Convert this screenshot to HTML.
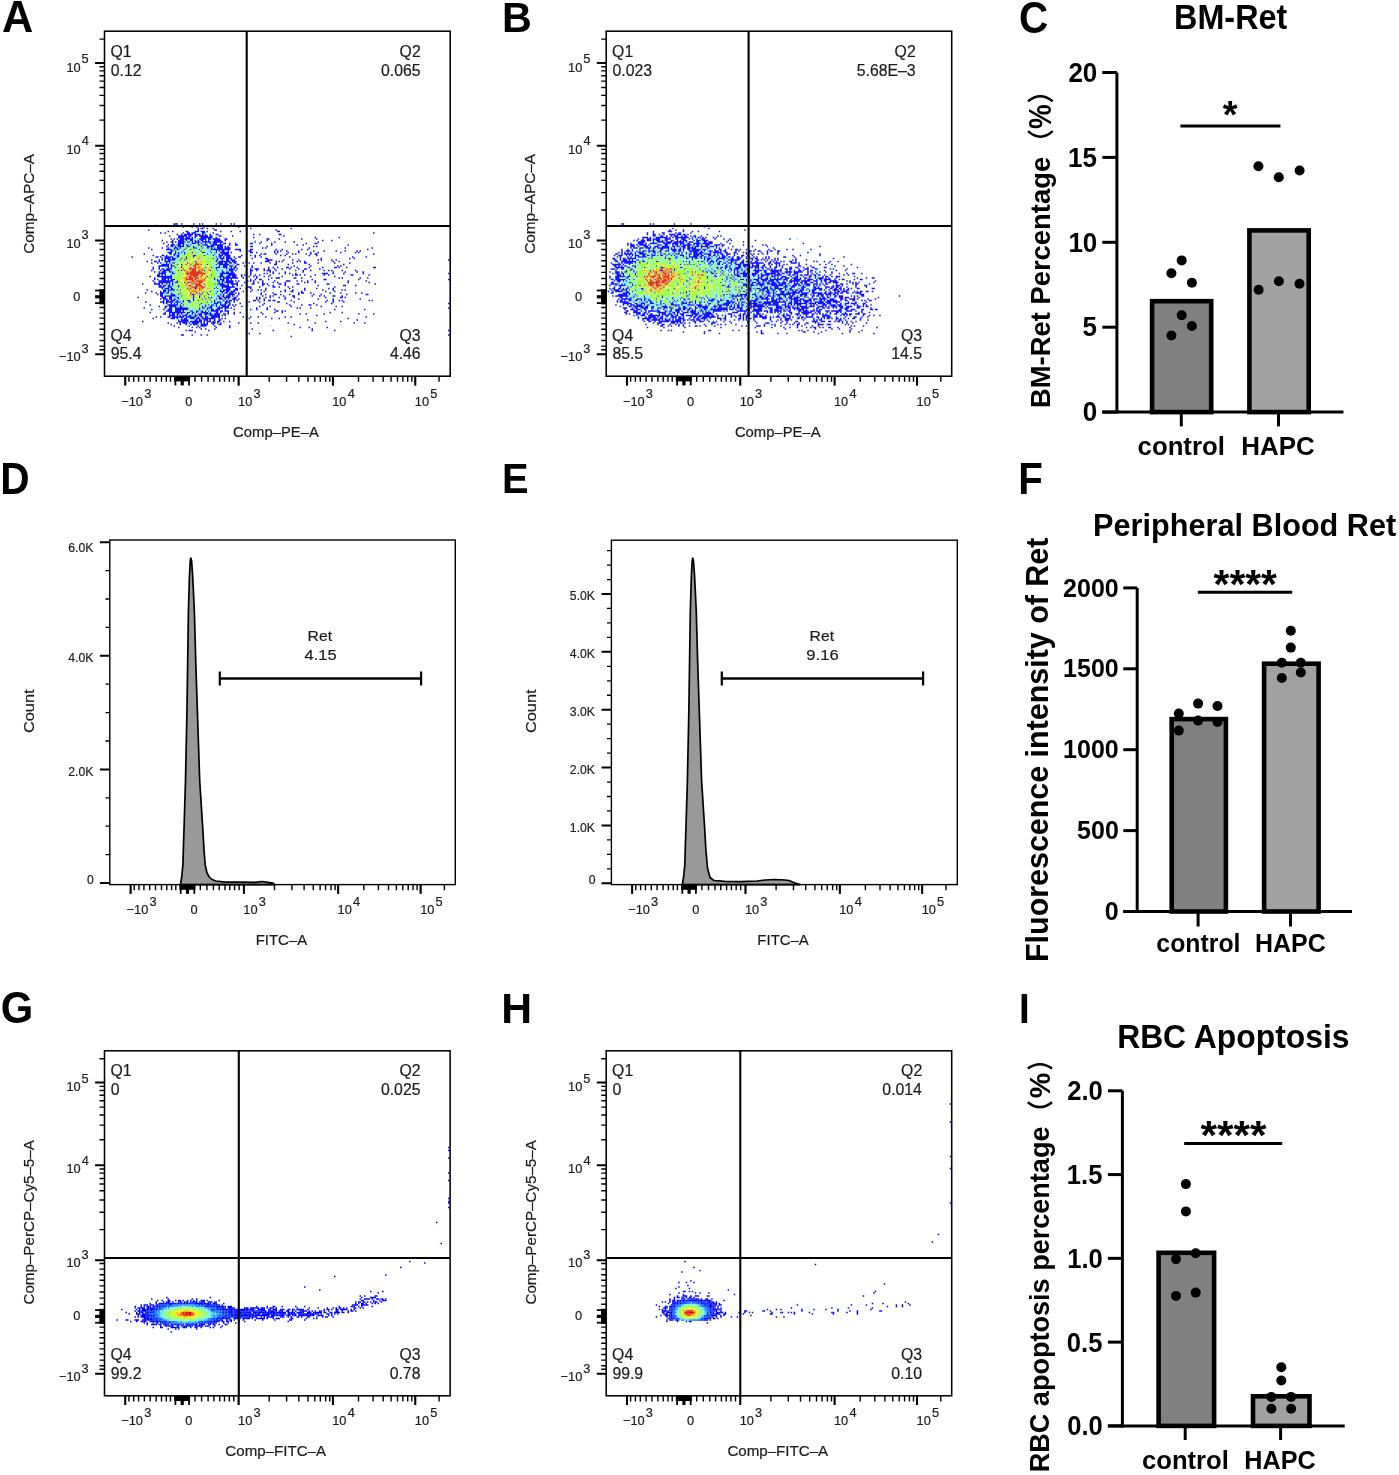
<!DOCTYPE html><html><head><meta charset="utf-8"><style>html,body{margin:0;padding:0;background:#fff}body{width:1399px;height:1475px;overflow:hidden}svg{display:block;filter:blur(0.45px)}text{font-family:"Liberation Sans",sans-serif}</style></head><body><svg width="1399" height="1475" viewBox="0 0 1399 1475"><rect width="1399" height="1475" fill="#fff"/><g transform="translate(104.5 31.95) scale(1.5)" fill="none" stroke-width="1"><path stroke="#1414ff" d="M46 128h1m0 0h1m0 0h1m2 0h1m7 0h1m3 0h1m1 0h1m8 0h1m2 0h1m6 0h1m1 0h1m-53 1h1m11 0h1m58 0h1m-54 1h1m5 0h1m2 0h1m4 0h1m22 0h1m-28 1h1m1 0h1m0 0h1m2 0h1m3 0h1m24 0h1m26 0h1m-96 1h1m32 0h1m10 0h1m0 0h1m39 0h1m-73 1h1m2 0h1m8 0h1m0 0h1m4 0h1m0 0h1m0 0h1m1 0h1m0 0h1m0 0h1m1 0h1m8 0h1m6 0h1m5 0h1m24 0h1m0 0h1m-80 1h1m2 0h1m11 0h1m2 0h1m0 0h1m1 0h1m0 0h1m0 0h1m4 0h1m0 0h1m5 0h1m106 0h1m-132 1h1m2 0h1m1 0h1m0 0h1m0 0h1m0 0h1m0 0h1m0 0h1m1 0h1m0 0h1m0 0h1m0 0h1m1 0h1m1 0h1m2 0h1m3 0h1m0 0h1m23 0h1m3 0h1m12 0h1m0 0h1m-75 1h1m5 0h1m0 0h1m0 0h1m0 0h1m0 0h1m0 0h1m1 0h1m0 0h1m2 0h1m0 0h1m1 0h1m0 0h1m0 0h1m0 0h1m0 0h1m0 0h1m1 0h1m0 0h1m4 0h1m0 0h1m7 0h1m33 0h1m-71 1h1m0 0h1m0 0h1m0 0h1m1 0h1m0 0h1m0 0h1m1 0h1m1 0h1m3 0h1m0 0h1m0 0h1m0 0h1m0 0h1m0 0h1m0 0h1m0 0h1m2 0h1m24 0h1m40 0h1m15 0h1m-113 1h1m1 0h1m1 0h1m1 0h1m0 0h1m0 0h1m0 0h1m0 0h1m0 0h1m0 0h1m0 0h1m0 0h1m4 0h1m0 0h1m0 0h1m0 0h1m0 0h1m1 0h1m0 0h1m1 0h1m0 0h1m0 0h1m0 0h1m0 0h1m3 0h1m0 0h1m26 0h1m0 0h1m6 0h1m14 0h1m9 0h1m-104 1h1m6 0h1m3 0h1m0 0h1m0 0h1m0 0h1m1 0h1m2 0h1m0 0h1m1 0h1m1 0h1m1 0h1m0 0h1m1 0h1m1 0h1m3 0h1m0 0h1m0 0h1m0 0h1m0 0h1m2 0h1m27 0h1m36 0h1m5 0h1m-111 1h1m2 0h1m0 0h1m1 0h1m1 0h1m0 0h1m0 0h1m0 0h1m0 0h1m1 0h1m0 0h1m1 0h1m1 0h1m0 0h1m0 0h1m0 0h1m1 0h1m0 0h1m0 0h1m0 0h1m0 0h1m0 0h1m1 0h1m0 0h1m0 0h1m0 0h1m0 0h1m0 0h1m0 0h1m21 0h1m3 0h1m8 0h1m6 0h1m5 0h1m15 0h1m-104 1h1m5 0h1m3 0h1m0 0h1m0 0h1m0 0h1m5 0h1m0 0h1m0 0h1m1 0h1m1 0h1m2 0h1m2 0h1m1 0h1m0 0h1m0 0h1m2 0h1m1 0h1m0 0h1m2 0h1m3 0h1m9 0h1m0 0h1m4 0h1m7 0h1m22 0h1m5 0h1m0 0h1m-100 1h1m1 0h1m0 0h1m0 0h1m1 0h1m0 0h1m0 0h1m1 0h1m1 0h1m0 0h1m1 0h1m4 0h1m0 0h1m1 0h1m0 0h1m0 0h1m0 0h1m2 0h1m0 0h1m0 0h1m0 0h1m0 0h1m0 0h1m0 0h1m0 0h1m4 0h1m3 0h1m0 0h1m22 0h1m16 0h1m3 0h1m29 0h1m-122 1h1m2 0h1m0 0h1m1 0h1m1 0h1m0 0h1m0 0h1m0 0h1m2 0h1m0 0h1m2 0h1m4 0h1m3 0h1m0 0h1m0 0h1m0 0h1m0 0h1m2 0h1m0 0h1m0 0h1m0 0h1m1 0h1m1 0h1m14 0h1m0 0h1m9 0h1m30 0h1m1 0h1m-113 1h1m8 0h1m3 0h1m3 0h1m0 0h1m0 0h1m1 0h1m3 0h1m4 0h1m0 0h1m0 0h1m3 0h1m2 0h1m0 0h1m1 0h1m1 0h1m1 0h1m0 0h1m0 0h1m0 0h1m1 0h1m0 0h1m0 0h1m0 0h1m21 0h1m1 0h1m28 0h1m23 0h1m17 0h1m-148 1h1m9 0h1m0 0h1m0 0h1m0 0h1m1 0h1m1 0h1m0 0h1m3 0h1m3 0h1m5 0h1m7 0h1m0 0h1m0 0h1m0 0h1m0 0h1m0 0h1m0 0h1m0 0h1m0 0h1m0 0h1m0 0h1m0 0h1m0 0h1m3 0h1m0 0h1m0 0h1m0 0h1m6 0h1m0 0h1m15 0h1m3 0h1m12 0h1m3 0h1m39 0h1m-132 1h1m0 0h1m1 0h1m4 0h1m11 0h1m5 0h1m3 0h1m1 0h1m1 0h1m0 0h1m2 0h1m7 0h1m5 0h1m0 0h1m15 0h1m1 0h1m1 0h1m3 0h1m7 0h1m9 0h1m6 0h1m7 0h1m5 0h1m7 0h1m1 0h1m-129 1h1m0 0h1m0 0h1m2 0h1m1 0h1m1 0h1m1 0h1m4 0h1m6 0h1m0 0h1m4 0h1m2 0h1m2 0h1m0 0h1m0 0h1m0 0h1m0 0h1m0 0h1m1 0h1m12 0h1m0 0h1m2 0h1m11 0h1m1 0h1m6 0h1m6 0h1m7 0h1m4 0h1m14 0h1m9 0h1m1 0h1m-144 1h1m16 0h1m0 0h1m1 0h1m0 0h1m1 0h1m3 0h1m14 0h1m4 0h1m2 0h1m1 0h1m0 0h1m0 0h1m0 0h1m0 0h1m21 0h1m1 0h1m0 0h1m6 0h1m6 0h1m3 0h1m1 0h1m6 0h1m2 0h1m2 0h1m0 0h1m37 0h1m-148 1h1m5 0h1m0 0h1m1 0h1m4 0h1m1 0h1m0 0h1m9 0h1m0 0h1m5 0h1m5 0h1m3 0h1m0 0h1m0 0h1m1 0h1m0 0h1m0 0h1m0 0h1m7 0h1m5 0h1m2 0h1m2 0h1m13 0h1m2 0h1m15 0h1m4 0h1m-124 1h1m15 0h1m0 0h1m1 0h1m2 0h1m0 0h1m0 0h1m0 0h1m0 0h1m0 0h1m2 0h1m0 0h1m4 0h1m4 0h1m14 0h1m1 0h1m0 0h1m1 0h1m1 0h1m0 0h1m0 0h1m2 0h1m2 0h1m0 0h1m9 0h1m3 0h1m18 0h1m41 0h1m8 0h1m-137 1h1m1 0h1m0 0h1m0 0h1m0 0h1m1 0h1m0 0h1m0 0h1m3 0h1m2 0h1m17 0h1m2 0h1m1 0h1m0 0h1m0 0h1m1 0h1m0 0h1m0 0h1m0 0h1m2 0h1m10 0h1m8 0h1m0 0h1m35 0h1m18 0h1m2 0h1m-136 1h1m4 0h1m1 0h1m1 0h1m1 0h1m0 0h1m0 0h1m0 0h1m0 0h1m3 0h1m2 0h1m20 0h1m0 0h1m2 0h1m2 0h1m0 0h1m1 0h1m0 0h1m0 0h1m21 0h1m0 0h1m0 0h1m0 0h1m7 0h1m5 0h1m3 0h1m12 0h1m1 0h1m6 0h1m2 0h1m74 0h1m-202 1h1m4 0h1m0 0h1m1 0h1m3 0h1m0 0h1m0 0h1m0 0h1m16 0h1m13 0h1m1 0h1m0 0h1m0 0h1m0 0h1m0 0h1m0 0h1m0 0h1m0 0h1m1 0h1m0 0h1m0 0h1m6 0h1m12 0h1m0 0h1m0 0h1m4 0h1m1 0h1m1 0h1m9 0h1m1 0h1m2 0h1m18 0h1m3 0h1m-126 1h1m3 0h1m1 0h1m3 0h1m1 0h1m1 0h1m0 0h1m8 0h1m19 0h1m0 0h1m0 0h1m0 0h1m1 0h1m0 0h1m1 0h1m0 0h1m1 0h1m0 0h1m4 0h1m3 0h1m2 0h1m4 0h1m5 0h1m3 0h1m10 0h1m7 0h1m0 0h1m7 0h1m10 0h1m9 0h1m-126 1h1m0 0h1m0 0h1m0 0h1m0 0h1m1 0h1m3 0h1m2 0h1m16 0h1m5 0h1m1 0h1m0 0h1m0 0h1m0 0h1m0 0h1m0 0h1m0 0h1m5 0h1m0 0h1m23 0h1m0 0h1m7 0h1m13 0h1m22 0h1m-124 1h1m0 0h1m0 0h1m0 0h1m0 0h1m0 0h1m0 0h1m1 0h1m0 0h1m0 0h1m12 0h1m16 0h1m2 0h1m0 0h1m0 0h1m1 0h1m0 0h1m0 0h1m1 0h1m5 0h1m4 0h1m27 0h1m10 0h1m17 0h1m1 0h1m-126 1h1m3 0h1m5 0h1m1 0h1m2 0h1m3 0h1m19 0h1m2 0h1m0 0h1m0 0h1m2 0h1m0 0h1m0 0h1m2 0h1m1 0h1m0 0h1m10 0h1m10 0h1m2 0h1m2 0h1m5 0h1m0 0h1m1 0h1m3 0h1m7 0h1m8 0h1m7 0h1m0 0h1m1 0h1m4 0h1m17 0h1m0 0h1m-149 1h1m3 0h1m1 0h1m0 0h1m1 0h1m0 0h1m0 0h1m0 0h1m13 0h1m15 0h1m6 0h1m1 0h1m0 0h1m0 0h1m0 0h1m1 0h1m8 0h1m2 0h1m0 0h1m0 0h1m3 0h1m2 0h1m3 0h1m4 0h1m4 0h1m5 0h1m3 0h1m0 0h1m8 0h1m-113 1h1m5 0h1m1 0h1m0 0h1m0 0h1m0 0h1m0 0h1m5 0h1m1 0h1m14 0h1m3 0h1m4 0h1m2 0h1m4 0h1m0 0h1m0 0h1m1 0h1m9 0h1m0 0h1m2 0h1m4 0h1m1 0h1m0 0h1m0 0h1m3 0h1m12 0h1m4 0h1m4 0h1m8 0h1m2 0h1m1 0h1m6 0h1m8 0h1m-135 1h1m2 0h1m1 0h1m0 0h1m0 0h1m2 0h1m0 0h1m0 0h1m17 0h1m14 0h1m0 0h1m1 0h1m0 0h1m1 0h1m0 0h1m8 0h1m2 0h1m12 0h1m1 0h1m7 0h1m11 0h1m19 0h1m7 0h1m7 0h1m3 0h1m-137 1h1m0 0h1m0 0h1m0 0h1m0 0h1m4 0h1m0 0h1m8 0h1m21 0h1m0 0h1m0 0h1m0 0h1m0 0h1m0 0h1m0 0h1m0 0h1m0 0h1m0 0h1m10 0h1m8 0h1m1 0h1m3 0h1m3 0h1m3 0h1m2 0h1m3 0h1m17 0h1m0 0h1m0 0h1m0 0h1m3 0h1m6 0h1m12 0h1m56 0h1m-195 1h1m0 0h1m1 0h1m1 0h1m3 0h1m26 0h1m5 0h1m0 0h1m3 0h1m0 0h1m0 0h1m0 0h1m0 0h1m0 0h1m3 0h1m1 0h1m3 0h1m2 0h1m2 0h1m6 0h1m14 0h1m1 0h1m0 0h1m1 0h1m2 0h1m6 0h1m5 0h1m2 0h1m14 0h1m0 0h1m10 0h1m-147 1h1m4 0h1m0 0h1m0 0h1m0 0h1m0 0h1m0 0h1m0 0h1m0 0h1m0 0h1m0 0h1m23 0h1m7 0h1m0 0h1m0 0h1m0 0h1m1 0h1m0 0h1m0 0h1m1 0h1m0 0h1m0 0h1m3 0h1m4 0h1m2 0h1m1 0h1m4 0h1m2 0h1m8 0h1m18 0h1m15 0h1m-121 1h1m4 0h1m0 0h1m0 0h1m0 0h1m0 0h1m0 0h1m0 0h1m15 0h1m1 0h1m10 0h1m3 0h1m1 0h1m0 0h1m0 0h1m0 0h1m0 0h1m0 0h1m0 0h1m0 0h1m0 0h1m0 0h1m3 0h1m8 0h1m9 0h1m2 0h1m0 0h1m0 0h1m9 0h1m0 0h1m3 0h1m24 0h1m1 0h1m11 0h1m4 0h1m-143 1h1m1 0h1m2 0h1m0 0h1m0 0h1m1 0h1m1 0h1m0 0h1m0 0h1m26 0h1m1 0h1m1 0h1m0 0h1m0 0h1m1 0h1m0 0h1m1 0h1m12 0h1m2 0h1m2 0h1m0 0h1m4 0h1m28 0h1m7 0h1m0 0h1m21 0h1m59 0h1m-198 1h1m3 0h1m0 0h1m0 0h1m0 0h1m0 0h1m0 0h1m0 0h1m0 0h1m0 0h1m0 0h1m2 0h1m26 0h1m0 0h1m1 0h1m0 0h1m1 0h1m0 0h1m0 0h1m0 0h1m0 0h1m1 0h1m1 0h1m5 0h1m1 0h1m1 0h1m5 0h1m7 0h1m7 0h1m0 0h1m0 0h1m4 0h1m2 0h1m3 0h1m4 0h1m21 0h1m11 0h1m-142 1h1m2 0h1m0 0h1m0 0h1m0 0h1m0 0h1m0 0h1m0 0h1m0 0h1m1 0h1m1 0h1m0 0h1m4 0h1m22 0h1m1 0h1m1 0h1m0 0h1m0 0h1m0 0h1m0 0h1m0 0h1m2 0h1m4 0h1m5 0h1m2 0h1m2 0h1m6 0h1m2 0h1m4 0h1m12 0h1m1 0h1m4 0h1m21 0h1m13 0h1m-152 1h1m7 0h1m0 0h1m0 0h1m0 0h1m1 0h1m2 0h1m1 0h1m1 0h1m14 0h1m5 0h1m6 0h1m1 0h1m0 0h1m0 0h1m0 0h1m0 0h1m2 0h1m1 0h1m0 0h1m0 0h1m0 0h1m0 0h1m9 0h1m0 0h1m5 0h1m0 0h1m1 0h1m7 0h1m0 0h1m2 0h1m7 0h1m0 0h1m18 0h1m0 0h1m30 0h1m-145 1h1m0 0h1m1 0h1m0 0h1m1 0h1m0 0h1m1 0h1m3 0h1m6 0h1m20 0h1m0 0h1m0 0h1m0 0h1m0 0h1m0 0h1m2 0h1m2 0h1m2 0h1m13 0h1m3 0h1m2 0h1m7 0h1m21 0h1m16 0h1m0 0h1m6 0h1m-132 1h1m0 0h1m0 0h1m0 0h1m2 0h1m0 0h1m0 0h1m4 0h1m10 0h1m13 0h1m3 0h1m0 0h1m0 0h1m0 0h1m0 0h1m0 0h1m0 0h1m0 0h1m0 0h1m8 0h1m0 0h1m0 0h1m5 0h1m8 0h1m0 0h1m2 0h1m5 0h1m2 0h1m27 0h1m-116 1h1m1 0h1m0 0h1m0 0h1m1 0h1m0 0h1m14 0h1m12 0h1m1 0h1m2 0h1m2 0h1m0 0h1m0 0h1m3 0h1m0 0h1m1 0h1m3 0h1m2 0h1m9 0h1m15 0h1m9 0h1m7 0h1m7 0h1m2 0h1m-125 1h1m10 0h1m0 0h1m1 0h1m0 0h1m0 0h1m0 0h1m0 0h1m1 0h1m1 0h1m26 0h1m1 0h1m0 0h1m0 0h1m0 0h1m0 0h1m2 0h1m0 0h1m0 0h1m9 0h1m3 0h1m1 0h1m2 0h1m12 0h1m4 0h1m7 0h1m11 0h1m6 0h1m5 0h1m1 0h1m-130 1h1m5 0h1m1 0h1m0 0h1m1 0h1m27 0h1m4 0h1m1 0h1m0 0h1m0 0h1m1 0h1m0 0h1m1 0h1m0 0h1m0 0h1m5 0h1m4 0h1m8 0h1m10 0h1m2 0h1m3 0h1m0 0h1m5 0h1m15 0h1m5 0h1m-127 1h1m6 0h1m2 0h1m0 0h1m0 0h1m1 0h1m0 0h1m1 0h1m5 0h1m6 0h1m3 0h1m1 0h1m1 0h1m2 0h1m5 0h1m3 0h1m1 0h1m0 0h1m1 0h1m0 0h1m0 0h1m1 0h1m1 0h1m14 0h1m7 0h1m16 0h1m1 0h1m0 0h1m4 0h1m12 0h1m6 0h1m9 0h1m3 0h1m-137 1h1m1 0h1m0 0h1m5 0h1m0 0h1m0 0h1m2 0h1m8 0h1m0 0h1m4 0h1m4 0h1m7 0h1m1 0h1m2 0h1m0 0h1m0 0h1m0 0h1m0 0h1m2 0h1m14 0h1m2 0h1m5 0h1m0 0h1m2 0h1m5 0h1m5 0h1m9 0h1m4 0h1m16 0h1m12 0h1m0 0h1m-139 1h1m0 0h1m1 0h1m0 0h1m0 0h1m0 0h1m0 0h1m0 0h1m0 0h1m0 0h1m3 0h1m7 0h1m3 0h1m2 0h1m8 0h1m0 0h1m1 0h1m0 0h1m1 0h1m0 0h1m0 0h1m1 0h1m2 0h1m16 0h1m4 0h1m1 0h1m6 0h1m5 0h1m0 0h1m11 0h1m4 0h1m2 0h1m5 0h1m0 0h1m4 0h1m-137 1h1m15 0h1m0 0h1m0 0h1m2 0h1m0 0h1m3 0h1m0 0h1m9 0h1m3 0h1m5 0h1m1 0h1m4 0h1m0 0h1m1 0h1m0 0h1m0 0h1m0 0h1m0 0h1m2 0h1m0 0h1m13 0h1m1 0h1m3 0h1m2 0h1m5 0h1m3 0h1m5 0h1m20 0h1m9 0h1m0 0h1m1 0h1m-124 1h1m1 0h1m0 0h1m0 0h1m1 0h1m0 0h1m1 0h1m0 0h1m1 0h1m9 0h1m5 0h1m1 0h1m2 0h1m3 0h1m1 0h1m0 0h1m0 0h1m1 0h1m1 0h1m2 0h1m0 0h1m0 0h1m1 0h1m11 0h1m1 0h1m2 0h1m13 0h1m8 0h1m12 0h1m9 0h1m17 0h1m-132 1h1m1 0h1m0 0h1m1 0h1m0 0h1m0 0h1m1 0h1m3 0h1m2 0h1m0 0h1m2 0h1m2 0h1m10 0h1m5 0h1m1 0h1m1 0h1m0 0h1m1 0h1m1 0h1m10 0h1m0 0h1m1 0h1m3 0h1m2 0h1m0 0h1m1 0h1m0 0h1m10 0h1m23 0h1m3 0h1m3 0h1m1 0h1m17 0h1m1 0h1m-152 1h1m9 0h1m0 0h1m0 0h1m1 0h1m0 0h1m0 0h1m0 0h1m0 0h1m1 0h1m0 0h1m0 0h1m0 0h1m1 0h1m3 0h1m0 0h1m10 0h1m2 0h1m1 0h1m1 0h1m0 0h1m0 0h1m2 0h1m0 0h1m0 0h1m0 0h1m2 0h1m9 0h1m6 0h1m11 0h1m0 0h1m9 0h1m20 0h1m4 0h1m6 0h1m-121 1h1m1 0h1m2 0h1m1 0h1m1 0h1m2 0h1m12 0h1m8 0h1m0 0h1m0 0h1m1 0h1m2 0h1m0 0h1m1 0h1m6 0h1m15 0h1m14 0h1m17 0h1m11 0h1m77 0h1m-200 1h1m11 0h1m0 0h1m0 0h1m0 0h1m0 0h1m0 0h1m0 0h1m1 0h1m1 0h1m10 0h1m3 0h1m1 0h1m1 0h1m0 0h1m1 0h1m2 0h1m0 0h1m0 0h1m0 0h1m1 0h1m0 0h1m1 0h1m1 0h1m17 0h1m17 0h1m7 0h1m4 0h1m0 0h1m3 0h1m-106 1h1m3 0h1m0 0h1m1 0h1m0 0h1m0 0h1m0 0h1m0 0h1m2 0h1m0 0h1m13 0h1m1 0h1m2 0h1m0 0h1m2 0h1m1 0h1m1 0h1m0 0h1m0 0h1m0 0h1m0 0h1m3 0h1m4 0h1m11 0h1m6 0h1m13 0h1m19 0h1m9 0h1m3 0h1m-133 1h1m13 0h1m2 0h1m0 0h1m2 0h1m0 0h1m0 0h1m0 0h1m0 0h1m0 0h1m0 0h1m0 0h1m0 0h1m7 0h1m1 0h1m0 0h1m1 0h1m0 0h1m0 0h1m0 0h1m3 0h1m0 0h1m0 0h1m0 0h1m1 0h1m0 0h1m0 0h1m1 0h1m16 0h1m6 0h1m19 0h1m1 0h1m6 0h1m91 0h1m-199 1h1m7 0h1m2 0h1m0 0h1m0 0h1m2 0h1m0 0h1m0 0h1m0 0h1m0 0h1m0 0h1m0 0h1m0 0h1m0 0h1m7 0h1m4 0h1m2 0h1m0 0h1m1 0h1m0 0h1m0 0h1m3 0h1m5 0h1m10 0h1m3 0h1m6 0h1m4 0h1m39 0h1m19 0h1m-133 1h1m0 0h1m0 0h1m0 0h1m2 0h1m0 0h1m0 0h1m0 0h1m1 0h1m4 0h1m0 0h1m2 0h1m0 0h1m1 0h1m0 0h1m1 0h1m1 0h1m1 0h1m0 0h1m0 0h1m0 0h1m0 0h1m1 0h1m0 0h1m1 0h1m0 0h1m0 0h1m31 0h1m0 0h1m2 0h1m1 0h1m-91 1h1m9 0h1m2 0h1m0 0h1m0 0h1m0 0h1m0 0h1m0 0h1m0 0h1m0 0h1m0 0h1m0 0h1m0 0h1m1 0h1m0 0h1m1 0h1m0 0h1m1 0h1m2 0h1m0 0h1m0 0h1m0 0h1m0 0h1m1 0h1m3 0h1m0 0h1m1 0h1m4 0h1m3 0h1m3 0h1m13 0h1m8 0h1m4 0h1m31 0h1m7 0h1m-120 1h1m0 0h1m2 0h1m1 0h1m0 0h1m1 0h1m0 0h1m1 0h1m2 0h1m0 0h1m2 0h1m1 0h1m1 0h1m0 0h1m0 0h1m1 0h1m0 0h1m0 0h1m0 0h1m0 0h1m0 0h1m1 0h1m0 0h1m0 0h1m0 0h1m2 0h1m0 0h1m1 0h1m3 0h1m18 0h1m24 0h1m3 0h1m11 0h1m22 0h1m9 0h1m-137 1h1m0 0h1m0 0h1m0 0h1m1 0h1m1 0h1m1 0h1m0 0h1m0 0h1m1 0h1m0 0h1m2 0h1m0 0h1m1 0h1m0 0h1m2 0h1m2 0h1m0 0h1m0 0h1m0 0h1m0 0h1m0 0h1m0 0h1m1 0h1m1 0h1m60 0h1m-108 1h1m2 0h1m4 0h1m0 0h1m1 0h1m0 0h1m0 0h1m0 0h1m0 0h1m0 0h1m0 0h1m0 0h1m1 0h1m0 0h1m0 0h1m0 0h1m0 0h1m0 0h1m0 0h1m1 0h1m1 0h1m0 0h1m1 0h1m0 0h1m2 0h1m0 0h1m0 0h1m0 0h1m0 0h1m0 0h1m15 0h1m4 0h1m4 0h1m4 0h1m12 0h1m3 0h1m49 0h1m-143 1h1m11 0h1m0 0h1m0 0h1m1 0h1m2 0h1m1 0h1m0 0h1m2 0h1m0 0h1m0 0h1m1 0h1m0 0h1m0 0h1m1 0h1m0 0h1m0 0h1m0 0h1m0 0h1m0 0h1m0 0h1m0 0h1m0 0h1m2 0h1m1 0h1m1 0h1m15 0h1m14 0h1m4 0h1m45 0h1m-114 1h1m1 0h1m0 0h1m0 0h1m0 0h1m0 0h1m4 0h1m0 0h1m1 0h1m0 0h1m1 0h1m0 0h1m0 0h1m1 0h1m2 0h1m2 0h1m0 0h1m57 0h1m32 0h1m-144 1h1m23 0h1m0 0h1m0 0h1m0 0h1m0 0h1m0 0h1m0 0h1m1 0h1m0 0h1m0 0h1m0 0h1m0 0h1m0 0h1m0 0h1m0 0h1m1 0h1m1 0h1m0 0h1m0 0h1m1 0h1m0 0h1m1 0h1m0 0h1m2 0h1m3 0h1m63 0h1m9 0h1m-116 1h1m5 0h1m1 0h1m1 0h1m0 0h1m0 0h1m1 0h1m1 0h1m0 0h1m0 0h1m0 0h1m0 0h1m1 0h1m1 0h1m1 0h1m2 0h1m0 0h1m0 0h1m1 0h1m1 0h1m11 0h1m7 0h1m4 0h1m19 0h1m17 0h1m25 0h1m6 0h1m-130 1h1m5 0h1m3 0h1m2 0h1m1 0h1m0 0h1m0 0h1m2 0h1m0 0h1m0 0h1m0 0h1m0 0h1m3 0h1m3 0h1m0 0h1m48 0h1m-81 1h1m9 0h1m5 0h1m1 0h1m0 0h1m0 0h1m0 0h1m5 0h1m9 0h1m-35 1h1m8 0h1m2 0h1m1 0h1m10 0h1m8 0h1m46 0h1m5 0h1m11 0h1m-85 1h1m2 0h1m5 0h1m24 0h1m39 0h1m-85 1h1m1 0h1m0 0h1m0 0h1m10 0h1m42 0h1m25 0h1m14 0h1m75 0h1m-170 1h1m35 1h1m6 0h1m-53 1h1m0 0h1m5 0h1m5 0h1m3 0h1m160 0h1m-106 1h1"/><path stroke="#78f0ff" d="M61 134h1m0 0h1m4 0h1m2 0h1m8 3h1m-21 1h1m0 0h1m0 0h1m0 0h1m5 0h1m2 0h1m-16 1h1m6 0h1m7 0h1m28 0h1m-44 1h1m1 0h1m11 0h1m-24 1h1m4 0h1m0 0h1m1 0h1m0 0h1m7 0h1m2 0h1m2 0h1m-25 1h1m5 0h1m2 0h1m2 0h1m1 0h1m8 0h1m-25 1h1m1 0h1m4 0h1m3 0h1m2 0h1m0 0h1m4 0h1m6 0h1m-31 1h1m1 0h1m5 0h1m0 0h1m3 0h1m5 0h1m0 0h1m2 0h1m0 0h1m2 0h1m1 0h1m1 0h1m-24 1h1m0 0h1m2 0h1m5 0h1m0 0h1m2 0h1m1 0h1m0 0h1m0 0h1m0 0h1m-30 1h1m4 0h1m2 0h1m0 0h1m0 0h1m1 0h1m1 0h1m3 0h1m0 0h1m1 0h1m0 0h1m4 0h1m0 0h1m1 0h1m1 0h1m1 0h1m-28 1h1m1 0h1m1 0h1m1 0h1m2 0h1m4 0h1m4 0h1m0 0h1m0 0h1m0 0h1m1 0h1m0 0h1m-26 1h1m1 0h1m0 0h1m0 0h1m7 0h1m1 0h1m0 0h1m3 0h1m1 0h1m0 0h1m1 0h1m1 0h1m-31 1h1m2 0h1m2 0h1m17 0h1m2 0h1m1 0h1m0 0h1m0 0h1m-30 1h1m0 0h1m3 0h1m18 0h1m2 0h1m1 0h1m-28 1h1m16 0h1m1 0h1m1 0h1m4 0h1m1 0h1m8 0h1m-51 1h1m5 0h1m5 0h1m0 0h1m2 0h1m8 0h1m2 0h1m7 0h1m1 0h1m5 0h1m3 0h1m-40 1h1m2 0h1m0 0h1m13 0h1m10 0h1m-36 1h1m0 0h1m2 0h1m1 0h1m2 0h1m1 0h1m0 0h1m20 0h1m0 0h1m-30 1h1m12 0h1m15 0h1m0 0h1m9 0h1m0 0h1m0 0h1m0 0h1m-21 1h1m5 0h1m0 0h1m0 0h1m0 0h1m2 0h1m-39 1h1m2 0h1m1 0h1m2 0h1m0 0h1m5 0h1m17 0h1m3 0h1m0 0h1m3 0h1m0 0h1m-38 1h1m0 0h1m20 0h1m3 0h1m0 0h1m1 0h1m0 0h1m0 0h1m1 0h1m2 0h1m4 0h1m57 0h1m-102 1h1m1 0h1m27 0h1m2 0h1m3 0h1m0 0h1m3 0h1m-52 1h1m6 0h1m3 0h1m0 0h1m18 0h1m7 0h1m0 0h1m0 0h1m0 0h1m5 0h1m-41 1h1m0 0h1m2 0h1m27 0h1m0 0h1m73 0h1m-112 1h1m1 0h1m0 0h1m2 0h1m0 0h1m0 0h1m3 0h1m22 0h1m1 0h1m2 0h1m0 0h1m0 0h1m-37 1h1m2 0h1m26 0h1m4 0h1m-6 1h1m0 0h1m-34 1h1m26 0h1m1 0h1m1 0h1m1 0h1m-30 1h1m8 0h1m15 0h1m4 0h1m-32 1h1m11 0h1m15 0h1m4 0h1m71 0h1m-110 1h1m1 0h1m2 0h1m26 0h1m8 0h1m-43 1h1m2 0h1m2 0h1m17 0h1m9 0h1m0 0h1m-36 1h1m3 0h1m1 0h1m0 0h1m18 0h1m5 0h1m1 0h1m0 0h1m-38 1h1m3 0h1m4 0h1m7 0h1m15 0h1m1 0h1m1 0h1m0 0h1m-37 1h1m25 0h1m6 0h1m1 0h1m1 0h1m-38 1h1m1 0h1m0 0h1m0 0h1m0 0h1m1 0h1m1 0h1m18 0h1m3 0h1m0 0h1m1 0h1m6 0h1m17 0h1m-62 1h1m4 0h1m0 0h1m24 0h1m1 0h1m1 0h1m1 0h1m-38 1h1m6 0h1m0 0h1m24 0h1m0 0h1m0 0h1m0 0h1m1 0h1m-31 1h1m0 0h1m24 0h1m-33 1h1m2 0h1m0 0h1m0 0h1m2 0h1m2 0h1m16 0h1m1 0h1m1 0h1m0 0h1m8 0h1m-40 1h1m2 0h1m1 0h1m7 0h1m1 0h1m11 0h1m0 0h1m1 0h1m5 0h1m-42 1h1m8 0h1m0 0h1m0 0h1m5 0h1m9 0h1m0 0h1m2 0h1m2 0h1m1 0h1m0 0h1m0 0h1m-33 1h1m4 0h1m1 0h1m9 0h1m8 0h1m5 0h1m0 0h1m4 0h1m-45 1h1m4 0h1m1 0h1m1 0h1m0 0h1m3 0h1m0 0h1m0 0h1m0 0h1m2 0h1m2 0h1m5 0h1m0 0h1m0 0h1m0 0h1m3 0h1m1 0h1m3 0h1m-30 1h1m0 0h1m5 0h1m4 0h1m0 0h1m1 0h1m4 0h1m1 0h1m5 0h1m13 0h1m-48 1h1m0 0h1m4 0h1m1 0h1m1 0h1m4 0h1m2 0h1m2 0h1m2 0h1m2 0h1m-31 1h1m10 0h1m1 0h1m0 0h1m0 0h1m0 0h1m10 0h1m1 0h1m-39 1h1m4 0h1m3 0h1m11 0h1m0 0h1m3 0h1m1 0h1m0 0h1m0 0h1m0 0h1m1 0h1m0 0h1m27 0h1m-54 1h1m8 0h1m0 0h1m0 0h1m2 0h1m0 0h1m9 0h1m-11 1h1m1 0h1m0 0h1m5 0h1m2 0h1m6 0h1m-33 1h1m5 0h1m2 0h1m2 0h1m5 0h1m6 0h1m-18 1h1m2 0h1m0 0h1m9 0h1m-17 1h1m15 0h1m-21 1h1m6 0h1m3 0h1m3 0h1m-15 1h1m6 0h1m0 0h1m-4 2h1m1 0h1m-3 2h1m54 0h1m-45 1h1"/><path stroke="#a4ff40" d="M53 139h1m1 0h1m-1 2h1m7 0h1m-6 1h1m1 0h1m3 0h1m-11 1h1m3 0h1m3 0h1m0 0h1m1 0h1m1 0h1m-15 1h1m1 0h1m1 0h1m0 0h1m5 0h1m-18 1h1m6 0h1m1 0h1m1 0h1m0 0h1m0 0h1m3 0h1m1 0h1m-19 1h1m5 0h1m1 0h1m0 0h1m0 0h1m2 0h1m3 0h1m0 0h1m0 0h1m4 0h1m-18 1h1m0 0h1m2 0h1m1 0h1m1 0h1m0 0h1m-11 1h1m0 0h1m0 0h1m0 0h1m1 0h1m1 0h1m2 0h1m0 0h1m0 0h1m4 0h1m-29 1h1m7 0h1m0 0h1m0 0h1m0 0h1m0 0h1m0 0h1m1 0h1m2 0h1m0 0h1m0 0h1m0 0h1m0 0h1m1 0h1m1 0h1m0 0h1m-21 1h1m1 0h1m0 0h1m1 0h1m0 0h1m0 0h1m0 0h1m1 0h1m0 0h1m0 0h1m1 0h1m0 0h1m0 0h1m0 0h1m0 0h1m0 0h1m1 0h1m0 0h1m-24 1h1m2 0h1m0 0h1m1 0h1m0 0h1m0 0h1m1 0h1m1 0h1m2 0h1m1 0h1m1 0h1m1 0h1m0 0h1m1 0h1m-25 1h1m2 0h1m2 0h1m0 0h1m0 0h1m6 0h1m2 0h1m0 0h1m0 0h1m0 0h1m1 0h1m3 0h1m-32 1h1m3 0h1m0 0h1m0 0h1m0 0h1m1 0h1m0 0h1m2 0h1m0 0h1m6 0h1m0 0h1m0 0h1m0 0h1m0 0h1m0 0h1m0 0h1m2 0h1m-28 1h1m2 0h1m0 0h1m6 0h1m2 0h1m1 0h1m1 0h1m0 0h1m0 0h1m0 0h1m0 0h1m2 0h1m0 0h1m-30 1h1m0 0h1m0 0h1m1 0h1m2 0h1m0 0h1m4 0h1m0 0h1m6 0h1m0 0h1m1 0h1m0 0h1m4 0h1m-33 1h1m3 0h1m0 0h1m0 0h1m2 0h1m2 0h1m2 0h1m2 0h1m2 0h1m2 0h1m2 0h1m0 0h1m-26 1h1m3 0h1m1 0h1m0 0h1m10 0h1m1 0h1m2 0h1m0 0h1m1 0h1m-25 1h1m0 0h1m0 0h1m3 0h1m11 0h1m0 0h1m2 0h1m0 0h1m-27 1h1m1 0h1m0 0h1m1 0h1m1 0h1m2 0h1m5 0h1m5 0h1m0 0h1m2 0h1m0 0h1m0 0h1m2 0h1m2 0h1m0 0h1m-40 1h1m6 0h1m0 0h1m0 0h1m0 0h1m1 0h1m14 0h1m1 0h1m0 0h1m0 0h1m0 0h1m-26 1h1m0 0h1m0 0h1m0 0h1m16 0h1m0 0h1m1 0h1m0 0h1m0 0h1m0 0h1m-27 1h1m0 0h1m0 0h1m1 0h1m1 0h1m15 0h1m1 0h1m0 0h1m1 0h1m-30 1h1m0 0h1m1 0h1m0 0h1m0 0h1m17 0h1m0 0h1m0 0h1m0 0h1m0 0h1m0 0h1m-30 1h1m0 0h1m0 0h1m0 0h1m0 0h1m1 0h1m13 0h1m0 0h1m2 0h1m1 0h1m0 0h1m1 0h1m3 0h1m-32 1h1m0 0h1m0 0h1m0 0h1m0 0h1m1 0h1m13 0h1m1 0h1m1 0h1m-26 1h1m2 0h1m0 0h1m1 0h1m2 0h1m13 0h1m0 0h1m0 0h1m1 0h1m0 0h1m-26 1h1m0 0h1m0 0h1m16 0h1m0 0h1m0 0h1m0 0h1m0 0h1m0 0h1m1 0h1m1 0h1m-32 1h1m1 0h1m0 0h1m0 0h1m0 0h1m0 0h1m12 0h1m1 0h1m0 0h1m0 0h1m0 0h1m0 0h1m0 0h1m-27 1h1m1 0h1m2 0h1m0 0h1m0 0h1m5 0h1m9 0h1m0 0h1m0 0h1m0 0h1m0 0h1m0 0h1m-29 1h1m3 0h1m0 0h1m0 0h1m0 0h1m0 0h1m14 0h1m0 0h1m0 0h1m0 0h1m-27 1h1m0 0h1m1 0h1m1 0h1m0 0h1m1 0h1m12 0h1m2 0h1m0 0h1m-25 1h1m1 0h1m2 0h1m0 0h1m0 0h1m11 0h1m2 0h1m0 0h1m0 0h1m0 0h1m0 0h1m1 0h1m-29 1h1m1 0h1m2 0h1m0 0h1m1 0h1m11 0h1m0 0h1m2 0h1m0 0h1m-26 1h1m0 0h1m0 0h1m1 0h1m0 0h1m1 0h1m0 0h1m2 0h1m1 0h1m3 0h1m2 0h1m1 0h1m0 0h1m1 0h1m3 0h1m-36 1h1m0 0h1m0 0h1m6 0h1m0 0h1m0 0h1m0 0h1m0 0h1m1 0h1m4 0h1m3 0h1m1 0h1m0 0h1m1 0h1m0 0h1m0 0h1m-23 1h1m1 0h1m0 0h1m0 0h1m1 0h1m1 0h1m1 0h1m1 0h1m1 0h1m0 0h1m1 0h1m0 0h1m0 0h1m0 0h1m0 0h1m0 0h1m0 0h1m6 0h1m-30 1h1m0 0h1m1 0h1m0 0h1m0 0h1m3 0h1m3 0h1m2 0h1m0 0h1m-18 1h1m0 0h1m0 0h1m0 0h1m0 0h1m0 0h1m0 0h1m3 0h1m0 0h1m0 0h1m0 0h1m3 0h1m0 0h1m1 0h1m-19 1h1m0 0h1m3 0h1m1 0h1m2 0h1m0 0h1m0 0h1m0 0h1m2 0h1m0 0h1m1 0h1m-19 1h1m0 0h1m2 0h1m0 0h1m0 0h1m0 0h1m0 0h1m1 0h1m0 0h1m0 0h1m0 0h1m1 0h1m0 0h1m3 0h1m-23 1h1m0 0h1m4 0h1m0 0h1m1 0h1m0 0h1m2 0h1m0 0h1m0 0h1m0 0h1m-20 1h1m1 0h1m3 0h1m0 0h1m0 0h1m0 0h1m0 0h1m1 0h1m2 0h1m5 0h1m-19 1h1m0 0h1m1 0h1m1 0h1m1 0h1m0 0h1m0 0h1m0 0h1m1 0h1m3 0h1m4 0h1m-17 1h1m4 0h1m1 0h1m2 0h1m-12 1h1m2 0h1m0 0h1m0 0h1m-9 1h1m9 0h1m2 0h1m1 0h1m-15 1h1m2 0h1m3 1h1m4 1h1m-4 6h1m58 4h1"/><path stroke="#e0ff30" d="M57 149h1m-8 2h1m7 0h1m1 0h1m-3 1h1m0 0h1m1 0h1m3 0h1m0 0h1m-14 1h1m2 0h1m0 0h1m5 0h1m-11 1h1m0 0h1m2 0h1m7 0h1m-16 1h1m4 0h1m9 0h1m5 0h1m-22 1h1m2 0h1m0 0h1m2 0h1m7 0h1m2 0h1m0 0h1m-16 1h1m1 0h1m1 0h1m6 0h1m2 0h1m-18 1h1m1 0h1m1 0h1m5 0h1m-6 1h1m-5 1h1m16 0h1m-17 1h1m16 0h1m-18 1h1m9 0h1m2 0h1m1 0h1m0 0h1m-18 1h1m0 0h1m1 0h1m6 0h1m2 0h1m0 0h1m0 0h1m-18 1h1m12 0h1m4 0h1m-17 1h1m15 0h1m-18 1h1m16 0h1m-17 1h1m1 0h1m11 0h1m0 0h1m-15 1h1m2 0h1m0 0h1m-8 1h1m4 0h1m2 0h1m7 0h1m1 0h1m-1 1h1m-19 1h1m2 0h1m4 0h1m3 0h1m3 0h1m-16 1h1m3 0h1m1 0h1m3 0h1m0 0h1m2 0h1m2 0h1m-18 1h1m2 0h1m1 0h1m6 0h1m0 0h1m-12 1h1m2 0h1m5 0h1m3 0h1m-12 1h1m10 0h1m-12 1h1m5 0h1m-5 1h1m3 0h1m0 0h1m2 0h1m0 1h1m-6 1h1m0 3h1"/><path stroke="#ffa020" d="M60 147h1m-3 1h1m4 2h1m-2 1h1m0 0h1m-10 1h1m7 0h1m-2 1h1m2 0h1m0 0h1m-10 1h1m1 0h1m1 0h1m2 0h1m-1 1h1m-8 1h1m5 0h1m0 0h1m-5 1h1m1 0h1m1 0h1m-2 1h1m0 0h1m0 0h1m4 0h1m-16 1h1m2 0h1m4 0h1m1 0h1m0 0h1m3 0h1m-16 1h1m1 0h1m8 0h1m1 0h1m-16 1h1m14 0h1m-12 1h1m7 0h1m2 0h1m-14 1h1m3 0h1m4 0h1m-12 1h1m0 0h1m1 0h1m3 0h1m4 0h1m5 0h1m-12 1h1m1 0h1m0 0h1m0 0h1m0 0h1m0 0h1m-13 1h1m0 0h1m2 0h1m2 0h1m5 0h1m0 0h1m-8 1h1m0 0h1m0 0h1m2 0h1m-11 1h1m3 0h1m4 0h1m-11 1h1m5 0h1m6 0h1m-13 1h1m0 0h1m0 0h1m4 0h1m0 0h1m-5 1h1m4 0h1m3 0h1m0 0h1m-12 1h1m0 0h1m0 0h1m3 0h1m-8 1h1m0 0h1m0 0h1m1 0h1m0 0h1m2 0h1m0 0h1m-8 1h1m-3 1h1m2 0h1m1 0h1m0 0h1m-7 1h1m0 1h1m7 0h1"/><path stroke="#e8341a" d="M61 154h1m-8 1h1m2 0h1m2 0h1m0 0h1m0 0h1m1 0h1m-14 1h1m8 0h1m-4 1h1m2 0h1m1 0h1m4 0h1m-16 1h1m3 0h1m0 0h1m1 0h1m0 0h1m4 0h1m-13 1h1m4 0h1m0 0h1m0 0h1m2 0h1m-9 1h1m1 0h1m0 0h1m0 0h1m0 0h1m0 0h1m0 0h1m1 0h1m-11 1h1m1 0h1m0 0h1m0 0h1m0 0h1m0 0h1m0 0h1m0 0h1m0 0h1m0 0h1m0 0h1m0 0h1m-12 1h1m1 0h1m0 0h1m0 0h1m0 0h1m0 0h1m0 0h1m2 0h1m-10 1h1m0 0h1m1 0h1m0 0h1m0 0h1m2 0h1m-11 1h1m1 0h1m0 0h1m0 0h1m2 0h1m5 0h1m-14 1h1m0 0h1m0 0h1m0 0h1m0 0h1m1 0h1m5 0h1m-9 1h1m0 0h1m1 0h1m0 0h1m0 0h1m0 0h1m0 0h1m-11 1h1m0 0h1m0 0h1m1 0h1m3 0h1m0 0h1m-11 1h1m3 0h1m2 0h1m0 0h1m0 0h1m-7 1h1m3 0h1m0 0h1m0 0h1m0 0h1m-7 1h1m0 0h1m1 0h1m2 0h1m0 0h1m0 0h1m-12 1h1m1 0h1m3 0h1m1 0h1m1 0h1m-10 1h1m6 0h1m-4 1h1"/></g><line x1="246.7" y1="31.2" x2="246.7" y2="376.2" stroke="#000" stroke-width="2.1"/><line x1="104.5" y1="226" x2="450.2" y2="226" stroke="#000" stroke-width="2.1"/><rect x="104.5" y="31.2" width="345.7" height="345" fill="none" stroke="#000" stroke-width="1.55"/><path d="M125.3 376.2v9.2M238.6 376.2v9.2M332.9 376.2v9.2M415.3 376.2v9.2M128.9 376.2v5.6M133.7 376.2v5.6M138.6 376.2v5.6M144.4 376.2v5.6M150.2 376.2v5.6M156.2 376.2v5.6M161.5 376.2v5.6M166.3 376.2v5.6M170.5 376.2v5.6M195 376.2v5.6M201.6 376.2v5.6M208.1 376.2v5.6M213.9 376.2v5.6M219.7 376.2v5.6M224.5 376.2v5.6M229.3 376.2v5.6M233.8 376.2v5.6M269.2 376.2v5.6M286.6 376.2v5.6M298.8 376.2v5.6M308 376.2v5.6M314.8 376.2v5.6M320.3 376.2v5.6M325.7 376.2v5.6M329.8 376.2v5.6M358.5 376.2v5.6M373.1 376.2v5.6M383.2 376.2v5.6M391.1 376.2v5.6M397.5 376.2v5.6M402.9 376.2v5.6M407.7 376.2v5.6M411.8 376.2v5.6M439.1 376.2v5.6" stroke="#000" stroke-width="1.4" fill="none"/><path d="M125.3 376.2v9.2M238.6 376.2v9.2M332.9 376.2v9.2M415.3 376.2v9.2" stroke="#000" stroke-width="2" fill="none"/><rect x="174.1" y="376.2" width="16" height="5.2" fill="#000"/><line x1="175.4" y1="376.2" x2="175.4" y2="385.4" stroke="#000" stroke-width="1.8"/><line x1="182.2" y1="376.2" x2="182.2" y2="385.4" stroke="#000" stroke-width="3.2"/><line x1="189" y1="376.2" x2="189" y2="385.4" stroke="#000" stroke-width="1.8"/><path d="M104.5 349.7h-5M104.5 346.1h-5M104.5 340.5h-5M104.5 334.9h-5M104.5 329.3h-5M104.5 323.7h-5M104.5 318.1h-5M104.5 313.1h-5M104.5 307.5h-5M104.5 284.6h-5M104.5 278.5h-5M104.5 272.4h-5M104.5 266.3h-5M104.5 260.7h-5M104.5 255.1h-5M104.5 249.5h-5M104.5 243.9h-5M104.5 210h-5M104.5 192.6h-5M104.5 180.4h-5M104.5 171.2h-5M104.5 164.4h-5M104.5 158.9h-5M104.5 153.5h-5M104.5 149.4h-5M104.5 120.1h-5M104.5 105.5h-5M104.5 95.4h-5M104.5 87.5h-5M104.5 81.1h-5M104.5 75.7h-5M104.5 70.9h-5M104.5 66.8h-5M104.5 39.1h-5" stroke="#000" stroke-width="1.4" fill="none"/><path d="M104.5 354.2h-9.4M104.5 240.6h-9.4M104.5 145.7h-9.4M104.5 62.9h-9.4" stroke="#000" stroke-width="2" fill="none"/><rect x="99.3" y="289.2" width="5.2" height="15.2" fill="#000"/><line x1="104.5" y1="303.1" x2="95.1" y2="303.1" stroke="#000" stroke-width="1.8"/><line x1="104.5" y1="296.8" x2="95.1" y2="296.8" stroke="#000" stroke-width="3.2"/><line x1="104.5" y1="290.5" x2="95.1" y2="290.5" stroke="#000" stroke-width="1.8"/><text transform="translate(121.26,405.8)" font-size="12.8" fill="#1c1c1c" stroke="#1c1c1c" stroke-width="0.2">−10</text><text transform="translate(144.13,397.5)" font-size="12.8" fill="#1c1c1c" stroke="#1c1c1c" stroke-width="0.2">3</text><text transform="translate(185.25,405.8)" font-size="12.8" fill="#1c1c1c" stroke="#1c1c1c" stroke-width="0.2">0</text><text transform="translate(238.04,405.8)" font-size="12.8" fill="#1c1c1c" stroke="#1c1c1c" stroke-width="0.2">10</text><text transform="translate(253.42,397.5)" font-size="12.8" fill="#1c1c1c" stroke="#1c1c1c" stroke-width="0.2">3</text><text transform="translate(332.24,405.8)" font-size="12.8" fill="#1c1c1c" stroke="#1c1c1c" stroke-width="0.2">10</text><text transform="translate(347.82,397.5)" font-size="12.8" fill="#1c1c1c" stroke="#1c1c1c" stroke-width="0.2">4</text><text transform="translate(414.84,405.8)" font-size="12.8" fill="#1c1c1c" stroke="#1c1c1c" stroke-width="0.2">10</text><text transform="translate(430.22,397.5)" font-size="12.8" fill="#1c1c1c" stroke="#1c1c1c" stroke-width="0.2">5</text><text transform="translate(66.4,71.8)" font-size="12.8" fill="#1c1c1c" stroke="#1c1c1c" stroke-width="0.2">10</text><text transform="translate(81.59,63.4)" font-size="12.8" fill="#1c1c1c" stroke="#1c1c1c" stroke-width="0.2">5</text><text transform="translate(66.4,153.6)" font-size="12.8" fill="#1c1c1c" stroke="#1c1c1c" stroke-width="0.2">10</text><text transform="translate(81.78,145.2)" font-size="12.8" fill="#1c1c1c" stroke="#1c1c1c" stroke-width="0.2">4</text><text transform="translate(66.4,247.6)" font-size="12.8" fill="#1c1c1c" stroke="#1c1c1c" stroke-width="0.2">10</text><text transform="translate(81.59,239.2)" font-size="12.8" fill="#1c1c1c" stroke="#1c1c1c" stroke-width="0.2">3</text><text transform="translate(73.31,300.62)" font-size="12.8" fill="#1c1c1c" stroke="#1c1c1c" stroke-width="0.2">0</text><text transform="translate(58.92,361.4)" font-size="12.8" fill="#1c1c1c" stroke="#1c1c1c" stroke-width="0.2">−10</text><text transform="translate(81.59,353)" font-size="12.8" fill="#1c1c1c" stroke="#1c1c1c" stroke-width="0.2">3</text><text transform="translate(110.39,56.6)" font-size="15.8" fill="#1c1c1c" stroke="#1c1c1c" stroke-width="0.2">Q1</text><text transform="translate(110.77,75.6)" font-size="15.8" fill="#1c1c1c" stroke="#1c1c1c" stroke-width="0.2">0.12</text><text transform="translate(399.6,56.6)" font-size="15.8" fill="#1c1c1c" stroke="#1c1c1c" stroke-width="0.2">Q2</text><text transform="translate(381.03,75.6)" font-size="15.8" fill="#1c1c1c" stroke="#1c1c1c" stroke-width="0.2">0.065</text><text transform="translate(110.39,340.7)" font-size="15.8" fill="#1c1c1c" stroke="#1c1c1c" stroke-width="0.2">Q4</text><text transform="translate(110.69,359.3)" font-size="15.8" fill="#1c1c1c" stroke="#1c1c1c" stroke-width="0.2">95.4</text><text transform="translate(399.52,340.7)" font-size="15.8" fill="#1c1c1c" stroke="#1c1c1c" stroke-width="0.2">Q3</text><text transform="translate(389.88,359.3)" font-size="15.8" fill="#1c1c1c" stroke="#1c1c1c" stroke-width="0.2">4.46</text><text transform="translate(233.11,436.8) scale(1.0243,1.0000)" font-size="14.5" fill="#1c1c1c" stroke="#1c1c1c" stroke-width="0.2">Comp–PE–A</text><text transform="translate(33.7,203.5) rotate(-90) translate(-50.27,0) scale(1.0585,1)" font-size="14.5" fill="#1c1c1c" stroke="#1c1c1c" stroke-width="0.2">Comp–APC–A</text><g transform="translate(606.2 31.95) scale(1.5)" fill="none" stroke-width="1"><path stroke="#1414ff" d="M10 128h1m0 0h1m17 0h1m1 0h1m13 0h1m10 0h1m10 1h1m-3 1h1m-22 1h1m23 0h1m-27 1h1m3 0h1m4 0h1m40 0h1m-62 1h1m9 0h1m0 0h1m0 0h1m7 0h1m5 0h1m3 0h1m13 0h1m-49 1h1m3 0h1m5 0h1m0 0h1m7 0h1m1 0h1m0 0h1m6 0h1m-30 1h1m3 0h1m0 0h1m2 0h1m2 0h1m3 0h1m0 0h1m0 0h1m0 0h1m1 0h1m0 0h1m0 0h1m1 0h1m0 0h1m1 0h1m12 0h1m-37 1h1m0 0h1m3 0h1m0 0h1m2 0h1m2 0h1m1 0h1m0 0h1m0 0h1m2 0h1m1 0h1m0 0h1m2 0h1m1 0h1m0 0h1m3 0h1m10 0h1m1 0h1m-53 1h1m0 0h1m0 0h1m0 0h1m1 0h1m3 0h1m0 0h1m0 0h1m0 0h1m0 0h1m0 0h1m0 0h1m0 0h1m1 0h1m1 0h1m1 0h1m0 0h1m0 0h1m0 0h1m0 0h1m0 0h1m0 0h1m0 0h1m0 0h1m2 0h1m1 0h1m1 0h1m0 0h1m1 0h1m1 0h1m4 0h1m1 0h1m-53 1h1m2 0h1m2 0h1m0 0h1m0 0h1m1 0h1m0 0h1m0 0h1m0 0h1m0 0h1m3 0h1m0 0h1m0 0h1m0 0h1m3 0h1m0 0h1m2 0h1m0 0h1m0 0h1m2 0h1m1 0h1m2 0h1m2 0h1m0 0h1m0 0h1m6 0h1m5 0h1m3 0h1m39 0h1m-105 1h1m1 0h1m2 0h1m0 0h1m0 0h1m1 0h1m0 0h1m0 0h1m1 0h1m1 0h1m0 0h1m0 0h1m1 0h1m1 0h1m0 0h1m2 0h1m0 0h1m2 0h1m1 0h1m1 0h1m0 0h1m0 0h1m4 0h1m1 0h1m0 0h1m0 0h1m1 0h1m0 0h1m0 0h1m0 0h1m13 0h1m1 0h1m15 0h1m-79 1h1m0 0h1m0 0h1m0 0h1m0 0h1m5 0h1m2 0h1m0 0h1m0 0h1m0 0h1m0 0h1m1 0h1m0 0h1m0 0h1m0 0h1m1 0h1m0 0h1m0 0h1m0 0h1m0 0h1m0 0h1m0 0h1m1 0h1m1 0h1m0 0h1m0 0h1m2 0h1m0 0h1m3 0h1m0 0h1m1 0h1m0 0h1m0 0h1m9 0h1m10 0h1m-78 1h1m1 0h1m4 0h1m0 0h1m0 0h1m0 0h1m1 0h1m2 0h1m0 0h1m0 0h1m0 0h1m0 0h1m4 0h1m0 0h1m0 0h1m0 0h1m0 0h1m1 0h1m0 0h1m0 0h1m0 0h1m1 0h1m0 0h1m0 0h1m2 0h1m0 0h1m2 0h1m0 0h1m0 0h1m0 0h1m0 0h1m1 0h1m0 0h1m0 0h1m0 0h1m0 0h1m0 0h1m0 0h1m5 0h1m5 0h1m48 0h1m-118 1h1m1 0h1m0 0h1m0 0h1m1 0h1m1 0h1m0 0h1m0 0h1m0 0h1m0 0h1m1 0h1m5 0h1m0 0h1m0 0h1m2 0h1m0 0h1m3 0h1m1 0h1m0 0h1m1 0h1m1 0h1m0 0h1m0 0h1m0 0h1m0 0h1m0 0h1m1 0h1m1 0h1m0 0h1m1 0h1m2 0h1m0 0h1m0 0h1m3 0h1m0 0h1m0 0h1m0 0h1m1 0h1m0 0h1m12 0h1m12 0h1m1 0h1m-91 1h1m0 0h1m0 0h1m2 0h1m3 0h1m0 0h1m0 0h1m1 0h1m2 0h1m0 0h1m0 0h1m2 0h1m0 0h1m0 0h1m0 0h1m0 0h1m2 0h1m0 0h1m1 0h1m0 0h1m1 0h1m0 0h1m0 0h1m1 0h1m0 0h1m1 0h1m1 0h1m0 0h1m0 0h1m1 0h1m0 0h1m0 0h1m0 0h1m0 0h1m1 0h1m0 0h1m0 0h1m1 0h1m3 0h1m6 0h1m12 0h1m9 0h1m34 0h1m-127 1h1m1 0h1m0 0h1m0 0h1m1 0h1m0 0h1m0 0h1m1 0h1m0 0h1m0 0h1m0 0h1m1 0h1m0 0h1m1 0h1m0 0h1m0 0h1m0 0h1m0 0h1m0 0h1m0 0h1m0 0h1m1 0h1m1 0h1m3 0h1m1 0h1m0 0h1m1 0h1m0 0h1m0 0h1m0 0h1m0 0h1m0 0h1m3 0h1m3 0h1m0 0h1m4 0h1m1 0h1m5 0h1m29 0h1m-102 1h1m3 0h1m2 0h1m4 0h1m5 0h1m2 0h1m4 0h1m0 0h1m3 0h1m1 0h1m0 0h1m0 0h1m0 0h1m1 0h1m0 0h1m1 0h1m2 0h1m0 0h1m1 0h1m0 0h1m0 0h1m0 0h1m0 0h1m0 0h1m1 0h1m0 0h1m0 0h1m5 0h1m2 0h1m0 0h1m2 0h1m3 0h1m2 0h1m0 0h1m1 0h1m3 0h1m5 0h1m8 0h1m3 0h1m7 0h1m3 0h1m11 0h1m-127 1h1m2 0h1m0 0h1m0 0h1m1 0h1m2 0h1m1 0h1m1 0h1m0 0h1m0 0h1m1 0h1m0 0h1m0 0h1m0 0h1m0 0h1m2 0h1m0 0h1m2 0h1m0 0h1m0 0h1m2 0h1m0 0h1m0 0h1m1 0h1m0 0h1m1 0h1m3 0h1m0 0h1m0 0h1m0 0h1m0 0h1m0 0h1m0 0h1m1 0h1m1 0h1m2 0h1m0 0h1m0 0h1m1 0h1m0 0h1m0 0h1m1 0h1m1 0h1m0 0h1m6 0h1m1 0h1m6 0h1m0 0h1m1 0h1m2 0h1m0 0h1m4 0h1m1 0h1m0 0h1m3 0h1m0 0h1m-108 1h1m1 0h1m1 0h1m1 0h1m1 0h1m2 0h1m1 0h1m0 0h1m0 0h1m0 0h1m3 0h1m2 0h1m0 0h1m1 0h1m1 0h1m8 0h1m2 0h1m1 0h1m2 0h1m2 0h1m1 0h1m0 0h1m0 0h1m1 0h1m0 0h1m0 0h1m4 0h1m1 0h1m0 0h1m0 0h1m0 0h1m0 0h1m0 0h1m2 0h1m0 0h1m4 0h1m0 0h1m4 0h1m1 0h1m1 0h1m7 0h1m3 0h1m6 0h1m19 0h1m-129 1h1m0 0h1m2 0h1m1 0h1m0 0h1m0 0h1m0 0h1m0 0h1m0 0h1m1 0h1m2 0h1m0 0h1m0 0h1m0 0h1m0 0h1m3 0h1m1 0h1m3 0h1m1 0h1m0 0h1m1 0h1m0 0h1m1 0h1m1 0h1m0 0h1m0 0h1m1 0h1m2 0h1m1 0h1m0 0h1m1 0h1m0 0h1m0 0h1m0 0h1m0 0h1m0 0h1m1 0h1m0 0h1m0 0h1m0 0h1m0 0h1m2 0h1m1 0h1m1 0h1m0 0h1m2 0h1m0 0h1m0 0h1m2 0h1m1 0h1m5 0h1m2 0h1m1 0h1m2 0h1m2 0h1m2 0h1m6 0h1m27 0h1m-138 1h1m2 0h1m0 0h1m0 0h1m2 0h1m1 0h1m1 0h1m1 0h1m0 0h1m0 0h1m2 0h1m0 0h1m1 0h1m0 0h1m1 0h1m0 0h1m0 0h1m1 0h1m1 0h1m0 0h1m2 0h1m2 0h1m1 0h1m3 0h1m0 0h1m0 0h1m3 0h1m2 0h1m0 0h1m0 0h1m0 0h1m1 0h1m0 0h1m3 0h1m0 0h1m1 0h1m0 0h1m1 0h1m2 0h1m0 0h1m1 0h1m4 0h1m4 0h1m0 0h1m2 0h1m2 0h1m26 0h1m4 0h1m12 0h1m-136 1h1m1 0h1m4 0h1m1 0h1m2 0h1m1 0h1m0 0h1m0 0h1m0 0h1m0 0h1m0 0h1m3 0h1m8 0h1m6 0h1m0 0h1m3 0h1m1 0h1m1 0h1m0 0h1m0 0h1m0 0h1m0 0h1m0 0h1m1 0h1m0 0h1m1 0h1m0 0h1m1 0h1m1 0h1m2 0h1m1 0h1m1 0h1m0 0h1m0 0h1m1 0h1m0 0h1m1 0h1m2 0h1m0 0h1m1 0h1m2 0h1m1 0h1m2 0h1m1 0h1m5 0h1m1 0h1m9 0h1m0 0h1m5 0h1m32 0h1m-155 1h1m0 0h1m3 0h1m1 0h1m0 0h1m1 0h1m0 0h1m0 0h1m0 0h1m0 0h1m0 0h1m8 0h1m1 0h1m8 0h1m1 0h1m0 0h1m3 0h1m6 0h1m0 0h1m2 0h1m1 0h1m0 0h1m2 0h1m1 0h1m1 0h1m0 0h1m0 0h1m4 0h1m0 0h1m0 0h1m0 0h1m0 0h1m1 0h1m2 0h1m0 0h1m2 0h1m0 0h1m0 0h1m3 0h1m2 0h1m0 0h1m1 0h1m0 0h1m3 0h1m1 0h1m1 0h1m3 0h1m1 0h1m11 0h1m24 0h1m-147 1h1m0 0h1m2 0h1m1 0h1m0 0h1m0 0h1m1 0h1m1 0h1m2 0h1m0 0h1m2 0h1m17 0h1m14 0h1m7 0h1m1 0h1m0 0h1m1 0h1m2 0h1m0 0h1m3 0h1m2 0h1m0 0h1m0 0h1m0 0h1m0 0h1m0 0h1m0 0h1m0 0h1m2 0h1m5 0h1m2 0h1m0 0h1m1 0h1m1 0h1m1 0h1m2 0h1m1 0h1m1 0h1m9 0h1m1 0h1m6 0h1m-128 1h1m0 0h1m2 0h1m0 0h1m0 0h1m0 0h1m0 0h1m0 0h1m0 0h1m0 0h1m0 0h1m0 0h1m2 0h1m1 0h1m0 0h1m7 0h1m0 0h1m16 0h1m1 0h1m1 0h1m5 0h1m1 0h1m0 0h1m2 0h1m1 0h1m0 0h1m0 0h1m1 0h1m1 0h1m0 0h1m3 0h1m2 0h1m0 0h1m1 0h1m3 0h1m0 0h1m1 0h1m0 0h1m1 0h1m2 0h1m0 0h1m5 0h1m2 0h1m1 0h1m1 0h1m2 0h1m1 0h1m3 0h1m0 0h1m2 0h1m11 0h1m1 0h1m4 0h1m3 0h1m4 0h1m-152 1h1m4 0h1m1 0h1m1 0h1m0 0h1m0 0h1m0 0h1m0 0h1m0 0h1m1 0h1m2 0h1m4 0h1m14 0h1m12 0h1m9 0h1m2 0h1m0 0h1m1 0h1m2 0h1m0 0h1m2 0h1m0 0h1m1 0h1m0 0h1m0 0h1m1 0h1m0 0h1m2 0h1m0 0h1m0 0h1m4 0h1m0 0h1m0 0h1m0 0h1m0 0h1m0 0h1m0 0h1m0 0h1m0 0h1m3 0h1m0 0h1m2 0h1m0 0h1m0 0h1m0 0h1m7 0h1m0 0h1m0 0h1m0 0h1m1 0h1m19 0h1m-145 1h1m0 0h1m0 0h1m0 0h1m0 0h1m0 0h1m1 0h1m3 0h1m33 0h1m2 0h1m1 0h1m1 0h1m1 0h1m3 0h1m5 0h1m1 0h1m3 0h1m0 0h1m1 0h1m2 0h1m2 0h1m2 0h1m0 0h1m0 0h1m0 0h1m1 0h1m0 0h1m0 0h1m0 0h1m0 0h1m1 0h1m2 0h1m0 0h1m3 0h1m2 0h1m1 0h1m2 0h1m1 0h1m2 0h1m1 0h1m7 0h1m4 0h1m8 0h1m3 0h1m3 0h1m12 0h1m-159 1h1m0 0h1m1 0h1m1 0h1m1 0h1m0 0h1m3 0h1m0 0h1m0 0h1m13 0h1m26 0h1m8 0h1m9 0h1m0 0h1m1 0h1m5 0h1m0 0h1m1 0h1m0 0h1m0 0h1m0 0h1m0 0h1m1 0h1m0 0h1m0 0h1m0 0h1m0 0h1m2 0h1m0 0h1m3 0h1m3 0h1m1 0h1m1 0h1m10 0h1m0 0h1m6 0h1m15 0h1m5 0h1m-153 1h1m0 0h1m0 0h1m0 0h1m0 0h1m0 0h1m2 0h1m0 0h1m3 0h1m5 0h1m10 0h1m0 0h1m11 0h1m0 0h1m22 0h1m0 0h1m1 0h1m0 0h1m1 0h1m0 0h1m1 0h1m3 0h1m0 0h1m0 0h1m0 0h1m2 0h1m2 0h1m0 0h1m0 0h1m1 0h1m0 0h1m0 0h1m1 0h1m0 0h1m1 0h1m2 0h1m2 0h1m0 0h1m3 0h1m4 0h1m0 0h1m2 0h1m0 0h1m3 0h1m2 0h1m2 0h1m0 0h1m6 0h1m0 0h1m20 0h1m-165 1h1m0 0h1m0 0h1m1 0h1m2 0h1m0 0h1m4 0h1m0 0h1m27 0h1m6 0h1m9 0h1m3 0h1m3 0h1m3 0h1m1 0h1m2 0h1m2 0h1m0 0h1m1 0h1m0 0h1m0 0h1m0 0h1m1 0h1m2 0h1m0 0h1m0 0h1m3 0h1m1 0h1m2 0h1m2 0h1m0 0h1m1 0h1m1 0h1m3 0h1m2 0h1m0 0h1m1 0h1m0 0h1m4 0h1m3 0h1m0 0h1m0 0h1m4 0h1m0 0h1m8 0h1m1 0h1m8 0h1m-155 1h1m6 0h1m2 0h1m1 0h1m17 0h1m0 0h1m7 0h1m18 0h1m3 0h1m3 0h1m4 0h1m3 0h1m1 0h1m1 0h1m1 0h1m2 0h1m1 0h1m1 0h1m0 0h1m2 0h1m0 0h1m0 0h1m0 0h1m0 0h1m0 0h1m1 0h1m0 0h1m2 0h1m0 0h1m0 0h1m0 0h1m0 0h1m0 0h1m0 0h1m0 0h1m3 0h1m1 0h1m2 0h1m2 0h1m0 0h1m1 0h1m2 0h1m1 0h1m0 0h1m7 0h1m7 0h1m5 0h1m-158 1h1m3 0h1m0 0h1m0 0h1m1 0h1m1 0h1m0 0h1m4 0h1m1 0h1m21 0h1m0 0h1m10 0h1m2 0h1m6 0h1m1 0h1m0 0h1m1 0h1m0 0h1m1 0h1m3 0h1m1 0h1m3 0h1m2 0h1m1 0h1m0 0h1m2 0h1m0 0h1m1 0h1m0 0h1m3 0h1m0 0h1m0 0h1m3 0h1m0 0h1m3 0h1m0 0h1m0 0h1m0 0h1m0 0h1m1 0h1m2 0h1m0 0h1m0 0h1m0 0h1m0 0h1m1 0h1m0 0h1m0 0h1m0 0h1m0 0h1m0 0h1m3 0h1m1 0h1m2 0h1m2 0h1m3 0h1m3 0h1m-147 1h1m1 0h1m0 0h1m0 0h1m1 0h1m0 0h1m7 0h1m32 0h1m17 0h1m0 0h1m1 0h1m3 0h1m7 0h1m1 0h1m1 0h1m0 0h1m0 0h1m0 0h1m0 0h1m0 0h1m2 0h1m0 0h1m0 0h1m0 0h1m2 0h1m2 0h1m0 0h1m0 0h1m0 0h1m0 0h1m0 0h1m0 0h1m1 0h1m0 0h1m1 0h1m0 0h1m1 0h1m1 0h1m2 0h1m0 0h1m0 0h1m6 0h1m2 0h1m2 0h1m9 0h1m4 0h1m4 0h1m3 0h1m0 0h1m4 0h1m-164 1h1m0 0h1m0 0h1m1 0h1m3 0h1m3 0h1m17 0h1m10 0h1m23 0h1m3 0h1m1 0h1m2 0h1m1 0h1m1 0h1m0 0h1m0 0h1m0 0h1m2 0h1m0 0h1m0 0h1m3 0h1m0 0h1m0 0h1m1 0h1m1 0h1m0 0h1m0 0h1m0 0h1m0 0h1m0 0h1m1 0h1m1 0h1m0 0h1m0 0h1m0 0h1m0 0h1m4 0h1m0 0h1m1 0h1m0 0h1m1 0h1m1 0h1m0 0h1m1 0h1m0 0h1m0 0h1m1 0h1m1 0h1m0 0h1m1 0h1m0 0h1m2 0h1m3 0h1m8 0h1m2 0h1m-160 1h1m3 0h1m0 0h1m0 0h1m0 0h1m0 0h1m0 0h1m0 0h1m1 0h1m0 0h1m4 0h1m4 0h1m41 0h1m4 0h1m0 0h1m6 0h1m3 0h1m2 0h1m0 0h1m0 0h1m1 0h1m0 0h1m0 0h1m1 0h1m2 0h1m2 0h1m1 0h1m0 0h1m2 0h1m2 0h1m0 0h1m0 0h1m1 0h1m2 0h1m0 0h1m0 0h1m3 0h1m2 0h1m0 0h1m3 0h1m3 0h1m0 0h1m2 0h1m4 0h1m1 0h1m0 0h1m2 0h1m2 0h1m0 0h1m0 0h1m9 0h1m-164 1h1m3 0h1m0 0h1m0 0h1m4 0h1m0 0h1m40 0h1m11 0h1m12 0h1m1 0h1m0 0h1m1 0h1m8 0h1m0 0h1m5 0h1m0 0h1m0 0h1m2 0h1m0 0h1m1 0h1m2 0h1m1 0h1m1 0h1m0 0h1m1 0h1m0 0h1m0 0h1m2 0h1m0 0h1m0 0h1m0 0h1m1 0h1m2 0h1m0 0h1m1 0h1m3 0h1m1 0h1m0 0h1m0 0h1m0 0h1m1 0h1m1 0h1m4 0h1m13 0h1m5 0h1m3 0h1m0 0h1m-176 1h1m0 0h1m1 0h1m0 0h1m0 0h1m0 0h1m0 0h1m0 0h1m0 0h1m2 0h1m2 0h1m37 0h1m20 0h1m2 0h1m3 0h1m1 0h1m2 0h1m0 0h1m0 0h1m1 0h1m2 0h1m1 0h1m0 0h1m0 0h1m0 0h1m1 0h1m0 0h1m0 0h1m0 0h1m0 0h1m1 0h1m0 0h1m0 0h1m0 0h1m0 0h1m0 0h1m0 0h1m0 0h1m1 0h1m0 0h1m0 0h1m2 0h1m1 0h1m0 0h1m0 0h1m0 0h1m0 0h1m2 0h1m1 0h1m0 0h1m0 0h1m0 0h1m2 0h1m1 0h1m0 0h1m1 0h1m0 0h1m0 0h1m0 0h1m0 0h1m2 0h1m2 0h1m1 0h1m0 0h1m6 0h1m3 0h1m0 0h1m-166 1h1m1 0h1m0 0h1m0 0h1m1 0h1m1 0h1m28 0h1m10 0h1m0 0h1m15 0h1m8 0h1m2 0h1m2 0h1m2 0h1m4 0h1m1 0h1m0 0h1m3 0h1m0 0h1m2 0h1m0 0h1m0 0h1m1 0h1m0 0h1m0 0h1m0 0h1m1 0h1m0 0h1m3 0h1m1 0h1m1 0h1m0 0h1m0 0h1m0 0h1m0 0h1m0 0h1m0 0h1m1 0h1m0 0h1m0 0h1m0 0h1m0 0h1m0 0h1m2 0h1m0 0h1m0 0h1m2 0h1m1 0h1m0 0h1m2 0h1m0 0h1m0 0h1m0 0h1m0 0h1m6 0h1m1 0h1m16 0h1m-177 1h1m0 0h1m3 0h1m6 0h1m0 0h1m14 0h1m2 0h1m32 0h1m8 0h1m11 0h1m1 0h1m4 0h1m1 0h1m0 0h1m0 0h1m1 0h1m0 0h1m1 0h1m2 0h1m0 0h1m1 0h1m0 0h1m0 0h1m1 0h1m0 0h1m1 0h1m0 0h1m0 0h1m2 0h1m0 0h1m1 0h1m1 0h1m1 0h1m0 0h1m1 0h1m0 0h1m2 0h1m0 0h1m2 0h1m2 0h1m2 0h1m1 0h1m0 0h1m1 0h1m0 0h1m0 0h1m0 0h1m7 0h1m1 0h1m1 0h1m1 0h1m9 0h1m-176 1h1m0 0h1m0 0h1m0 0h1m0 0h1m2 0h1m1 0h1m4 0h1m29 0h1m3 0h1m3 0h1m26 0h1m8 0h1m0 0h1m0 0h1m2 0h1m0 0h1m2 0h1m0 0h1m0 0h1m0 0h1m0 0h1m0 0h1m1 0h1m0 0h1m0 0h1m0 0h1m0 0h1m0 0h1m0 0h1m1 0h1m0 0h1m0 0h1m0 0h1m0 0h1m1 0h1m3 0h1m0 0h1m0 0h1m0 0h1m1 0h1m1 0h1m0 0h1m0 0h1m0 0h1m2 0h1m0 0h1m0 0h1m1 0h1m1 0h1m1 0h1m0 0h1m5 0h1m2 0h1m0 0h1m2 0h1m3 0h1m1 0h1m0 0h1m7 0h1m-174 1h1m3 0h1m1 0h1m0 0h1m0 0h1m0 0h1m0 0h1m4 0h1m1 0h1m2 0h1m54 0h1m0 0h1m2 0h1m9 0h1m0 0h1m0 0h1m2 0h1m0 0h1m0 0h1m1 0h1m1 0h1m0 0h1m0 0h1m5 0h1m0 0h1m0 0h1m0 0h1m0 0h1m0 0h1m0 0h1m0 0h1m1 0h1m0 0h1m1 0h1m1 0h1m0 0h1m0 0h1m1 0h1m0 0h1m1 0h1m1 0h1m0 0h1m0 0h1m2 0h1m1 0h1m1 0h1m2 0h1m5 0h1m1 0h1m0 0h1m0 0h1m1 0h1m8 0h1m5 0h1m0 0h1m-169 1h1m3 0h1m4 0h1m1 0h1m36 0h1m11 0h1m14 0h1m0 0h1m0 0h1m3 0h1m1 0h1m1 0h1m2 0h1m2 0h1m6 0h1m1 0h1m0 0h1m0 0h1m1 0h1m2 0h1m0 0h1m0 0h1m3 0h1m0 0h1m0 0h1m2 0h1m0 0h1m0 0h1m4 0h1m0 0h1m0 0h1m5 0h1m0 0h1m1 0h1m4 0h1m0 0h1m0 0h1m1 0h1m0 0h1m1 0h1m0 0h1m1 0h1m3 0h1m5 0h1m6 0h1m-172 1h1m1 0h1m0 0h1m2 0h1m0 0h1m1 0h1m1 0h1m0 0h1m8 0h1m0 0h1m20 0h1m19 0h1m24 0h1m4 0h1m0 0h1m1 0h1m1 0h1m0 0h1m0 0h1m1 0h1m0 0h1m0 0h1m0 0h1m1 0h1m0 0h1m1 0h1m0 0h1m0 0h1m0 0h1m0 0h1m0 0h1m1 0h1m2 0h1m0 0h1m4 0h1m1 0h1m0 0h1m2 0h1m3 0h1m0 0h1m0 0h1m0 0h1m0 0h1m0 0h1m2 0h1m2 0h1m0 0h1m1 0h1m0 0h1m1 0h1m0 0h1m1 0h1m2 0h1m1 0h1m3 0h1m0 0h1m8 0h1m0 0h1m-176 1h1m1 0h1m0 0h1m0 0h1m0 0h1m1 0h1m0 0h1m0 0h1m0 0h1m1 0h1m3 0h1m4 0h1m4 0h1m11 0h1m39 0h1m4 0h1m1 0h1m4 0h1m1 0h1m0 0h1m2 0h1m2 0h1m0 0h1m0 0h1m0 0h1m1 0h1m0 0h1m1 0h1m0 0h1m0 0h1m2 0h1m0 0h1m2 0h1m0 0h1m1 0h1m0 0h1m0 0h1m1 0h1m0 0h1m1 0h1m0 0h1m0 0h1m1 0h1m1 0h1m1 0h1m0 0h1m0 0h1m2 0h1m0 0h1m1 0h1m2 0h1m2 0h1m0 0h1m0 0h1m0 0h1m1 0h1m1 0h1m1 0h1m0 0h1m-161 1h1m2 0h1m1 0h1m0 0h1m0 0h1m0 0h1m0 0h1m2 0h1m0 0h1m2 0h1m35 0h1m1 0h1m21 0h1m2 0h1m1 0h1m6 0h1m1 0h1m0 0h1m3 0h1m5 0h1m1 0h1m1 0h1m0 0h1m0 0h1m2 0h1m1 0h1m2 0h1m0 0h1m0 0h1m2 0h1m2 0h1m0 0h1m0 0h1m1 0h1m0 0h1m0 0h1m4 0h1m1 0h1m0 0h1m7 0h1m2 0h1m2 0h1m1 0h1m0 0h1m1 0h1m0 0h1m0 0h1m0 0h1m4 0h1m1 0h1m1 0h1m0 0h1m2 0h1m0 0h1m2 0h1m-175 1h1m0 0h1m6 0h1m0 0h1m0 0h1m0 0h1m0 0h1m16 0h1m11 0h1m4 0h1m1 0h1m1 0h1m34 0h1m4 0h1m0 0h1m0 0h1m3 0h1m1 0h1m2 0h1m2 0h1m0 0h1m0 0h1m1 0h1m0 0h1m3 0h1m0 0h1m0 0h1m1 0h1m0 0h1m0 0h1m0 0h1m0 0h1m0 0h1m0 0h1m0 0h1m0 0h1m1 0h1m0 0h1m0 0h1m0 0h1m0 0h1m2 0h1m0 0h1m0 0h1m0 0h1m0 0h1m0 0h1m0 0h1m1 0h1m0 0h1m1 0h1m0 0h1m0 0h1m1 0h1m0 0h1m0 0h1m1 0h1m0 0h1m2 0h1m0 0h1m2 0h1m1 0h1m0 0h1m0 0h1m0 0h1m-162 1h1m0 0h1m0 0h1m0 0h1m0 0h1m0 0h1m1 0h1m3 0h1m35 0h1m22 0h1m1 0h1m1 0h1m1 0h1m2 0h1m1 0h1m0 0h1m0 0h1m0 0h1m0 0h1m3 0h1m0 0h1m0 0h1m4 0h1m1 0h1m1 0h1m2 0h1m1 0h1m0 0h1m0 0h1m0 0h1m0 0h1m0 0h1m0 0h1m0 0h1m0 0h1m0 0h1m1 0h1m0 0h1m3 0h1m0 0h1m0 0h1m0 0h1m0 0h1m2 0h1m1 0h1m2 0h1m0 0h1m0 0h1m0 0h1m1 0h1m0 0h1m0 0h1m0 0h1m1 0h1m0 0h1m1 0h1m14 0h1m0 0h1m0 0h1m-168 1h1m1 0h1m0 0h1m0 0h1m0 0h1m0 0h1m0 0h1m0 0h1m0 0h1m0 0h1m3 0h1m1 0h1m4 0h1m8 0h1m2 0h1m15 0h1m0 0h1m5 0h1m5 0h1m6 0h1m2 0h1m1 0h1m4 0h1m0 0h1m0 0h1m0 0h1m0 0h1m0 0h1m0 0h1m0 0h1m1 0h1m0 0h1m1 0h1m3 0h1m0 0h1m1 0h1m0 0h1m1 0h1m1 0h1m0 0h1m0 0h1m1 0h1m0 0h1m1 0h1m0 0h1m2 0h1m0 0h1m2 0h1m0 0h1m0 0h1m2 0h1m1 0h1m0 0h1m1 0h1m0 0h1m3 0h1m0 0h1m1 0h1m0 0h1m1 0h1m0 0h1m2 0h1m1 0h1m2 0h1m0 0h1m1 0h1m0 0h1m0 0h1m5 0h1m1 0h1m1 0h1m2 0h1m0 0h1m23 0h1m-187 1h1m0 0h1m2 0h1m2 0h1m1 0h1m6 0h1m11 0h1m6 0h1m5 0h1m9 0h1m1 0h1m1 0h1m2 0h1m14 0h1m1 0h1m1 0h1m3 0h1m1 0h1m1 0h1m2 0h1m2 0h1m1 0h1m0 0h1m0 0h1m1 0h1m0 0h1m2 0h1m0 0h1m3 0h1m0 0h1m2 0h1m1 0h1m0 0h1m0 0h1m1 0h1m0 0h1m0 0h1m0 0h1m3 0h1m1 0h1m2 0h1m4 0h1m1 0h1m0 0h1m1 0h1m0 0h1m3 0h1m2 0h1m0 0h1m0 0h1m1 0h1m0 0h1m0 0h1m3 0h1m2 0h1m12 0h1m-174 1h1m1 0h1m0 0h1m0 0h1m0 0h1m0 0h1m0 0h1m0 0h1m3 0h1m0 0h1m0 0h1m0 0h1m1 0h1m0 0h1m1 0h1m4 0h1m6 0h1m3 0h1m4 0h1m1 0h1m0 0h1m1 0h1m0 0h1m7 0h1m1 0h1m2 0h1m1 0h1m0 0h1m0 0h1m3 0h1m1 0h1m5 0h1m0 0h1m1 0h1m1 0h1m0 0h1m0 0h1m1 0h1m0 0h1m4 0h1m0 0h1m0 0h1m1 0h1m0 0h1m0 0h1m0 0h1m0 0h1m0 0h1m1 0h1m0 0h1m1 0h1m0 0h1m0 0h1m0 0h1m0 0h1m2 0h1m1 0h1m0 0h1m0 0h1m0 0h1m0 0h1m0 0h1m1 0h1m0 0h1m0 0h1m3 0h1m0 0h1m1 0h1m0 0h1m0 0h1m1 0h1m0 0h1m0 0h1m0 0h1m0 0h1m2 0h1m0 0h1m0 0h1m4 0h1m0 0h1m1 0h1m2 0h1m0 0h1m0 0h1m0 0h1m1 0h1m6 0h1m4 0h1m-173 1h1m1 0h1m0 0h1m1 0h1m2 0h1m0 0h1m2 0h1m0 0h1m2 0h1m1 0h1m2 0h1m0 0h1m6 0h1m8 0h1m1 0h1m4 0h1m6 0h1m8 0h1m0 0h1m0 0h1m0 0h1m2 0h1m1 0h1m0 0h1m2 0h1m0 0h1m1 0h1m3 0h1m1 0h1m4 0h1m1 0h1m0 0h1m0 0h1m0 0h1m0 0h1m6 0h1m2 0h1m0 0h1m0 0h1m0 0h1m1 0h1m2 0h1m1 0h1m2 0h1m1 0h1m0 0h1m0 0h1m0 0h1m0 0h1m1 0h1m0 0h1m0 0h1m0 0h1m0 0h1m0 0h1m1 0h1m3 0h1m0 0h1m1 0h1m1 0h1m0 0h1m0 0h1m0 0h1m0 0h1m0 0h1m0 0h1m2 0h1m2 0h1m0 0h1m3 0h1m0 0h1m4 0h1m1 0h1m2 0h1m0 0h1m-170 1h1m1 0h1m0 0h1m0 0h1m0 0h1m0 0h1m0 0h1m3 0h1m3 0h1m1 0h1m1 0h1m0 0h1m1 0h1m0 0h1m2 0h1m2 0h1m5 0h1m1 0h1m1 0h1m3 0h1m0 0h1m1 0h1m1 0h1m0 0h1m0 0h1m1 0h1m2 0h1m0 0h1m1 0h1m1 0h1m2 0h1m3 0h1m0 0h1m4 0h1m0 0h1m0 0h1m0 0h1m0 0h1m0 0h1m2 0h1m1 0h1m0 0h1m0 0h1m2 0h1m0 0h1m1 0h1m0 0h1m1 0h1m0 0h1m0 0h1m1 0h1m0 0h1m0 0h1m0 0h1m0 0h1m0 0h1m0 0h1m0 0h1m0 0h1m0 0h1m0 0h1m0 0h1m0 0h1m0 0h1m0 0h1m2 0h1m0 0h1m1 0h1m0 0h1m0 0h1m1 0h1m2 0h1m0 0h1m0 0h1m1 0h1m2 0h1m0 0h1m0 0h1m0 0h1m0 0h1m0 0h1m1 0h1m0 0h1m0 0h1m0 0h1m1 0h1m0 0h1m0 0h1m0 0h1m0 0h1m5 0h1m4 0h1m6 0h1m-163 1h1m0 0h1m0 0h1m0 0h1m0 0h1m0 0h1m2 0h1m0 0h1m2 0h1m0 0h1m0 0h1m3 0h1m0 0h1m0 0h1m4 0h1m1 0h1m4 0h1m0 0h1m5 0h1m0 0h1m0 0h1m0 0h1m1 0h1m3 0h1m2 0h1m5 0h1m0 0h1m4 0h1m3 0h1m0 0h1m0 0h1m0 0h1m0 0h1m1 0h1m1 0h1m1 0h1m1 0h1m2 0h1m1 0h1m0 0h1m0 0h1m0 0h1m0 0h1m0 0h1m1 0h1m1 0h1m0 0h1m0 0h1m0 0h1m0 0h1m0 0h1m1 0h1m0 0h1m0 0h1m0 0h1m4 0h1m1 0h1m0 0h1m0 0h1m1 0h1m0 0h1m0 0h1m0 0h1m0 0h1m0 0h1m0 0h1m0 0h1m0 0h1m1 0h1m0 0h1m0 0h1m0 0h1m0 0h1m1 0h1m0 0h1m0 0h1m0 0h1m0 0h1m1 0h1m0 0h1m0 0h1m3 0h1m2 0h1m2 0h1m0 0h1m0 0h1m1 0h1m0 0h1m0 0h1m0 0h1m4 0h1m0 0h1m-167 1h1m4 0h1m2 0h1m1 0h1m0 0h1m0 0h1m1 0h1m0 0h1m0 0h1m0 0h1m1 0h1m1 0h1m0 0h1m4 0h1m0 0h1m1 0h1m2 0h1m3 0h1m0 0h1m0 0h1m0 0h1m0 0h1m0 0h1m1 0h1m3 0h1m0 0h1m0 0h1m0 0h1m0 0h1m1 0h1m0 0h1m0 0h1m0 0h1m2 0h1m1 0h1m3 0h1m1 0h1m0 0h1m0 0h1m0 0h1m0 0h1m0 0h1m0 0h1m0 0h1m1 0h1m1 0h1m1 0h1m0 0h1m1 0h1m0 0h1m2 0h1m0 0h1m0 0h1m1 0h1m0 0h1m0 0h1m0 0h1m0 0h1m0 0h1m0 0h1m1 0h1m1 0h1m0 0h1m0 0h1m0 0h1m0 0h1m0 0h1m0 0h1m2 0h1m0 0h1m0 0h1m1 0h1m1 0h1m1 0h1m1 0h1m0 0h1m0 0h1m3 0h1m2 0h1m1 0h1m1 0h1m3 0h1m0 0h1m0 0h1m2 0h1m0 0h1m0 0h1m0 0h1m1 0h1m0 0h1m0 0h1m2 0h1m5 0h1m1 0h1m3 0h1m1 0h1m2 0h1m-168 1h1m5 0h1m0 0h1m1 0h1m0 0h1m0 0h1m0 0h1m0 0h1m0 0h1m0 0h1m1 0h1m0 0h1m2 0h1m0 0h1m5 0h1m0 0h1m0 0h1m0 0h1m1 0h1m3 0h1m1 0h1m2 0h1m0 0h1m6 0h1m1 0h1m0 0h1m0 0h1m0 0h1m0 0h1m0 0h1m0 0h1m3 0h1m0 0h1m0 0h1m1 0h1m0 0h1m3 0h1m1 0h1m0 0h1m1 0h1m1 0h1m0 0h1m1 0h1m2 0h1m2 0h1m0 0h1m0 0h1m0 0h1m0 0h1m0 0h1m0 0h1m0 0h1m0 0h1m0 0h1m1 0h1m5 0h1m0 0h1m0 0h1m0 0h1m2 0h1m0 0h1m0 0h1m0 0h1m1 0h1m2 0h1m1 0h1m0 0h1m0 0h1m0 0h1m0 0h1m1 0h1m0 0h1m0 0h1m0 0h1m2 0h1m0 0h1m0 0h1m0 0h1m1 0h1m1 0h1m1 0h1m0 0h1m0 0h1m0 0h1m1 0h1m0 0h1m0 0h1m2 0h1m0 0h1m0 0h1m0 0h1m3 0h1m0 0h1m0 0h1m1 0h1m1 0h1m0 0h1m-164 1h1m0 0h1m0 0h1m3 0h1m1 0h1m0 0h1m2 0h1m0 0h1m0 0h1m0 0h1m0 0h1m2 0h1m0 0h1m2 0h1m0 0h1m0 0h1m1 0h1m0 0h1m0 0h1m1 0h1m0 0h1m0 0h1m3 0h1m0 0h1m1 0h1m0 0h1m0 0h1m1 0h1m0 0h1m2 0h1m0 0h1m1 0h1m1 0h1m0 0h1m0 0h1m0 0h1m2 0h1m1 0h1m1 0h1m0 0h1m0 0h1m0 0h1m0 0h1m0 0h1m0 0h1m1 0h1m1 0h1m0 0h1m1 0h1m0 0h1m0 0h1m0 0h1m3 0h1m0 0h1m0 0h1m1 0h1m2 0h1m0 0h1m0 0h1m2 0h1m1 0h1m0 0h1m0 0h1m2 0h1m0 0h1m0 0h1m0 0h1m0 0h1m1 0h1m1 0h1m0 0h1m1 0h1m0 0h1m0 0h1m0 0h1m0 0h1m1 0h1m0 0h1m0 0h1m0 0h1m0 0h1m5 0h1m0 0h1m2 0h1m0 0h1m1 0h1m0 0h1m2 0h1m1 0h1m2 0h1m0 0h1m1 0h1m0 0h1m0 0h1m5 0h1m0 0h1m7 0h1m-165 1h1m3 0h1m0 0h1m0 0h1m1 0h1m0 0h1m0 0h1m2 0h1m0 0h1m3 0h1m3 0h1m3 0h1m4 0h1m2 0h1m0 0h1m0 0h1m0 0h1m1 0h1m0 0h1m1 0h1m0 0h1m1 0h1m1 0h1m3 0h1m1 0h1m0 0h1m2 0h1m0 0h1m0 0h1m0 0h1m0 0h1m0 0h1m0 0h1m0 0h1m0 0h1m0 0h1m0 0h1m0 0h1m1 0h1m0 0h1m0 0h1m1 0h1m2 0h1m0 0h1m2 0h1m0 0h1m0 0h1m2 0h1m0 0h1m0 0h1m0 0h1m0 0h1m0 0h1m5 0h1m0 0h1m1 0h1m0 0h1m0 0h1m1 0h1m1 0h1m1 0h1m1 0h1m2 0h1m1 0h1m0 0h1m0 0h1m0 0h1m0 0h1m1 0h1m4 0h1m1 0h1m1 0h1m0 0h1m11 0h1m0 0h1m2 0h1m0 0h1m2 0h1m0 0h1m0 0h1m4 0h1m0 0h1m4 0h1m0 0h1m1 0h1m0 0h1m-168 1h1m0 0h1m3 0h1m0 0h1m0 0h1m2 0h1m2 0h1m1 0h1m0 0h1m0 0h1m0 0h1m0 0h1m0 0h1m0 0h1m0 0h1m3 0h1m0 0h1m1 0h1m0 0h1m2 0h1m0 0h1m0 0h1m1 0h1m3 0h1m1 0h1m0 0h1m0 0h1m0 0h1m2 0h1m0 0h1m0 0h1m1 0h1m1 0h1m2 0h1m0 0h1m0 0h1m0 0h1m0 0h1m0 0h1m1 0h1m1 0h1m6 0h1m0 0h1m0 0h1m0 0h1m0 0h1m0 0h1m0 0h1m1 0h1m1 0h1m0 0h1m0 0h1m0 0h1m0 0h1m0 0h1m0 0h1m1 0h1m0 0h1m0 0h1m1 0h1m0 0h1m1 0h1m0 0h1m0 0h1m0 0h1m0 0h1m1 0h1m0 0h1m1 0h1m0 0h1m5 0h1m0 0h1m1 0h1m0 0h1m0 0h1m0 0h1m1 0h1m0 0h1m0 0h1m1 0h1m0 0h1m0 0h1m3 0h1m0 0h1m0 0h1m1 0h1m0 0h1m0 0h1m0 0h1m0 0h1m0 0h1m0 0h1m3 0h1m0 0h1m0 0h1m0 0h1m2 0h1m3 0h1m-159 1h1m0 0h1m4 0h1m0 0h1m0 0h1m0 0h1m0 0h1m2 0h1m0 0h1m1 0h1m5 0h1m0 0h1m0 0h1m0 0h1m0 0h1m0 0h1m2 0h1m1 0h1m0 0h1m1 0h1m0 0h1m2 0h1m0 0h1m0 0h1m0 0h1m1 0h1m0 0h1m0 0h1m0 0h1m1 0h1m2 0h1m1 0h1m0 0h1m0 0h1m0 0h1m1 0h1m12 0h1m0 0h1m0 0h1m0 0h1m4 0h1m1 0h1m1 0h1m3 0h1m0 0h1m5 0h1m1 0h1m0 0h1m1 0h1m1 0h1m1 0h1m5 0h1m0 0h1m4 0h1m1 0h1m0 0h1m0 0h1m0 0h1m0 0h1m0 0h1m0 0h1m2 0h1m1 0h1m0 0h1m4 0h1m1 0h1m3 0h1m0 0h1m1 0h1m2 0h1m8 0h1m1 0h1m4 0h1m-163 1h1m1 0h1m4 0h1m0 0h1m0 0h1m1 0h1m0 0h1m1 0h1m1 0h1m0 0h1m4 0h1m1 0h1m0 0h1m0 0h1m1 0h1m0 0h1m0 0h1m1 0h1m1 0h1m1 0h1m0 0h1m0 0h1m5 0h1m0 0h1m0 0h1m0 0h1m0 0h1m2 0h1m0 0h1m0 0h1m0 0h1m0 0h1m0 0h1m0 0h1m2 0h1m7 0h1m0 0h1m0 0h1m5 0h1m1 0h1m0 0h1m1 0h1m0 0h1m2 0h1m1 0h1m0 0h1m0 0h1m1 0h1m10 0h1m2 0h1m1 0h1m2 0h1m2 0h1m0 0h1m0 0h1m2 0h1m0 0h1m0 0h1m0 0h1m2 0h1m0 0h1m1 0h1m1 0h1m1 0h1m1 0h1m2 0h1m2 0h1m0 0h1m3 0h1m0 0h1m0 0h1m0 0h1m1 0h1m0 0h1m2 0h1m0 0h1m0 0h1m2 0h1m0 0h1m-155 1h1m1 0h1m2 0h1m0 0h1m0 0h1m2 0h1m0 0h1m0 0h1m0 0h1m0 0h1m0 0h1m0 0h1m0 0h1m1 0h1m1 0h1m0 0h1m0 0h1m1 0h1m0 0h1m1 0h1m0 0h1m2 0h1m0 0h1m1 0h1m0 0h1m0 0h1m0 0h1m0 0h1m1 0h1m0 0h1m1 0h1m0 0h1m1 0h1m0 0h1m0 0h1m0 0h1m1 0h1m0 0h1m2 0h1m2 0h1m1 0h1m3 0h1m1 0h1m2 0h1m0 0h1m1 0h1m1 0h1m0 0h1m0 0h1m2 0h1m0 0h1m0 0h1m1 0h1m0 0h1m2 0h1m7 0h1m2 0h1m0 0h1m1 0h1m0 0h1m0 0h1m4 0h1m1 0h1m3 0h1m3 0h1m6 0h1m0 0h1m0 0h1m0 0h1m0 0h1m7 0h1m1 0h1m1 0h1m1 0h1m8 0h1m3 0h1m2 0h1m3 0h1m-162 1h1m4 0h1m1 0h1m0 0h1m0 0h1m0 0h1m0 0h1m1 0h1m1 0h1m0 0h1m2 0h1m2 0h1m0 0h1m0 0h1m0 0h1m1 0h1m0 0h1m1 0h1m4 0h1m1 0h1m0 0h1m1 0h1m0 0h1m1 0h1m0 0h1m0 0h1m0 0h1m0 0h1m0 0h1m0 0h1m0 0h1m0 0h1m1 0h1m4 0h1m3 0h1m2 0h1m2 0h1m1 0h1m1 0h1m0 0h1m3 0h1m0 0h1m0 0h1m1 0h1m0 0h1m0 0h1m0 0h1m0 0h1m2 0h1m1 0h1m1 0h1m0 0h1m0 0h1m2 0h1m0 0h1m2 0h1m1 0h1m3 0h1m1 0h1m0 0h1m1 0h1m0 0h1m0 0h1m0 0h1m0 0h1m2 0h1m0 0h1m2 0h1m0 0h1m1 0h1m0 0h1m0 0h1m3 0h1m5 0h1m5 0h1m0 0h1m3 0h1m3 0h1m-154 1h1m2 0h1m0 0h1m0 0h1m0 0h1m0 0h1m0 0h1m1 0h1m0 0h1m0 0h1m1 0h1m0 0h1m0 0h1m1 0h1m2 0h1m1 0h1m1 0h1m1 0h1m0 0h1m0 0h1m0 0h1m3 0h1m2 0h1m1 0h1m0 0h1m1 0h1m0 0h1m0 0h1m0 0h1m2 0h1m4 0h1m0 0h1m0 0h1m1 0h1m0 0h1m8 0h1m0 0h1m1 0h1m1 0h1m1 0h1m0 0h1m1 0h1m5 0h1m0 0h1m0 0h1m2 0h1m6 0h1m2 0h1m0 0h1m0 0h1m0 0h1m4 0h1m0 0h1m1 0h1m1 0h1m5 0h1m2 0h1m1 0h1m1 0h1m1 0h1m0 0h1m1 0h1m2 0h1m0 0h1m1 0h1m1 0h1m2 0h1m2 0h1m0 0h1m3 0h1m-146 1h1m2 0h1m0 0h1m1 0h1m0 0h1m0 0h1m0 0h1m0 0h1m0 0h1m1 0h1m1 0h1m0 0h1m0 0h1m0 0h1m1 0h1m1 0h1m0 0h1m0 0h1m0 0h1m1 0h1m0 0h1m1 0h1m1 0h1m0 0h1m0 0h1m1 0h1m0 0h1m0 0h1m2 0h1m1 0h1m8 0h1m2 0h1m5 0h1m2 0h1m2 0h1m1 0h1m4 0h1m10 0h1m4 0h1m1 0h1m2 0h1m0 0h1m0 0h1m1 0h1m7 0h1m6 0h1m1 0h1m1 0h1m0 0h1m9 0h1m1 0h1m0 0h1m2 0h1m9 0h1m4 0h1m-150 1h1m2 0h1m0 0h1m2 0h1m2 0h1m0 0h1m0 0h1m0 0h1m0 0h1m0 0h1m0 0h1m1 0h1m0 0h1m0 0h1m0 0h1m0 0h1m0 0h1m0 0h1m1 0h1m6 0h1m0 0h1m2 0h1m0 0h1m0 0h1m3 0h1m2 0h1m1 0h1m4 0h1m3 0h1m11 0h1m4 0h1m10 0h1m2 0h1m3 0h1m2 0h1m5 0h1m0 0h1m9 0h1m0 0h1m0 0h1m0 0h1m2 0h1m0 0h1m0 0h1m2 0h1m0 0h1m2 0h1m1 0h1m0 0h1m1 0h1m2 0h1m2 0h1m2 0h1m-136 1h1m2 0h1m0 0h1m0 0h1m6 0h1m0 0h1m0 0h1m1 0h1m1 0h1m0 0h1m1 0h1m2 0h1m3 0h1m10 0h1m0 0h1m0 0h1m10 0h1m10 0h1m5 0h1m5 0h1m0 0h1m0 0h1m7 0h1m3 0h1m4 0h1m2 0h1m4 0h1m0 0h1m4 0h1m1 0h1m15 0h1m2 0h1m3 0h1m8 0h1m-148 1h1m7 0h1m2 0h1m0 0h1m3 0h1m3 0h1m1 0h1m2 0h1m13 0h1m4 0h1m3 0h1m1 0h1m2 0h1m6 0h1m18 0h1m4 0h1m1 0h1m6 0h1m2 0h1m1 0h1m2 0h1m0 0h1m3 0h1m8 0h1m0 0h1m0 0h1m0 0h1m2 0h1m0 0h1m0 0h1m9 0h1m1 0h1m-126 1h1m0 0h1m3 0h1m1 0h1m4 0h1m2 0h1m3 0h1m3 0h1m0 0h1m1 0h1m3 0h1m5 0h1m17 0h1m2 0h1m6 0h1m0 0h1m0 0h1m2 0h1m6 0h1m3 0h1m10 0h1m2 0h1m6 0h1m3 0h1m21 0h1m1 0h1m5 0h1m-145 1h1m10 0h1m13 0h1m23 0h1m22 0h1m10 0h1m7 0h1m3 0h1m4 0h1m5 0h1m2 0h1m1 0h1m0 0h1m2 0h1m1 0h1m3 0h1m0 0h1m4 0h1m7 0h1m17 0h1m-62 1h1m19 0h1m10 0h1m4 0h1m7 0h1m-128 1h1m4 0h1m1 0h1m24 0h1m0 0h1m14 0h1m3 0h1m14 0h1m24 0h1m1 0h1m3 0h1m11 0h1m15 0h1m7 0h1m-120 1h1m13 0h1m34 0h1m2 0h1m27 0h1m0 0h1m5 0h1m4 0h1m18 0h1m5 0h1m-104 1h1m9 0h1m18 0h1m8 0h1m0 0h1m9 0h1m5 0h1m20 0h1m15 0h1m20 0h1"/><path stroke="#78f0ff" d="M34 136h1m13 0h1m-17 1h1m23 0h1m1 0h1m1 0h1m-25 1h1m22 0h1m67 0h1m-65 1h1m-44 1h1m8 0h1m2 0h1m19 0h1m5 0h1m0 0h1m3 0h1m0 0h1m-31 1h1m17 0h1m0 0h1m-25 1h1m2 0h1m4 0h1m4 0h1m5 0h1m10 0h1m2 0h1m-28 1h1m6 0h1m15 0h1m16 0h1m-59 1h1m3 0h1m8 0h1m11 0h1m1 0h1m2 0h1m2 0h1m9 0h1m5 0h1m3 0h1m0 0h1m0 0h1m-48 1h1m0 0h1m5 0h1m0 0h1m6 0h1m1 0h1m24 0h1m1 0h1m-58 1h1m5 0h1m2 0h1m11 0h1m3 0h1m9 0h1m2 0h1m13 0h1m2 0h1m68 0h1m-111 1h1m2 0h1m5 0h1m1 0h1m3 0h1m0 0h1m0 0h1m0 0h1m2 0h1m3 0h1m0 0h1m2 0h1m9 0h1m0 0h1m0 0h1m2 0h1m-62 1h1m10 0h1m0 0h1m6 0h1m2 0h1m3 0h1m1 0h1m2 0h1m2 0h1m1 0h1m5 0h1m5 0h1m15 0h1m1 0h1m2 0h1m7 0h1m-71 1h1m1 0h1m10 0h1m3 0h1m5 0h1m4 0h1m1 0h1m0 0h1m4 0h1m0 0h1m2 0h1m5 0h1m3 0h1m8 0h1m-63 1h1m6 0h1m6 0h1m1 0h1m1 0h1m0 0h1m1 0h1m0 0h1m2 0h1m1 0h1m0 0h1m3 0h1m2 0h1m0 0h1m0 0h1m3 0h1m6 0h1m5 0h1m1 0h1m2 0h1m1 0h1m-55 1h1m2 0h1m0 0h1m0 0h1m1 0h1m7 0h1m0 0h1m0 0h1m6 0h1m2 0h1m0 0h1m1 0h1m0 0h1m3 0h1m0 0h1m1 0h1m2 0h1m0 0h1m1 0h1m1 0h1m3 0h1m1 0h1m0 0h1m7 0h1m0 0h1m-67 1h1m2 0h1m2 0h1m2 0h1m3 0h1m5 0h1m1 0h1m7 0h1m1 0h1m0 0h1m1 0h1m0 0h1m0 0h1m1 0h1m0 0h1m3 0h1m0 0h1m1 0h1m3 0h1m2 0h1m1 0h1m0 0h1m6 0h1m0 0h1m13 0h1m-90 1h1m14 0h1m2 0h1m2 0h1m2 0h1m0 0h1m1 0h1m3 0h1m1 0h1m0 0h1m0 0h1m5 0h1m0 0h1m4 0h1m3 0h1m1 0h1m3 0h1m2 0h1m0 0h1m1 0h1m3 0h1m4 0h1m0 0h1m0 0h1m2 0h1m2 0h1m9 0h1m-89 1h1m10 0h1m11 0h1m10 0h1m1 0h1m3 0h1m0 0h1m2 0h1m2 0h1m2 0h1m0 0h1m0 0h1m4 0h1m2 0h1m4 0h1m0 0h1m2 0h1m3 0h1m6 0h1m7 0h1m-84 1h1m5 0h1m1 0h1m0 0h1m8 0h1m4 0h1m7 0h1m1 0h1m5 0h1m1 0h1m6 0h1m2 0h1m0 0h1m0 0h1m3 0h1m1 0h1m0 0h1m0 0h1m2 0h1m4 0h1m0 0h1m2 0h1m4 0h1m-76 1h1m10 0h1m3 0h1m28 0h1m1 0h1m0 0h1m0 0h1m1 0h1m2 0h1m1 0h1m0 0h1m1 0h1m1 0h1m0 0h1m0 0h1m3 0h1m2 0h1m0 0h1m0 0h1m3 0h1m-79 1h1m3 0h1m0 0h1m2 0h1m1 0h1m6 0h1m21 0h1m2 0h1m0 0h1m0 0h1m1 0h1m4 0h1m2 0h1m0 0h1m0 0h1m2 0h1m3 0h1m2 0h1m2 0h1m2 0h1m0 0h1m4 0h1m0 0h1m1 0h1m35 0h1m20 0h1m-143 1h1m6 0h1m3 0h1m2 0h1m5 0h1m0 0h1m1 0h1m7 0h1m9 0h1m0 0h1m9 0h1m0 0h1m2 0h1m2 0h1m0 0h1m2 0h1m0 0h1m4 0h1m3 0h1m7 0h1m2 0h1m3 0h1m6 0h1m2 0h1m35 0h1m-126 1h1m1 0h1m1 0h1m32 0h1m11 0h1m0 0h1m2 0h1m0 0h1m1 0h1m1 0h1m0 0h1m1 0h1m0 0h1m0 0h1m1 0h1m1 0h1m3 0h1m0 0h1m1 0h1m5 0h1m9 0h1m16 0h1m15 0h1m-89 1h1m5 0h1m4 0h1m4 0h1m4 0h1m1 0h1m7 0h1m5 0h1m0 0h1m2 0h1m2 0h1m1 0h1m5 0h1m-100 1h1m7 0h1m0 0h1m1 0h1m0 0h1m0 0h1m10 0h1m1 0h1m21 0h1m14 0h1m7 0h1m2 0h1m0 0h1m0 0h1m0 0h1m1 0h1m10 0h1m8 0h1m36 0h1m-132 1h1m1 0h1m12 0h1m29 0h1m4 0h1m6 0h1m0 0h1m2 0h1m1 0h1m0 0h1m0 0h1m4 0h1m3 0h1m4 0h1m4 0h1m0 0h1m0 0h1m5 0h1m15 0h1m-106 1h1m4 0h1m3 0h1m20 0h1m12 0h1m12 0h1m0 0h1m0 0h1m2 0h1m2 0h1m1 0h1m1 0h1m4 0h1m3 0h1m3 0h1m1 0h1m2 0h1m0 0h1m1 0h1m3 0h1m1 0h1m4 0h1m1 0h1m6 0h1m1 0h1m5 0h1m7 0h1m1 0h1m0 0h1m-139 1h1m5 0h1m1 0h1m0 0h1m7 0h1m31 0h1m3 0h1m13 0h1m2 0h1m0 0h1m3 0h1m0 0h1m1 0h1m2 0h1m1 0h1m0 0h1m1 0h1m0 0h1m0 0h1m0 0h1m0 0h1m3 0h1m0 0h1m1 0h1m7 0h1m1 0h1m0 0h1m10 0h1m0 0h1m4 0h1m-124 1h1m8 0h1m1 0h1m0 0h1m1 0h1m1 0h1m9 0h1m15 0h1m6 0h1m15 0h1m11 0h1m2 0h1m1 0h1m4 0h1m1 0h1m0 0h1m1 0h1m4 0h1m-91 1h1m1 0h1m0 0h1m0 0h1m2 0h1m36 0h1m1 0h1m8 0h1m5 0h1m3 0h1m0 0h1m1 0h1m0 0h1m5 0h1m2 0h1m0 0h1m0 0h1m1 0h1m2 0h1m1 0h1m2 0h1m9 0h1m2 0h1m1 0h1m23 0h1m-135 1h1m3 0h1m0 0h1m0 0h1m0 0h1m4 0h1m5 0h1m27 0h1m8 0h1m6 0h1m0 0h1m0 0h1m1 0h1m3 0h1m2 0h1m0 0h1m1 0h1m1 0h1m0 0h1m6 0h1m0 0h1m1 0h1m6 0h1m1 0h1m0 0h1m2 0h1m3 0h1m2 0h1m3 0h1m7 0h1m-120 1h1m1 0h1m1 0h1m0 0h1m4 0h1m17 0h1m8 0h1m5 0h1m1 0h1m2 0h1m15 0h1m3 0h1m0 0h1m0 0h1m1 0h1m1 0h1m5 0h1m8 0h1m0 0h1m6 0h1m13 0h1m1 0h1m13 0h1m4 0h1m1 0h1m-139 1h1m1 0h1m6 0h1m0 0h1m8 0h1m27 0h1m17 0h1m9 0h1m3 0h1m2 0h1m0 0h1m0 0h1m0 0h1m3 0h1m0 0h1m3 0h1m5 0h1m1 0h1m0 0h1m9 0h1m2 0h1m8 0h1m1 0h1m6 0h1m21 0h1m-152 1h1m1 0h1m2 0h1m1 0h1m0 0h1m10 0h1m12 0h1m7 0h1m3 0h1m16 0h1m2 0h1m2 0h1m0 0h1m4 0h1m1 0h1m9 0h1m2 0h1m0 0h1m0 0h1m1 0h1m8 0h1m3 0h1m5 0h1m0 0h1m5 0h1m0 0h1m5 0h1m-124 1h1m4 0h1m3 0h1m0 0h1m3 0h1m27 0h1m6 0h1m8 0h1m2 0h1m4 0h1m4 0h1m0 0h1m0 0h1m2 0h1m2 0h1m0 0h1m1 0h1m2 0h1m5 0h1m7 0h1m8 0h1m0 0h1m3 0h1m3 0h1m3 0h1m3 0h1m-118 1h1m0 0h1m0 0h1m8 0h1m17 0h1m0 0h1m15 0h1m3 0h1m2 0h1m0 0h1m3 0h1m0 0h1m4 0h1m0 0h1m1 0h1m2 0h1m0 0h1m2 0h1m2 0h1m2 0h1m5 0h1m2 0h1m4 0h1m6 0h1m3 0h1m8 0h1m-123 1h1m2 0h1m3 0h1m1 0h1m3 0h1m15 0h1m1 0h1m29 0h1m2 0h1m1 0h1m5 0h1m8 0h1m3 0h1m1 0h1m1 0h1m1 0h1m1 0h1m3 0h1m0 0h1m1 0h1m2 0h1m3 0h1m2 0h1m0 0h1m7 0h1m2 0h1m1 0h1m3 0h1m6 0h1m13 0h1m-161 1h1m15 0h1m0 0h1m0 0h1m11 0h1m14 0h1m0 0h1m8 0h1m4 0h1m4 0h1m3 0h1m0 0h1m1 0h1m2 0h1m1 0h1m0 0h1m2 0h1m0 0h1m0 0h1m0 0h1m0 0h1m0 0h1m3 0h1m5 0h1m0 0h1m1 0h1m9 0h1m2 0h1m0 0h1m4 0h1m16 0h1m7 0h1m-131 1h1m2 0h1m0 0h1m1 0h1m1 0h1m1 0h1m0 0h1m1 0h1m15 0h1m4 0h1m4 0h1m14 0h1m0 0h1m1 0h1m0 0h1m0 0h1m9 0h1m4 0h1m5 0h1m0 0h1m0 0h1m3 0h1m0 0h1m1 0h1m1 0h1m3 0h1m0 0h1m1 0h1m13 0h1m36 0h1m-149 1h1m0 0h1m0 0h1m4 0h1m0 0h1m3 0h1m0 0h1m0 0h1m2 0h1m7 0h1m1 0h1m2 0h1m3 0h1m5 0h1m5 0h1m0 0h1m1 0h1m7 0h1m1 0h1m6 0h1m0 0h1m11 0h1m2 0h1m0 0h1m2 0h1m4 0h1m9 0h1m9 0h1m1 0h1m5 0h1m7 0h1m5 0h1m2 0h1m-135 1h1m1 0h1m1 0h1m1 0h1m2 0h1m0 0h1m0 0h1m0 0h1m8 0h1m0 0h1m2 0h1m0 0h1m2 0h1m0 0h1m0 0h1m0 0h1m3 0h1m4 0h1m6 0h1m2 0h1m0 0h1m1 0h1m1 0h1m0 0h1m0 0h1m1 0h1m0 0h1m0 0h1m0 0h1m0 0h1m3 0h1m3 0h1m1 0h1m1 0h1m1 0h1m0 0h1m1 0h1m0 0h1m1 0h1m6 0h1m3 0h1m0 0h1m0 0h1m3 0h1m14 0h1m-117 1h1m0 0h1m5 0h1m2 0h1m2 0h1m5 0h1m0 0h1m0 0h1m2 0h1m1 0h1m2 0h1m0 0h1m5 0h1m3 0h1m4 0h1m3 0h1m0 0h1m1 0h1m4 0h1m4 0h1m0 0h1m1 0h1m0 0h1m4 0h1m6 0h1m0 0h1m0 0h1m4 0h1m16 0h1m1 0h1m10 0h1m8 0h1m-129 1h1m3 0h1m0 0h1m5 0h1m1 0h1m0 0h1m3 0h1m2 0h1m2 0h1m3 0h1m0 0h1m1 0h1m1 0h1m2 0h1m0 0h1m0 0h1m2 0h1m7 0h1m0 0h1m0 0h1m7 0h1m0 0h1m4 0h1m0 0h1m2 0h1m1 0h1m0 0h1m0 0h1m3 0h1m1 0h1m8 0h1m0 0h1m0 0h1m0 0h1m11 0h1m5 0h1m1 0h1m15 0h1m5 0h1m-128 1h1m1 0h1m1 0h1m1 0h1m2 0h1m2 0h1m0 0h1m2 0h1m1 0h1m5 0h1m1 0h1m1 0h1m1 0h1m2 0h1m1 0h1m3 0h1m5 0h1m1 0h1m1 0h1m0 0h1m1 0h1m0 0h1m0 0h1m2 0h1m1 0h1m0 0h1m6 0h1m2 0h1m3 0h1m26 0h1m0 0h1m-104 1h1m2 0h1m0 0h1m3 0h1m0 0h1m4 0h1m1 0h1m0 0h1m1 0h1m2 0h1m0 0h1m0 0h1m3 0h1m0 0h1m1 0h1m6 0h1m0 0h1m0 0h1m1 0h1m3 0h1m1 0h1m0 0h1m3 0h1m1 0h1m2 0h1m0 0h1m5 0h1m7 0h1m0 0h1m8 0h1m1 0h1m30 0h1m15 0h1m7 0h1m9 0h1m-154 1h1m8 0h1m4 0h1m1 0h1m0 0h1m2 0h1m1 0h1m0 0h1m1 0h1m8 0h1m1 0h1m0 0h1m0 0h1m5 0h1m4 0h1m4 0h1m0 0h1m11 0h1m1 0h1m1 0h1m5 0h1m42 0h1m22 0h1m-142 1h1m10 0h1m0 0h1m2 0h1m0 0h1m0 0h1m1 0h1m4 0h1m5 0h1m5 0h1m0 0h1m0 0h1m13 0h1m8 0h1m12 0h1m0 0h1m1 0h1m14 0h1m1 0h1m0 0h1m4 0h1m8 0h1m-99 1h1m16 0h1m1 0h1m2 0h1m3 0h1m6 0h1m7 0h1m1 0h1m1 0h1m7 0h1m1 0h1m2 0h1m5 0h1m12 0h1m36 0h1m-119 1h1m6 0h1m0 0h1m0 0h1m1 0h1m0 0h1m2 0h1m0 0h1m1 0h1m1 0h1m5 0h1m7 0h1m2 0h1m0 0h1m1 0h1m2 0h1m0 0h1m19 0h1m2 0h1m12 0h1m12 0h1m1 0h1m25 0h1m11 0h1m-134 1h1m0 0h1m15 0h1m2 0h1m0 0h1m14 0h1m0 0h1m3 0h1m3 0h1m0 0h1m6 0h1m48 0h1m-94 1h1m6 0h1m0 0h1m1 0h1m11 0h1m6 0h1m0 0h1m1 0h1m13 0h1m13 0h1m1 0h1m2 0h1m19 0h1m29 0h1m9 0h1m-125 1h1m11 0h1m1 0h1m5 0h1m7 0h1m16 0h1m31 0h1m-93 1h1m1 0h1m20 0h1m35 0h1m76 0h1m-134 1h1m12 0h1m11 0h1m2 0h1m46 0h1m40 0h1m-98 1h1m1 0h1m15 0h1m8 0h1m75 0h1m-79 1h1m15 0h1m50 0h1m24 0h1m-109 1h1m39 0h1m5 0h1m-35 1h1m42 0h1m-73 1h1m74 0h1m2 0h1m-41 1h1"/><path stroke="#a4ff40" d="M38 139h1m25 3h1m-43 1h1m8 0h1m4 0h1m19 0h1m5 0h1m-2 1h1m2 0h1m-44 1h1m8 0h1m3 0h1m-12 1h1m3 0h1m10 0h1m3 0h1m-16 1h1m2 0h1m7 0h1m0 0h1m0 0h1m8 0h1m4 0h1m-28 1h1m1 0h1m3 0h1m0 0h1m-12 1h1m11 0h1m2 0h1m2 0h1m0 0h1m5 0h1m5 0h1m18 0h1m-46 1h1m4 0h1m2 0h1m0 0h1m4 0h1m0 0h1m0 0h1m7 0h1m27 0h1m-55 1h1m2 0h1m1 0h1m0 0h1m0 0h1m0 0h1m3 0h1m1 0h1m2 0h1m1 0h1m3 0h1m2 0h1m18 0h1m-54 1h1m4 0h1m2 0h1m0 0h1m0 0h1m1 0h1m0 0h1m0 0h1m0 0h1m0 0h1m1 0h1m1 0h1m0 0h1m0 0h1m0 0h1m1 0h1m0 0h1m1 0h1m2 0h1m3 0h1m2 0h1m1 0h1m2 0h1m1 0h1m0 0h1m-44 1h1m5 0h1m0 0h1m2 0h1m3 0h1m1 0h1m3 0h1m0 0h1m1 0h1m0 0h1m2 0h1m0 0h1m0 0h1m3 0h1m2 0h1m1 0h1m0 0h1m13 0h1m12 0h1m-68 1h1m0 0h1m1 0h1m0 0h1m0 0h1m0 0h1m1 0h1m0 0h1m1 0h1m0 0h1m0 0h1m0 0h1m0 0h1m0 0h1m0 0h1m0 0h1m0 0h1m0 0h1m4 0h1m0 0h1m2 0h1m0 0h1m1 0h1m0 0h1m2 0h1m3 0h1m0 0h1m0 0h1m0 0h1m6 0h1m13 0h1m-66 1h1m2 0h1m0 0h1m0 0h1m0 0h1m0 0h1m0 0h1m1 0h1m1 0h1m0 0h1m0 0h1m3 0h1m0 0h1m0 0h1m0 0h1m1 0h1m1 0h1m1 0h1m0 0h1m2 0h1m4 0h1m1 0h1m1 0h1m1 0h1m4 0h1m0 0h1m10 0h1m-59 1h1m0 0h1m0 0h1m0 0h1m0 0h1m0 0h1m2 0h1m0 0h1m1 0h1m0 0h1m2 0h1m1 0h1m1 0h1m0 0h1m0 0h1m0 0h1m0 0h1m1 0h1m1 0h1m0 0h1m0 0h1m0 0h1m0 0h1m1 0h1m0 0h1m0 0h1m0 0h1m0 0h1m0 0h1m5 0h1m1 0h1m5 0h1m1 0h1m3 0h1m23 0h1m-90 1h1m4 0h1m2 0h1m1 0h1m0 0h1m5 0h1m0 0h1m0 0h1m0 0h1m0 0h1m0 0h1m3 0h1m0 0h1m1 0h1m0 0h1m0 0h1m0 0h1m0 0h1m0 0h1m0 0h1m3 0h1m0 0h1m3 0h1m1 0h1m0 0h1m0 0h1m0 0h1m1 0h1m0 0h1m3 0h1m0 0h1m1 0h1m10 0h1m-71 1h1m0 0h1m3 0h1m1 0h1m0 0h1m1 0h1m1 0h1m1 0h1m2 0h1m3 0h1m0 0h1m8 0h1m2 0h1m3 0h1m1 0h1m0 0h1m0 0h1m0 0h1m1 0h1m0 0h1m3 0h1m1 0h1m3 0h1m3 0h1m1 0h1m-64 1h1m1 0h1m0 0h1m6 0h1m0 0h1m1 0h1m0 0h1m0 0h1m0 0h1m1 0h1m3 0h1m3 0h1m5 0h1m1 0h1m0 0h1m0 0h1m0 0h1m0 0h1m0 0h1m0 0h1m0 0h1m1 0h1m0 0h1m0 0h1m1 0h1m0 0h1m0 0h1m0 0h1m0 0h1m1 0h1m3 0h1m4 0h1m18 0h1m-83 1h1m2 0h1m0 0h1m0 0h1m0 0h1m1 0h1m1 0h1m0 0h1m0 0h1m0 0h1m0 0h1m0 0h1m0 0h1m0 0h1m1 0h1m4 0h1m9 0h1m0 0h1m0 0h1m0 0h1m0 0h1m0 0h1m0 0h1m1 0h1m1 0h1m0 0h1m4 0h1m3 0h1m5 0h1m2 0h1m2 0h1m1 0h1m1 0h1m-70 1h1m2 0h1m4 0h1m0 0h1m0 0h1m0 0h1m0 0h1m0 0h1m8 0h1m7 0h1m3 0h1m0 0h1m1 0h1m0 0h1m0 0h1m2 0h1m0 0h1m0 0h1m0 0h1m1 0h1m0 0h1m0 0h1m0 0h1m0 0h1m1 0h1m0 0h1m0 0h1m1 0h1m2 0h1m1 0h1m0 0h1m2 0h1m4 0h1m2 0h1m-74 1h1m0 0h1m1 0h1m0 0h1m0 0h1m1 0h1m0 0h1m0 0h1m0 0h1m0 0h1m1 0h1m0 0h1m1 0h1m0 0h1m11 0h1m1 0h1m1 0h1m2 0h1m0 0h1m0 0h1m0 0h1m0 0h1m0 0h1m1 0h1m1 0h1m0 0h1m2 0h1m2 0h1m0 0h1m2 0h1m0 0h1m6 0h1m1 0h1m2 0h1m36 0h1m-104 1h1m0 0h1m1 0h1m1 0h1m1 0h1m0 0h1m8 0h1m2 0h1m9 0h1m0 0h1m1 0h1m0 0h1m1 0h1m0 0h1m0 0h1m2 0h1m1 0h1m0 0h1m2 0h1m0 0h1m0 0h1m0 0h1m1 0h1m6 0h1m0 0h1m1 0h1m3 0h1m0 0h1m1 0h1m23 0h1m-100 1h1m4 0h1m0 0h1m0 0h1m0 0h1m0 0h1m1 0h1m0 0h1m0 0h1m0 0h1m4 0h1m2 0h1m4 0h1m8 0h1m2 0h1m0 0h1m0 0h1m1 0h1m0 0h1m4 0h1m0 0h1m0 0h1m1 0h1m0 0h1m1 0h1m1 0h1m0 0h1m1 0h1m0 0h1m3 0h1m0 0h1m10 0h1m-76 1h1m6 0h1m2 0h1m0 0h1m0 0h1m1 0h1m0 0h1m1 0h1m6 0h1m7 0h1m0 0h1m1 0h1m2 0h1m0 0h1m0 0h1m1 0h1m1 0h1m0 0h1m0 0h1m4 0h1m0 0h1m0 0h1m0 0h1m0 0h1m0 0h1m1 0h1m0 0h1m0 0h1m0 0h1m1 0h1m1 0h1m0 0h1m1 0h1m1 0h1m4 0h1m28 0h1m-101 1h1m0 0h1m1 0h1m0 0h1m1 0h1m0 0h1m0 0h1m0 0h1m5 0h1m10 0h1m0 0h1m0 0h1m0 0h1m0 0h1m0 0h1m1 0h1m0 0h1m0 0h1m2 0h1m1 0h1m4 0h1m1 0h1m0 0h1m0 0h1m1 0h1m0 0h1m1 0h1m0 0h1m1 0h1m0 0h1m0 0h1m6 0h1m0 0h1m1 0h1m2 0h1m29 0h1m-103 1h1m0 0h1m1 0h1m0 0h1m0 0h1m0 0h1m0 0h1m1 0h1m16 0h1m0 0h1m0 0h1m0 0h1m0 0h1m0 0h1m0 0h1m0 0h1m0 0h1m0 0h1m1 0h1m0 0h1m0 0h1m0 0h1m1 0h1m0 0h1m3 0h1m0 0h1m0 0h1m1 0h1m3 0h1m1 0h1m0 0h1m2 0h1m0 0h1m2 0h1m1 0h1m2 0h1m1 0h1m1 0h1m0 0h1m-78 1h1m0 0h1m1 0h1m1 0h1m0 0h1m0 0h1m0 0h1m2 0h1m0 0h1m13 0h1m0 0h1m0 0h1m0 0h1m3 0h1m0 0h1m3 0h1m2 0h1m1 0h1m0 0h1m3 0h1m1 0h1m0 0h1m0 0h1m0 0h1m0 0h1m1 0h1m0 0h1m1 0h1m0 0h1m0 0h1m3 0h1m3 0h1m0 0h1m0 0h1m0 0h1m2 0h1m3 0h1m0 0h1m33 0h1m-117 1h1m2 0h1m1 0h1m1 0h1m0 0h1m1 0h1m3 0h1m11 0h1m0 0h1m0 0h1m1 0h1m0 0h1m0 0h1m0 0h1m0 0h1m0 0h1m2 0h1m1 0h1m0 0h1m0 0h1m0 0h1m1 0h1m3 0h1m0 0h1m0 0h1m0 0h1m0 0h1m0 0h1m0 0h1m2 0h1m0 0h1m0 0h1m0 0h1m0 0h1m0 0h1m5 0h1m0 0h1m1 0h1m0 0h1m14 0h1m4 0h1m36 0h1m-125 1h1m0 0h1m0 0h1m0 0h1m0 0h1m0 0h1m0 0h1m1 0h1m0 0h1m6 0h1m0 0h1m2 0h1m3 0h1m0 0h1m0 0h1m1 0h1m1 0h1m1 0h1m0 0h1m4 0h1m0 0h1m1 0h1m0 0h1m0 0h1m1 0h1m1 0h1m0 0h1m1 0h1m0 0h1m1 0h1m0 0h1m1 0h1m0 0h1m2 0h1m4 0h1m2 0h1m1 0h1m1 0h1m0 0h1m1 0h1m2 0h1m6 0h1m3 0h1m7 0h1m10 0h1m-113 1h1m0 0h1m1 0h1m0 0h1m0 0h1m6 0h1m10 0h1m1 0h1m0 0h1m2 0h1m1 0h1m1 0h1m0 0h1m0 0h1m0 0h1m0 0h1m2 0h1m0 0h1m0 0h1m0 0h1m1 0h1m1 0h1m3 0h1m0 0h1m3 0h1m0 0h1m1 0h1m0 0h1m0 0h1m0 0h1m1 0h1m0 0h1m0 0h1m0 0h1m3 0h1m0 0h1m1 0h1m9 0h1m8 0h1m9 0h1m8 0h1m-126 1h1m6 0h1m4 0h1m1 0h1m0 0h1m0 0h1m4 0h1m1 0h1m2 0h1m5 0h1m1 0h1m0 0h1m0 0h1m0 0h1m0 0h1m1 0h1m0 0h1m0 0h1m0 0h1m0 0h1m1 0h1m2 0h1m0 0h1m0 0h1m0 0h1m0 0h1m0 0h1m1 0h1m1 0h1m1 0h1m0 0h1m0 0h1m0 0h1m1 0h1m0 0h1m0 0h1m1 0h1m0 0h1m2 0h1m0 0h1m0 0h1m2 0h1m1 0h1m0 0h1m8 0h1m5 0h1m2 0h1m11 0h1m30 0h1m-134 1h1m6 0h1m1 0h1m1 0h1m0 0h1m0 0h1m1 0h1m0 0h1m3 0h1m0 0h1m0 0h1m2 0h1m0 0h1m0 0h1m0 0h1m0 0h1m1 0h1m1 0h1m1 0h1m0 0h1m0 0h1m0 0h1m0 0h1m0 0h1m0 0h1m1 0h1m1 0h1m1 0h1m0 0h1m0 0h1m0 0h1m0 0h1m1 0h1m0 0h1m0 0h1m0 0h1m0 0h1m0 0h1m0 0h1m0 0h1m0 0h1m1 0h1m0 0h1m3 0h1m1 0h1m1 0h1m2 0h1m0 0h1m0 0h1m1 0h1m9 0h1m19 0h1m-105 1h1m3 0h1m0 0h1m0 0h1m0 0h1m0 0h1m0 0h1m0 0h1m1 0h1m0 0h1m0 0h1m2 0h1m0 0h1m0 0h1m0 0h1m0 0h1m0 0h1m0 0h1m0 0h1m0 0h1m0 0h1m2 0h1m2 0h1m1 0h1m1 0h1m1 0h1m0 0h1m1 0h1m0 0h1m0 0h1m0 0h1m1 0h1m0 0h1m0 0h1m0 0h1m1 0h1m0 0h1m0 0h1m2 0h1m1 0h1m0 0h1m1 0h1m2 0h1m0 0h1m7 0h1m0 0h1m1 0h1m3 0h1m5 0h1m0 0h1m1 0h1m9 0h1m-100 1h1m4 0h1m1 0h1m2 0h1m2 0h1m0 0h1m0 0h1m2 0h1m0 0h1m0 0h1m0 0h1m0 0h1m0 0h1m0 0h1m0 0h1m0 0h1m1 0h1m0 0h1m0 0h1m0 0h1m1 0h1m0 0h1m0 0h1m0 0h1m1 0h1m1 0h1m0 0h1m0 0h1m0 0h1m0 0h1m0 0h1m2 0h1m0 0h1m0 0h1m0 0h1m2 0h1m3 0h1m0 0h1m0 0h1m0 0h1m3 0h1m3 0h1m0 0h1m15 0h1m-84 1h1m1 0h1m2 0h1m1 0h1m3 0h1m0 0h1m1 0h1m1 0h1m0 0h1m1 0h1m0 0h1m1 0h1m1 0h1m0 0h1m2 0h1m0 0h1m2 0h1m0 0h1m3 0h1m0 0h1m0 0h1m0 0h1m3 0h1m3 0h1m0 0h1m0 0h1m0 0h1m0 0h1m3 0h1m1 0h1m1 0h1m0 0h1m10 0h1m4 0h1m7 0h1m16 0h1m9 0h1m-117 1h1m4 0h1m1 0h1m1 0h1m5 0h1m0 0h1m0 0h1m0 0h1m0 0h1m0 0h1m0 0h1m3 0h1m0 0h1m3 0h1m5 0h1m0 0h1m1 0h1m0 0h1m0 0h1m0 0h1m1 0h1m1 0h1m1 0h1m2 0h1m3 0h1m1 0h1m3 0h1m6 0h1m3 0h1m32 0h1m10 0h1m14 0h1m-128 1h1m9 0h1m1 0h1m0 0h1m1 0h1m0 0h1m3 0h1m2 0h1m2 0h1m2 0h1m1 0h1m5 0h1m1 0h1m0 0h1m0 0h1m0 0h1m2 0h1m8 0h1m3 0h1m8 0h1m11 0h1m-77 1h1m7 0h1m1 0h1m0 0h1m1 0h1m2 0h1m0 0h1m0 0h1m2 0h1m4 0h1m4 0h1m2 0h1m0 0h1m0 0h1m1 0h1m0 0h1m3 0h1m0 0h1m0 0h1m20 0h1m6 0h1m18 0h1m26 0h1m-125 1h1m16 0h1m3 0h1m0 0h1m0 0h1m0 0h1m6 0h1m11 0h1m0 0h1m15 0h1m52 0h1m7 0h1m-111 1h1m4 0h1m5 0h1m23 0h1m6 0h1m1 0h1m2 0h1m13 0h1m20 0h1m-85 1h1m3 0h1m10 0h1m0 0h1m22 0h1m5 0h1m1 0h1m15 0h1m-55 1h1m7 0h1m0 0h1m0 0h1m3 0h1m0 0h1m7 0h1m9 0h1m8 0h1m1 0h1m48 0h1m-97 1h1m0 0h1m24 0h1m-22 1h1m29 1h1m11 0h1m28 0h1m-81 2h1m10 2h1m17 3h1"/><path stroke="#e0ff30" d="M44 154h1m-17 1h1m5 0h1m1 0h1m4 0h1m-15 1h1m6 0h1m3 0h1m7 0h1m5 0h1m-26 1h1m0 0h1m12 0h1m-16 1h1m5 0h1m8 0h1m6 0h1m-29 1h1m11 0h1m7 0h1m1 0h1m15 0h1m-18 1h1m18 0h1m1 0h1m-36 1h1m9 0h1m26 0h1m-34 1h1m4 0h1m-9 1h1m19 0h1m2 0h1m3 0h1m2 0h1m3 0h1m-35 1h1m16 0h1m1 0h1m9 0h1m0 0h1m6 0h1m9 0h1m-54 1h1m21 0h1m15 0h1m0 0h1m1 0h1m11 0h1m-48 1h1m31 0h1m2 0h1m-37 1h1m14 0h1m-19 1h1m20 0h1m4 0h1m9 0h1m0 0h1m0 0h1m1 0h1m5 0h1m-39 1h1m4 0h1m11 0h1m0 0h1m6 0h1m1 0h1m9 0h1m-44 1h1m13 0h1m0 0h1m4 0h1m9 0h1m6 0h1m-39 1h1m2 0h1m0 0h1m1 0h1m2 0h1m4 0h1m2 0h1m0 0h1m3 0h1m5 0h1m9 0h1m0 0h1m3 0h1m0 0h1m-43 1h1m29 0h1m1 0h1m-32 1h1m16 0h1m17 0h1m-21 1h1m-16 1h1m3 0h1m0 0h1m28 0h1m0 0h1m-18 1h1"/><path stroke="#ffa020" d="M36 156h1m7 0h1m-19 1h1m6 1h1m4 0h1m7 0h1m10 0h1m-34 1h1m8 0h1m9 0h1m-13 1h1m2 0h1m1 0h1m2 0h1m4 0h1m-19 1h1m3 0h1m1 0h1m2 0h1m0 0h1m3 0h1m2 0h1m0 0h1m0 0h1m2 0h1m9 0h1m-26 1h1m4 0h1m1 0h1m4 0h1m1 0h1m-22 1h1m7 0h1m2 0h1m4 0h1m2 0h1m15 0h1m-37 1h1m0 0h1m0 0h1m2 0h1m2 0h1m5 0h1m2 0h1m1 0h1m-12 1h1m1 0h1m4 0h1m1 0h1m6 0h1m0 0h1m11 0h1m-41 1h1m8 0h1m4 0h1m4 0h1m7 0h1m9 0h1m-24 1h1m2 0h1m0 0h1m17 0h1m4 0h1m-39 1h1m6 0h1m2 0h1m0 0h1m1 0h1m-14 1h1m0 0h1m1 0h1m2 0h1m6 0h1m3 0h1m17 0h1m0 0h1m17 0h1m-50 1h1m1 0h1m0 0h1m3 0h1m17 0h1m12 0h1m-39 1h1m2 0h1m1 0h1m1 0h1m-12 1h1m3 0h1m1 0h1m0 0h1m1 0h1m11 0h1m41 0h1m-61 1h1m0 0h1m3 0h1m0 0h1m21 0h1m-31 1h1"/><path stroke="#e8341a" d="M38 157h1m-3 1h1m0 0h1m2 0h1m1 0h1m0 0h1m-15 1h1m1 0h1m3 0h1m3 0h1m1 0h1m-13 1h1m2 0h1m0 0h1m3 0h1m0 0h1m1 0h1m18 0h1m-32 1h1m4 0h1m4 0h1m0 0h1m1 0h1m-14 1h1m3 0h1m1 0h1m0 0h1m3 0h1m1 0h1m1 0h1m13 0h1m3 0h1m1 0h1m0 0h1m-38 1h1m1 0h1m0 0h1m0 0h1m0 0h1m2 0h1m2 0h1m0 0h1m0 0h1m0 0h1m2 0h1m-14 1h1m2 0h1m0 0h1m0 0h1m1 0h1m1 0h1m0 0h1m1 0h1m4 0h1m13 0h1m-37 1h1m2 0h1m2 0h1m1 0h1m1 0h1m1 0h1m0 0h1m1 0h1m1 0h1m-17 1h1m1 0h1m0 0h1m2 0h1m0 0h1m0 0h1m1 0h1m0 0h1m0 0h1m0 0h1m20 0h1m-34 1h1m0 0h1m0 0h1m1 0h1m0 0h1m1 0h1m1 0h1m0 0h1m2 0h1m19 0h1m-34 1h1m0 0h1m0 0h1m0 0h1m1 0h1m0 0h1m4 0h1m0 0h1m-12 1h1m0 0h1m2 0h1m0 0h1m0 0h1m0 0h1m-6 1h1m2 0h1m3 0h1m20 0h1m-28 1h1m3 0h1m22 0h1m1 1h1"/></g><line x1="748.6" y1="31.2" x2="748.6" y2="376.2" stroke="#000" stroke-width="2.1"/><line x1="606.2" y1="226" x2="951.7" y2="226" stroke="#000" stroke-width="2.1"/><rect x="606.2" y="31.2" width="345.5" height="345" fill="none" stroke="#000" stroke-width="1.55"/><path d="M627 376.2v9.2M740.3 376.2v9.2M834.6 376.2v9.2M917 376.2v9.2M630.6 376.2v5.6M635.4 376.2v5.6M640.3 376.2v5.6M646.1 376.2v5.6M651.9 376.2v5.6M657.9 376.2v5.6M663.2 376.2v5.6M668 376.2v5.6M672.2 376.2v5.6M696.7 376.2v5.6M703.3 376.2v5.6M709.8 376.2v5.6M715.6 376.2v5.6M721.4 376.2v5.6M726.2 376.2v5.6M731 376.2v5.6M735.5 376.2v5.6M770.9 376.2v5.6M788.3 376.2v5.6M800.5 376.2v5.6M809.7 376.2v5.6M816.5 376.2v5.6M822 376.2v5.6M827.4 376.2v5.6M831.5 376.2v5.6M860.2 376.2v5.6M874.8 376.2v5.6M884.9 376.2v5.6M892.8 376.2v5.6M899.2 376.2v5.6M904.6 376.2v5.6M909.4 376.2v5.6M913.5 376.2v5.6M940.8 376.2v5.6" stroke="#000" stroke-width="1.4" fill="none"/><path d="M627 376.2v9.2M740.3 376.2v9.2M834.6 376.2v9.2M917 376.2v9.2" stroke="#000" stroke-width="2" fill="none"/><rect x="675.8" y="376.2" width="16" height="5.2" fill="#000"/><line x1="677.1" y1="376.2" x2="677.1" y2="385.4" stroke="#000" stroke-width="1.8"/><line x1="683.9" y1="376.2" x2="683.9" y2="385.4" stroke="#000" stroke-width="3.2"/><line x1="690.7" y1="376.2" x2="690.7" y2="385.4" stroke="#000" stroke-width="1.8"/><path d="M606.2 349.7h-5M606.2 346.1h-5M606.2 340.5h-5M606.2 334.9h-5M606.2 329.3h-5M606.2 323.7h-5M606.2 318.1h-5M606.2 313.1h-5M606.2 307.5h-5M606.2 284.6h-5M606.2 278.5h-5M606.2 272.4h-5M606.2 266.3h-5M606.2 260.7h-5M606.2 255.1h-5M606.2 249.5h-5M606.2 243.9h-5M606.2 210h-5M606.2 192.6h-5M606.2 180.4h-5M606.2 171.2h-5M606.2 164.4h-5M606.2 158.9h-5M606.2 153.5h-5M606.2 149.4h-5M606.2 120.1h-5M606.2 105.5h-5M606.2 95.4h-5M606.2 87.5h-5M606.2 81.1h-5M606.2 75.7h-5M606.2 70.9h-5M606.2 66.8h-5M606.2 39.1h-5" stroke="#000" stroke-width="1.4" fill="none"/><path d="M606.2 354.2h-9.4M606.2 240.6h-9.4M606.2 145.7h-9.4M606.2 62.9h-9.4" stroke="#000" stroke-width="2" fill="none"/><rect x="601" y="289.2" width="5.2" height="15.2" fill="#000"/><line x1="606.2" y1="303.1" x2="596.8" y2="303.1" stroke="#000" stroke-width="1.8"/><line x1="606.2" y1="296.8" x2="596.8" y2="296.8" stroke="#000" stroke-width="3.2"/><line x1="606.2" y1="290.5" x2="596.8" y2="290.5" stroke="#000" stroke-width="1.8"/><text transform="translate(622.96,405.8)" font-size="12.8" fill="#1c1c1c" stroke="#1c1c1c" stroke-width="0.2">−10</text><text transform="translate(645.83,397.5)" font-size="12.8" fill="#1c1c1c" stroke="#1c1c1c" stroke-width="0.2">3</text><text transform="translate(686.95,405.8)" font-size="12.8" fill="#1c1c1c" stroke="#1c1c1c" stroke-width="0.2">0</text><text transform="translate(739.74,405.8)" font-size="12.8" fill="#1c1c1c" stroke="#1c1c1c" stroke-width="0.2">10</text><text transform="translate(755.12,397.5)" font-size="12.8" fill="#1c1c1c" stroke="#1c1c1c" stroke-width="0.2">3</text><text transform="translate(833.94,405.8)" font-size="12.8" fill="#1c1c1c" stroke="#1c1c1c" stroke-width="0.2">10</text><text transform="translate(849.52,397.5)" font-size="12.8" fill="#1c1c1c" stroke="#1c1c1c" stroke-width="0.2">4</text><text transform="translate(916.54,405.8)" font-size="12.8" fill="#1c1c1c" stroke="#1c1c1c" stroke-width="0.2">10</text><text transform="translate(931.92,397.5)" font-size="12.8" fill="#1c1c1c" stroke="#1c1c1c" stroke-width="0.2">5</text><text transform="translate(568.1,71.8)" font-size="12.8" fill="#1c1c1c" stroke="#1c1c1c" stroke-width="0.2">10</text><text transform="translate(583.29,63.4)" font-size="12.8" fill="#1c1c1c" stroke="#1c1c1c" stroke-width="0.2">5</text><text transform="translate(568.1,153.6)" font-size="12.8" fill="#1c1c1c" stroke="#1c1c1c" stroke-width="0.2">10</text><text transform="translate(583.48,145.2)" font-size="12.8" fill="#1c1c1c" stroke="#1c1c1c" stroke-width="0.2">4</text><text transform="translate(568.1,247.6)" font-size="12.8" fill="#1c1c1c" stroke="#1c1c1c" stroke-width="0.2">10</text><text transform="translate(583.29,239.2)" font-size="12.8" fill="#1c1c1c" stroke="#1c1c1c" stroke-width="0.2">3</text><text transform="translate(575.01,300.62)" font-size="12.8" fill="#1c1c1c" stroke="#1c1c1c" stroke-width="0.2">0</text><text transform="translate(560.62,361.4)" font-size="12.8" fill="#1c1c1c" stroke="#1c1c1c" stroke-width="0.2">−10</text><text transform="translate(583.29,353)" font-size="12.8" fill="#1c1c1c" stroke="#1c1c1c" stroke-width="0.2">3</text><text transform="translate(612.09,56.6)" font-size="15.8" fill="#1c1c1c" stroke="#1c1c1c" stroke-width="0.2">Q1</text><text transform="translate(612.47,75.6)" font-size="15.8" fill="#1c1c1c" stroke="#1c1c1c" stroke-width="0.2">0.023</text><text transform="translate(894.6,56.6)" font-size="15.8" fill="#1c1c1c" stroke="#1c1c1c" stroke-width="0.2">Q2</text><text transform="translate(856.76,75.6)" font-size="15.8" fill="#1c1c1c" stroke="#1c1c1c" stroke-width="0.2">5.68E–3</text><text transform="translate(612.09,340.7)" font-size="15.8" fill="#1c1c1c" stroke="#1c1c1c" stroke-width="0.2">Q4</text><text transform="translate(612.39,359.3)" font-size="15.8" fill="#1c1c1c" stroke="#1c1c1c" stroke-width="0.2">85.5</text><text transform="translate(901.02,340.7)" font-size="15.8" fill="#1c1c1c" stroke="#1c1c1c" stroke-width="0.2">Q3</text><text transform="translate(891.3,359.3)" font-size="15.8" fill="#1c1c1c" stroke="#1c1c1c" stroke-width="0.2">14.5</text><text transform="translate(734.91,436.8) scale(1.0243,1.0000)" font-size="14.5" fill="#1c1c1c" stroke="#1c1c1c" stroke-width="0.2">Comp–PE–A</text><text transform="translate(535.4,203.5) rotate(-90) translate(-50.27,0) scale(1.0585,1)" font-size="14.5" fill="#1c1c1c" stroke="#1c1c1c" stroke-width="0.2">Comp–APC–A</text><g transform="translate(104.5 1051.55) scale(1.5)" fill="none" stroke-width="1"><path stroke="#0000ff" d="M229 71h1m-1 15h1m-1 15h1m-1 3h1m-9 10h1m2 14h1m-12 13h1m-17 3h1m-11 5h1m-35 1h1m-11 9h1m41 1h1m-4 1h1m-13 2h1m2 0h1m7 0h1m-141 1h1m135 0h1m0 0h1m0 0h1m0 0h1m-150 1h1m10 0h1m18 0h1m111 0h1m0 0h1m3 0h1m2 0h1m0 0h1m2 0h1m-122 1h1m0 0h1m0 0h1m1 0h1m7 0h1m94 0h1m0 0h1m6 0h1m3 0h1m1 0h1m0 0h1m0 0h1m-154 1h1m4 0h1m1 0h1m1 0h1m1 0h1m11 0h1m11 0h1m0 0h1m2 0h1m99 0h1m6 0h1m0 0h1m2 0h1m-151 1h1m6 0h1m25 0h1m99 0h1m3 0h1m0 0h1m5 0h1m1 0h1m1 0h1m-157 1h1m0 0h1m2 0h1m0 0h1m4 0h1m36 0h1m2 0h1m1 0h1m86 0h1m1 0h1m0 0h1m2 0h1m0 0h1m0 0h1m1 0h1m-152 1h1m3 0h1m50 0h1m21 0h1m11 0h1m4 0h1m8 0h1m5 0h1m22 0h1m7 0h1m1 0h1m4 0h1m-149 1h1m1 0h1m0 0h1m1 0h1m51 0h1m12 0h1m1 0h1m3 0h1m4 0h1m3 0h1m1 0h1m0 0h1m2 0h1m37 0h1m1 0h1m4 0h1m1 0h1m5 0h1m4 0h1m-162 1h1m13 0h1m0 0h1m3 0h1m54 0h1m1 0h1m1 0h1m3 0h1m1 0h1m3 0h1m9 0h1m2 0h1m0 0h1m0 0h1m3 0h1m0 0h1m2 0h1m2 0h1m3 0h1m0 0h1m1 0h1m2 0h1m10 0h1m1 0h1m0 0h1m4 0h1m2 0h1m0 0h1m0 0h1m0 0h1m3 0h1m-145 1h1m1 0h1m1 0h1m0 0h1m0 0h1m63 0h1m2 0h1m2 0h1m0 0h1m2 0h1m6 0h1m6 0h1m1 0h1m1 0h1m2 0h1m0 0h1m2 0h1m4 0h1m0 0h1m0 0h1m0 0h1m0 0h1m1 0h1m6 0h1m2 0h1m7 0h1m0 0h1m2 0h1m3 0h1m1 0h1m0 0h1m1 0h1m-154 1h1m6 0h1m6 0h1m60 0h1m1 0h1m15 0h1m2 0h1m2 0h1m3 0h1m0 0h1m3 0h1m1 0h1m0 0h1m2 0h1m3 0h1m2 0h1m0 0h1m2 0h1m1 0h1m0 0h1m0 0h1m0 0h1m2 0h1m2 0h1m2 0h1m0 0h1m0 0h1m0 0h1m2 0h1m2 0h1m-147 1h1m4 0h1m79 0h1m3 0h1m0 0h1m4 0h1m1 0h1m1 0h1m1 0h1m2 0h1m3 0h1m0 0h1m3 0h1m0 0h1m0 0h1m1 0h1m0 0h1m0 0h1m0 0h1m0 0h1m0 0h1m0 0h1m2 0h1m5 0h1m0 0h1m1 0h1m-128 1h1m72 0h1m1 0h1m3 0h1m1 0h1m0 0h1m7 0h1m1 0h1m4 0h1m3 0h1m4 0h1m3 0h1m3 0h1m0 0h1m4 0h1m0 0h1m5 0h1m-132 1h1m65 0h1m3 0h1m1 0h1m5 0h1m7 0h1m1 0h1m1 0h1m6 0h1m1 0h1m2 0h1m1 0h1m4 0h1m1 0h1m3 0h1m0 0h1m4 0h1m3 0h1m6 0h1m-126 1h1m1 0h1m63 0h1m1 0h1m0 0h1m1 0h1m3 0h1m0 0h1m0 0h1m0 0h1m0 0h1m1 0h1m5 0h1m0 0h1m0 0h1m7 0h1m14 0h1m-126 1h1m6 0h1m0 0h1m3 0h1m0 0h1m1 0h1m53 0h1m0 0h1m1 0h1m2 0h1m10 0h1m4 0h1m17 0h1m0 0h1m8 0h1m-117 1h1m3 0h1m4 0h1m4 0h1m0 0h1m51 0h1m8 0h1m28 0h1m-95 1h1m5 0h1m39 0h1m7 0h1m-55 1h1m4 0h1m38 0h1m7 0h1m0 0h1m-45 1h1m3 0h1m3 0h1m7 0h1m11 0h1m1 0h1m1 0h1m3 0h1m4 0h1m-47 1h1m4 0h1m0 0h1m5 0h1m0 0h1m0 0h1m1 0h1m0 0h1m3 0h1m7 0h1m2 0h1m5 0h1m1 0h1m4 0h1m-31 1h1"/><path stroke="#0009ff" d="M229 64h1m-1 17h1m-1 17h1m-1 2h1m-27 40h1m-71 17h1m43 3h1m2 3h1m-111 1h1m100 0h1m-114 1h1m111 0h1m4 0h1m0 0h1m10 0h1m-153 1h1m2 0h1m3 0h1m0 0h1m3 0h1m1 0h1m0 0h1m1 0h1m2 0h1m1 0h1m1 0h1m1 0h1m-20 1h1m6 0h1m4 0h1m4 0h1m0 0h1m2 0h1m1 0h1m0 0h1m100 0h1m1 0h1m0 0h1m1 0h1m2 0h1m1 0h1m1 0h1m-150 1h1m5 0h1m0 0h1m0 0h1m3 0h1m23 0h1m1 0h1m1 0h1m1 0h1m0 0h1m0 0h1m4 0h1m94 0h1m-151 1h1m3 0h1m3 0h1m1 0h1m0 0h1m32 0h1m5 0h1m91 0h1m7 0h1m-155 1h1m8 0h1m2 0h1m0 0h1m38 0h1m2 0h1m0 0h1m0 0h1m0 0h1m3 0h1m0 0h1m0 0h1m23 0h1m56 0h1m3 0h1m8 0h1m-157 1h1m1 0h1m4 0h1m48 0h1m0 0h1m2 0h1m0 0h1m0 0h1m0 0h1m0 0h1m7 0h1m2 0h1m0 0h1m1 0h1m0 0h1m0 0h1m2 0h1m0 0h1m5 0h1m23 0h1m5 0h1m5 0h1m7 0h1m0 0h1m8 0h1m3 0h1m-148 1h1m3 0h1m1 0h1m49 0h1m0 0h1m0 0h1m1 0h1m4 0h1m1 0h1m0 0h1m0 0h1m1 0h1m1 0h1m1 0h1m3 0h1m0 0h1m0 0h1m0 0h1m0 0h1m3 0h1m6 0h1m5 0h1m2 0h1m1 0h1m2 0h1m19 0h1m3 0h1m5 0h1m4 0h1m-144 1h1m3 0h1m53 0h1m3 0h1m0 0h1m0 0h1m0 0h1m0 0h1m1 0h1m0 0h1m1 0h1m0 0h1m2 0h1m0 0h1m1 0h1m2 0h1m0 0h1m0 0h1m2 0h1m0 0h1m0 0h1m0 0h1m0 0h1m3 0h1m9 0h1m10 0h1m5 0h1m4 0h1m-127 1h1m1 0h1m1 0h1m59 0h1m2 0h1m6 0h1m1 0h1m0 0h1m1 0h1m0 0h1m0 0h1m3 0h1m0 0h1m1 0h1m0 0h1m2 0h1m0 0h1m2 0h1m0 0h1m2 0h1m2 0h1m4 0h1m5 0h1m2 0h1m5 0h1m4 0h1m6 0h1m-137 1h1m0 0h1m1 0h1m0 0h1m59 0h1m3 0h1m0 0h1m1 0h1m0 0h1m0 0h1m0 0h1m3 0h1m1 0h1m0 0h1m3 0h1m0 0h1m0 0h1m0 0h1m1 0h1m1 0h1m3 0h1m0 0h1m2 0h1m0 0h1m2 0h1m0 0h1m4 0h1m7 0h1m3 0h1m8 0h1m1 0h1m-134 1h1m2 0h1m0 0h1m0 0h1m63 0h1m0 0h1m0 0h1m0 0h1m1 0h1m4 0h1m0 0h1m1 0h1m2 0h1m0 0h1m0 0h1m1 0h1m0 0h1m0 0h1m1 0h1m1 0h1m0 0h1m0 0h1m2 0h1m0 0h1m3 0h1m1 0h1m1 0h1m0 0h1m0 0h1m1 0h1m0 0h1m0 0h1m4 0h1m0 0h1m5 0h1m-128 1h1m1 0h1m0 0h1m0 0h1m0 0h1m0 0h1m0 0h1m55 0h1m1 0h1m0 0h1m2 0h1m3 0h1m0 0h1m2 0h1m4 0h1m6 0h1m0 0h1m5 0h1m9 0h1m18 0h1m0 0h1m-123 1h1m1 0h1m1 0h1m49 0h1m0 0h1m0 0h1m0 0h1m2 0h1m0 0h1m0 0h1m1 0h1m1 0h1m1 0h1m17 0h1m12 0h1m8 0h1m6 0h1m-134 1h1m6 0h1m4 0h1m4 0h1m2 0h1m1 0h1m46 0h1m0 0h1m2 0h1m10 0h1m20 0h1m-90 1h1m0 0h1m1 0h1m7 0h1m35 0h1m4 0h1m1 0h1m0 0h1m1 0h1m0 0h1m-57 1h1m8 0h1m33 0h1m2 0h1m6 0h1m7 0h1m-57 1h1m0 0h1m1 0h1m2 0h1m1 0h1m1 0h1m2 0h1m3 0h1m14 0h1m1 0h1m0 0h1m6 0h1m2 0h1m-35 1h1m0 0h1m7 0h1m2 0h1m1 0h1m1 0h1m2 0h1m0 0h1m0 0h1m0 0h1m3 0h1m-22 1h1m4 0h1m1 0h1m5 0h1m-19 1h1m6 0h1m11 0h1m-18 2h1"/><path stroke="#0013ff" d="M229 66h1m-46 99h1m-134 2h1m1 0h1m1 0h1m2 0h1m2 0h1m2 0h1m6 0h1m2 0h1m-36 1h1m5 0h1m0 0h1m1 0h1m0 0h1m3 0h1m1 0h1m4 0h1m0 0h1m0 0h1m0 0h1m0 0h1m0 0h1m3 0h1m99 0h1m-132 1h1m1 0h1m22 0h1m1 0h1m1 0h1m1 0h1m0 0h1m0 0h1m0 0h1m2 0h1m-50 1h1m3 0h1m3 0h1m0 0h1m37 0h1m6 0h1m31 0h1m-93 1h1m9 0h1m0 0h1m0 0h1m0 0h1m41 0h1m0 0h1m51 0h1m-108 1h1m6 0h1m2 0h1m0 0h1m1 0h1m40 0h1m2 0h1m3 0h1m1 0h1m1 0h1m10 0h1m-70 1h1m0 0h1m1 0h1m47 0h1m3 0h1m0 0h1m17 0h1m0 0h1m36 0h1m-117 1h1m56 0h1m1 0h1m0 0h1m1 0h1m1 0h1m3 0h1m2 0h1m0 0h1m4 0h1m3 0h1m0 0h1m7 0h1m14 0h1m0 0h1m-104 1h1m0 0h1m53 0h1m1 0h1m0 0h1m1 0h1m0 0h1m0 0h1m2 0h1m4 0h1m0 0h1m0 0h1m16 0h1m24 0h1m-114 1h1m0 0h1m0 0h1m49 0h1m3 0h1m0 0h1m0 0h1m0 0h1m0 0h1m0 0h1m0 0h1m4 0h1m2 0h1m1 0h1m25 0h1m-95 1h1m46 0h1m0 0h1m0 0h1m0 0h1m6 0h1m3 0h1m0 0h1m2 0h1m2 0h1m0 0h1m7 0h1m-79 1h1m47 0h1m21 0h1m-71 1h1m0 0h1m2 0h1m37 0h1m1 0h1m0 0h1m-47 1h1m2 0h1m2 0h1m0 0h1m34 0h1m0 0h1m0 0h1m0 0h1m13 0h1m-58 1h1m4 0h1m1 0h1m0 0h1m23 0h1m0 0h1m1 0h1m2 0h1m0 0h1m1 0h1m-38 1h1m3 0h1m1 0h1m3 0h1m0 0h1m1 0h1m4 0h1m5 0h1m0 0h1m2 0h1m4 0h1m0 0h1m-31 1h1m3 0h1m3 0h1m0 0h1m2 0h1m2 0h1m1 0h1m2 0h1m-4 1h1"/><path stroke="#002bff" d="M50 167h1m-11 1h1m2 0h1m0 0h1m2 0h1m2 0h1m1 0h1m1 0h1m1 0h1m2 0h1m-23 1h1m1 0h1m1 0h1m1 0h1m0 0h1m19 0h1m1 0h1m-31 1h1m30 0h1m0 0h1m0 0h1m0 0h1m0 0h1m2 0h1m-41 1h1m1 0h1m35 0h1m1 0h1m2 0h1m-45 1h1m42 0h1m0 0h1m-48 1h1m1 0h1m45 0h1m1 0h1m1 0h1m-52 1h1m0 0h1m46 0h1m2 0h1m2 0h1m7 0h1m0 0h1m-65 1h1m47 0h1m0 0h1m3 0h1m-53 1h1m0 0h1m49 0h1m0 0h1m-54 1h1m0 0h1m46 0h1m4 0h1m0 0h1m-53 1h1m1 0h1m39 0h1m2 0h1m0 0h1m-46 1h1m0 0h1m1 0h1m35 0h1m1 0h1m-41 1h1m3 0h1m0 0h1m0 0h1m2 0h1m23 0h1m1 0h1m0 0h1m-33 1h1m2 0h1m0 0h1m0 0h1m19 0h1m2 0h1m1 0h1m-24 1h1m4 0h1m1 0h1m2 0h1m0 0h1m0 0h1m0 0h1m0 0h1"/><path stroke="#0047ff" d="M51 168h1m5 0h1m0 0h1m-17 1h1m5 0h1m11 0h1m1 0h1m-26 1h1m0 0h1m0 0h1m0 0h1m2 0h1m22 0h1m-32 1h1m34 0h1m0 0h1m1 0h1m-39 1h1m-3 1h1m0 0h1m38 0h1m3 0h1m-49 1h1m0 0h1m49 0h1m-52 1h1m1 0h1m1 0h1m0 0h1m45 0h1m0 0h1m-49 1h1m44 0h1m2 0h1m-49 1h1m1 0h1m39 0h1m0 0h1m0 0h1m-45 1h1m38 0h1m0 0h1m1 0h1m0 0h1m-7 1h1m-30 1h1m24 0h1m1 0h1m-25 1h1m0 0h1m8 0h1m3 0h1m1 0h1m0 0h1m0 0h1m-12 1h1"/><path stroke="#0063ff" d="M45 169h1m0 0h1m0 0h1m2 0h1m0 0h1m1 0h1m1 0h1m3 0h1m1 0h1m-21 1h1m-5 1h1m0 0h1m0 0h1m29 0h1m-34 1h1m0 0h1m33 0h1m0 0h1m0 0h1m0 0h1m-4 1h1m0 0h1m1 0h1m0 0h1m0 0h1m-44 1h1m43 0h1m0 0h1m-47 1h1m43 0h1m-1 1h1m0 0h1m1 0h1m-46 1h1m38 0h1m-39 1h1m0 0h1m0 0h1m33 0h1m-35 1h1m0 0h1m29 0h1m0 0h1m1 0h1m-9 1h1m0 0h1m0 0h1m-20 1h1m0 0h1m0 0h1m0 0h1m1 0h1m3 0h1m0 0h1m2 0h1"/><path stroke="#1486ff" d="M49 169h1m2 0h1m1 0h1m1 0h1m0 0h1m0 0h1m-17 1h1m1 0h1m0 0h1m15 0h1m0 0h1m1 0h1m0 0h1m-26 1h1m1 0h1m24 0h1m0 0h1m-31 1h1m31 0h1m-36 1h1m0 0h1m-3 1h1m39 0h1m0 0h1m0 0h1m-42 1h1m41 0h1m-44 1h1m0 0h1m37 0h1m1 0h1m-40 1h1m35 0h1m-35 1h1m30 0h1m0 0h1m-32 1h1m0 0h1m0 0h1m0 1h1m1 0h1m0 0h1m0 0h1m15 0h1m-13 1h1m1 0h1m0 0h1m3 0h1"/><path stroke="#36aeff" d="M46 170h1m0 0h1m0 0h1m7 0h1m1 0h1m1 0h1m2 0h1m5 2h1m-32 1h1m31 0h1m-36 1h1m0 0h1m35 0h1m0 0h1m-38 1h1m35 0h1m1 0h1m0 0h1m-40 1h1m34 0h1m0 0h1m1 0h1m-38 1h1m36 0h1m-9 2h1m0 0h1m-21 1h1m0 0h1m1 0h1m0 0h1m4 0h1m3 0h1"/><path stroke="#58d6ff" d="M49 170h1m0 0h1m0 0h1m5 0h1m1 0h1m-19 1h1m1 0h1m18 0h1m0 0h1m0 0h1m0 0h1m0 0h1m-28 1h1m0 0h1m0 0h1m26 0h1m0 1h1m-33 1h1m33 0h1m-35 1h1m0 0h1m32 0h1m1 0h1m-36 2h1m32 0h1m-33 1h1m0 0h1m26 0h1m0 0h1m-27 1h1m0 0h1m19 0h1m0 0h1m0 0h1m-17 1h1m7 0h1m0 0h1m2 0h1"/><path stroke="#70f2f2" d="M52 170h1m0 0h1m0 0h1m0 0h1m-12 1h1m0 0h1m21 1h1m-31 1h1m0 1h1m31 0h1m-34 2h1m0 0h1m31 0h1m-2 1h1m0 0h1m-30 1h1m24 0h1m-15 2h1m0 0h1m0 0h1m0 0h1m3 0h1"/><path stroke="#76f6cf" d="M61 171h1m4 1h1m-28 1h1m27 0h1m1 1h1m0 1h1m-32 1h1m29 0h1m-31 1h1m28 0h1m-4 1h1m-22 1h1m0 0h1m1 0h1m1 0h1m10 0h1m1 0h1"/><path stroke="#7bfaab" d="M46 171h1m0 0h1m12 0h1m-19 1h1m0 0h1m0 0h1m20 0h1m-26 1h1m27 0h1m-30 1h1m-1 1h1m29 0h1m-2 1h1m-29 1h1m0 0h1m24 0h1m-25 1h1m0 0h1m0 0h1m1 1h1m1 0h1m1 0h1m10 0h1"/><path stroke="#81fe87" d="M48 171h1m0 0h1m6 0h1m2 0h1m3 1h1m-23 1h1m-2 1h1m0 0h1m26 0h1m-29 1h1m27 0h1m-29 1h1m25 0h1m0 0h1m-26 1h1m22 0h1m1 0h1m-5 1h1m0 0h1m-14 1h1m5 0h1m0 0h1m0 0h1"/><path stroke="#88ff71" d="M50 171h1m2 0h1m1 0h1m1 0h1m0 0h1m-14 1h1m18 0h1m-23 1h1m0 0h1m21 0h1m0 0h1m0 1h1m-2 1h1m0 0h1m-27 1h1m22 1h1m-12 2h1m0 0h1m1 0h1"/><path stroke="#90ff5d" d="M51 171h1m0 0h1m1 0h1m-9 1h1m15 0h1m2 2h1m-25 1h1m0 1h1m0 0h1m21 0h1m-23 1h1m1 1h1m0 0h1m13 0h1m1 0h1m-11 1h1m2 0h1"/><path stroke="#97ff4a" d="M47 172h1m0 0h1m12 0h1m1 1h1m0 0h1m-23 1h1m23 0h1m-25 1h1m1 2h1m2 1h1m0 0h1m12 0h1"/><path stroke="#9fff36" d="M58 172h1m0 0h1m0 0h1m-17 1h1m0 0h1m-3 1h1m20 0h1m0 1h1m-2 1h1m-2 1h1m-15 1h1m9 0h1"/><path stroke="#acff2b" d="M49 172h1m0 0h1m11 1h1m-19 1h1m-2 1h1m0 0h1m19 0h1m-20 2h1m0 0h1m0 0h1m13 0h1m-12 1h1m0 0h1m0 0h1m1 0h1m0 0h1m1 0h1m0 0h1"/><path stroke="#bbff21" d="M51 172h1m1 0h1m0 0h1m0 0h1m0 0h1m0 0h1m3 1h1m-18 3h1m3 1h1m13 0h1m-10 1h1m2 0h1"/><path stroke="#c9ff18" d="M52 172h1m-7 1h1m0 0h1m11 0h1m0 0h1m2 1h1m-19 2h1m16 0h1m0 0h1"/><path stroke="#d8ff0f" d="M49 173h1m0 0h1m-6 1h1m-1 1h1m16 0h1m0 0h1m-18 1h1m0 0h1m12 0h1m-12 1h1"/><path stroke="#e7ff06" d="M48 173h1m2 0h1m6 0h1m-13 1h1m0 0h1m2 0h1m9 0h1m0 0h1m0 0h1m-17 1h1m14 0h1m-1 1h1m-12 1h1m0 0h1m0 0h1m5 0h1m0 0h1m0 0h1"/><path stroke="#f3ed00" d="M52 173h1m3 0h1m0 0h1m-9 1h1m-2 2h1m5 1h1m0 0h1m0 0h1m0 0h1"/><path stroke="#fac100" d="M53 173h1m0 0h1m0 0h1m-8 1h1m10 0h1m-13 1h1m1 0h1m10 0h1"/><path stroke="#fd8f00" d="M58 174h1m-11 1h1m1 0h1m-2 1h1m0 0h1m0 0h1m6 0h1m0 0h1m-7 1h1"/><path stroke="#f54b00" d="M51 174h1m1 0h1m-3 1h1m7 0h1m-8 1h1m0 0h1m1 0h1m0 0h1"/><path stroke="#eb1600" d="M52 174h1m1 0h1m0 0h1m-3 1h1m0 0h1m3 0h1m-5 1h1m2 0h1"/><path stroke="#dc0000" d="M56 174h1m0 0h1m-6 1h1m2 0h1m0 0h1m0 0h1"/></g><line x1="238.8" y1="1050.8" x2="238.8" y2="1395.8" stroke="#000" stroke-width="2.1"/><line x1="104.5" y1="1258" x2="450.1" y2="1258" stroke="#000" stroke-width="2.1"/><rect x="104.5" y="1050.8" width="345.6" height="345" fill="none" stroke="#000" stroke-width="1.55"/><path d="M125.3 1395.8v9.2M238.6 1395.8v9.2M332.9 1395.8v9.2M415.3 1395.8v9.2M128.9 1395.8v5.6M133.7 1395.8v5.6M138.6 1395.8v5.6M144.4 1395.8v5.6M150.2 1395.8v5.6M156.2 1395.8v5.6M161.5 1395.8v5.6M166.3 1395.8v5.6M170.5 1395.8v5.6M195 1395.8v5.6M201.6 1395.8v5.6M208.1 1395.8v5.6M213.9 1395.8v5.6M219.7 1395.8v5.6M224.5 1395.8v5.6M229.3 1395.8v5.6M233.8 1395.8v5.6M269.2 1395.8v5.6M286.6 1395.8v5.6M298.8 1395.8v5.6M308 1395.8v5.6M314.8 1395.8v5.6M320.3 1395.8v5.6M325.7 1395.8v5.6M329.8 1395.8v5.6M358.5 1395.8v5.6M373.1 1395.8v5.6M383.2 1395.8v5.6M391.1 1395.8v5.6M397.5 1395.8v5.6M402.9 1395.8v5.6M407.7 1395.8v5.6M411.8 1395.8v5.6M439.1 1395.8v5.6" stroke="#000" stroke-width="1.4" fill="none"/><path d="M125.3 1395.8v9.2M238.6 1395.8v9.2M332.9 1395.8v9.2M415.3 1395.8v9.2" stroke="#000" stroke-width="2" fill="none"/><rect x="174.1" y="1395.8" width="16" height="5.2" fill="#000"/><line x1="175.4" y1="1395.8" x2="175.4" y2="1405" stroke="#000" stroke-width="1.8"/><line x1="182.2" y1="1395.8" x2="182.2" y2="1405" stroke="#000" stroke-width="3.2"/><line x1="189" y1="1395.8" x2="189" y2="1405" stroke="#000" stroke-width="1.8"/><path d="M104.5 1369.3h-5M104.5 1365.7h-5M104.5 1360.1h-5M104.5 1354.5h-5M104.5 1348.9h-5M104.5 1343.3h-5M104.5 1337.7h-5M104.5 1332.7h-5M104.5 1327.1h-5M104.5 1304.2h-5M104.5 1298.1h-5M104.5 1292h-5M104.5 1285.9h-5M104.5 1280.3h-5M104.5 1274.7h-5M104.5 1269.1h-5M104.5 1263.5h-5M104.5 1229.6h-5M104.5 1212.2h-5M104.5 1200h-5M104.5 1190.8h-5M104.5 1184h-5M104.5 1178.5h-5M104.5 1173.1h-5M104.5 1169h-5M104.5 1139.7h-5M104.5 1125.1h-5M104.5 1115h-5M104.5 1107.1h-5M104.5 1100.7h-5M104.5 1095.3h-5M104.5 1090.5h-5M104.5 1086.4h-5M104.5 1058.7h-5" stroke="#000" stroke-width="1.4" fill="none"/><path d="M104.5 1373.8h-9.4M104.5 1260.2h-9.4M104.5 1165.3h-9.4M104.5 1082.5h-9.4" stroke="#000" stroke-width="2" fill="none"/><rect x="99.3" y="1308.8" width="5.2" height="15.2" fill="#000"/><line x1="104.5" y1="1322.7" x2="95.1" y2="1322.7" stroke="#000" stroke-width="1.8"/><line x1="104.5" y1="1316.4" x2="95.1" y2="1316.4" stroke="#000" stroke-width="3.2"/><line x1="104.5" y1="1310.1" x2="95.1" y2="1310.1" stroke="#000" stroke-width="1.8"/><text transform="translate(121.26,1425.4)" font-size="12.8" fill="#1c1c1c" stroke="#1c1c1c" stroke-width="0.2">−10</text><text transform="translate(144.13,1417.1)" font-size="12.8" fill="#1c1c1c" stroke="#1c1c1c" stroke-width="0.2">3</text><text transform="translate(185.25,1425.4)" font-size="12.8" fill="#1c1c1c" stroke="#1c1c1c" stroke-width="0.2">0</text><text transform="translate(238.04,1425.4)" font-size="12.8" fill="#1c1c1c" stroke="#1c1c1c" stroke-width="0.2">10</text><text transform="translate(253.42,1417.1)" font-size="12.8" fill="#1c1c1c" stroke="#1c1c1c" stroke-width="0.2">3</text><text transform="translate(332.24,1425.4)" font-size="12.8" fill="#1c1c1c" stroke="#1c1c1c" stroke-width="0.2">10</text><text transform="translate(347.82,1417.1)" font-size="12.8" fill="#1c1c1c" stroke="#1c1c1c" stroke-width="0.2">4</text><text transform="translate(414.84,1425.4)" font-size="12.8" fill="#1c1c1c" stroke="#1c1c1c" stroke-width="0.2">10</text><text transform="translate(430.22,1417.1)" font-size="12.8" fill="#1c1c1c" stroke="#1c1c1c" stroke-width="0.2">5</text><text transform="translate(66.4,1091.4)" font-size="12.8" fill="#1c1c1c" stroke="#1c1c1c" stroke-width="0.2">10</text><text transform="translate(81.59,1083)" font-size="12.8" fill="#1c1c1c" stroke="#1c1c1c" stroke-width="0.2">5</text><text transform="translate(66.4,1173.2)" font-size="12.8" fill="#1c1c1c" stroke="#1c1c1c" stroke-width="0.2">10</text><text transform="translate(81.78,1164.8)" font-size="12.8" fill="#1c1c1c" stroke="#1c1c1c" stroke-width="0.2">4</text><text transform="translate(66.4,1267.2)" font-size="12.8" fill="#1c1c1c" stroke="#1c1c1c" stroke-width="0.2">10</text><text transform="translate(81.59,1258.8)" font-size="12.8" fill="#1c1c1c" stroke="#1c1c1c" stroke-width="0.2">3</text><text transform="translate(73.31,1320.22)" font-size="12.8" fill="#1c1c1c" stroke="#1c1c1c" stroke-width="0.2">0</text><text transform="translate(58.92,1381)" font-size="12.8" fill="#1c1c1c" stroke="#1c1c1c" stroke-width="0.2">−10</text><text transform="translate(81.59,1372.6)" font-size="12.8" fill="#1c1c1c" stroke="#1c1c1c" stroke-width="0.2">3</text><text transform="translate(110.39,1076.2)" font-size="15.8" fill="#1c1c1c" stroke="#1c1c1c" stroke-width="0.2">Q1</text><text transform="translate(110.77,1095.2)" font-size="15.8" fill="#1c1c1c" stroke="#1c1c1c" stroke-width="0.2">0</text><text transform="translate(399.5,1076.2)" font-size="15.8" fill="#1c1c1c" stroke="#1c1c1c" stroke-width="0.2">Q2</text><text transform="translate(380.93,1095.2)" font-size="15.8" fill="#1c1c1c" stroke="#1c1c1c" stroke-width="0.2">0.025</text><text transform="translate(110.39,1360.3)" font-size="15.8" fill="#1c1c1c" stroke="#1c1c1c" stroke-width="0.2">Q4</text><text transform="translate(110.69,1378.9)" font-size="15.8" fill="#1c1c1c" stroke="#1c1c1c" stroke-width="0.2">99.2</text><text transform="translate(399.42,1360.3)" font-size="15.8" fill="#1c1c1c" stroke="#1c1c1c" stroke-width="0.2">Q3</text><text transform="translate(389.7,1378.9)" font-size="15.8" fill="#1c1c1c" stroke="#1c1c1c" stroke-width="0.2">0.78</text><text transform="translate(225.34,1456.4) scale(1.0426,1.0000)" font-size="14.5" fill="#1c1c1c" stroke="#1c1c1c" stroke-width="0.2">Comp–FITC–A</text><text transform="translate(34.1,1221.9) rotate(-90) translate(-82.66,0) scale(1.0474,1)" font-size="14.5" fill="#1c1c1c" stroke="#1c1c1c" stroke-width="0.2">Comp–PerCP–Cy5–5–A</text><g transform="translate(606.2 1051.55) scale(1.5)" fill="none" stroke-width="1"><path stroke="#0000ff" d="M229 35h1m-1 12h1m-1 31h1m-1 23h1m-178 39h1m86 2h1m-82 2h1m-9 3h1m5 6h1m-9 1h1m4 0h1m4 0h1m-5 2h1m-7 1h1m-3 1h1m8 0h1m25 1h1m-31 1h1m0 0h1m2 0h1m1 0h1m1 1h1m2 0h1m5 0h1m109 0h1m-137 1h1m8 0h1m33 0h1m-39 1h1m3 0h1m0 0h1m0 0h1m2 0h1m2 0h1m0 0h1m7 0h1m102 0h1m-127 1h1m1 0h1m0 0h1m1 0h1m2 0h1m1 0h1m0 0h1m-15 1h1m2 0h1m5 0h1m2 0h1m2 0h1m0 0h1m4 0h1m2 0h1m0 0h1m-26 1h1m1 0h1m0 0h1m2 0h1m3 0h1m8 0h1m0 0h1m0 0h1m0 0h1m2 0h1m0 0h1m0 0h1m8 0h1m-42 1h1m4 0h1m1 0h1m1 0h1m2 0h1m23 0h1m-33 1h1m2 0h1m0 0h1m21 0h1m2 0h1m2 0h1m1 0h1m101 0h1m6 0h1m-152 1h1m37 0h1m3 0h1m0 0h1m50 0h1m35 0h1m33 0h1m-163 1h1m3 0h1m0 0h1m33 0h1m112 0h1m5 0h1m3 0h1m-160 1h1m0 0h1m3 0h1m79 0h1m26 0h1m26 0h1m-143 1h1m1 0h1m1 0h1m2 0h1m29 0h1m0 0h1m1 0h1m31 0h1m5 0h1m2 0h1m13 0h1m7 0h1m7 0h1m7 0h1m21 0h1m-140 1h1m0 0h1m0 0h1m33 0h1m2 0h1m15 0h1m0 0h1m11 0h1m3 0h1m20 0h1m23 0h1m12 0h1m14 0h1m-145 1h1m1 0h1m0 0h1m0 0h1m0 0h1m29 0h1m0 0h1m1 0h1m0 0h1m1 0h1m8 0h1m3 0h1m4 0h1m12 0h1m6 0h1m3 0h1m1 0h1m1 0h1m24 0h1m9 0h1m6 0h1m-130 1h1m1 0h1m2 0h1m29 0h1m0 0h1m0 0h1m2 0h1m0 0h1m9 0h1m19 0h1m0 0h1m14 0h1m11 0h1m29 0h1m-132 1h1m2 0h1m0 0h1m0 0h1m34 0h1m1 0h1m-46 1h1m6 0h1m29 0h1m5 0h1m10 0h1m25 0h1m4 0h1m-77 1h1m28 0h1m0 0h1m1 0h1m-35 1h1m3 0h1m24 0h1m-3 2h1"/><path stroke="#0009ff" d="M229 70h1m-9 52h1m-5 5h1m-156 19h1m122 9h1m-7 5h1m-132 1h1m12 2h1m5 0h1m-10 1h1m-9 1h1m1 0h1m2 0h1m3 0h1m0 0h1m9 0h1m-24 1h1m1 0h1m1 0h1m2 0h1m5 0h1m4 0h1m0 0h1m-28 1h1m5 0h1m2 0h1m18 0h1m0 0h1m0 0h1m0 0h1m0 0h1m127 0h1m-154 1h1m21 0h1m2 0h1m0 0h1m128 0h1m-157 1h1m26 0h1m0 0h1m99 0h1m19 0h1m8 0h1m-161 1h1m0 0h1m27 0h1m-32 1h1m1 0h1m27 0h1m1 0h1m1 0h1m1 0h1m84 0h1m-88 1h1m-35 1h1m0 0h1m1 0h1m27 0h1m32 0h1m57 0h1m20 0h1m-147 1h1m37 0h1m40 0h1m18 0h1m15 0h1m-113 1h1m2 0h1m27 0h1m20 0h1m59 0h1m-110 1h1m27 0h1m0 0h1m0 0h1m0 0h1m22 0h1m-55 1h1m30 0h1m9 0h1m-43 1h1m2 0h1m23 0h1m0 0h1m-28 1h1m0 0h1m2 0h1m0 0h1m17 0h1m0 0h1m0 0h1m-28 1h1m6 0h1m7 0h1m0 0h1"/><path stroke="#0013ff" d="M51 164h1m4 1h1m4 0h1m-12 1h1m2 0h1m1 0h1m0 0h1m0 0h1m0 0h1m0 0h1m-13 1h1m3 0h1m0 0h1m7 0h1m0 0h1m2 0h1m0 0h1m-19 1h1m1 0h1m16 0h1m2 0h1m-27 1h1m0 0h1m1 0h1m18 0h1m0 0h1m1 0h1m0 0h1m0 0h1m-27 1h1m23 0h1m0 0h1m0 0h1m1 0h1m-4 1h1m1 0h1m-29 1h1m0 0h1m24 0h1m1 0h1m4 0h1m-35 1h1m27 0h1m1 0h1m-2 1h1m23 0h1m-27 1h1m1 0h1m0 0h1m-30 1h1m-1 1h1m0 0h1m26 0h1m-29 1h1m1 0h1m19 0h1m0 0h1m0 0h1m-15 2h1"/><path stroke="#002bff" d="M50 167h1m4 0h1m2 0h1m0 0h1m2 0h1m0 0h1m2 0h1m-19 1h1m1 0h1m12 0h1m0 0h1m0 0h1m-19 1h1m19 0h1m-23 1h1m-2 1h1m0 0h1m21 0h1m0 0h1m1 1h1m-27 1h1m23 0h1m0 0h1m-26 1h1m24 0h1m0 0h1m-27 2h1m23 0h1m-24 1h1m20 0h1m1 0h1m0 0h1m-24 1h1m1 1h1m13 0h1m0 0h1m0 0h1"/><path stroke="#0047ff" d="M53 167h1m0 0h1m2 0h1m4 1h1m-15 1h1m14 0h1m0 0h1m-19 1h1m19 0h1m0 0h1m-23 2h1m22 0h1m-2 2h1m-24 1h1m22 0h1m0 0h1m-24 1h1m20 0h1m0 0h1m1 0h1m-3 1h1m-5 1h1m0 0h1m-15 1h1m10 0h1"/><path stroke="#0063ff" d="M56 167h1m-6 1h1m0 0h1m0 0h1m6 0h1m0 0h1m-13 1h1m14 1h1m0 0h1m-20 1h1m19 0h1m-22 2h1m22 1h1m-24 1h1m0 1h1m18 0h1m-20 1h1m18 0h1m-19 1h1m0 0h1m2 1h1m6 0h1m0 0h1m0 0h1"/><path stroke="#1486ff" d="M54 168h1m0 0h1m1 0h1m0 0h1m3 1h1m-16 1h1m0 0h1m0 0h1m16 2h1m0 0h1m-2 1h1m0 0h1m-23 1h1m0 0h1m19 1h1m-3 2h1m-10 2h1m0 0h1m0 0h1"/><path stroke="#36aeff" d="M56 168h1m2 0h1m-10 1h1m0 0h1m9 0h1m0 1h1m0 0h1m-17 1h1m17 0h1m-20 1h1m0 0h1m17 0h1m-20 1h1m19 1h1m-3 2h1m-18 1h1m15 0h1m-15 1h1m12 0h1m-10 1h1"/><path stroke="#58d6ff" d="M60 169h1m-13 2h1m15 0h1m-1 1h1m0 1h1m-1 1h1m-20 1h1m1 2h1m12 1h1m-10 1h1m1 0h1"/><path stroke="#70f2f2" d="M52 169h1m5 0h1m-9 1h1m12 1h1m-17 2h1m-1 2h1m17 0h1m-19 1h1m15 0h1"/><path stroke="#76f6cf" d="M53 169h1m0 0h1m0 0h1m3 0h1m0 1h1m0 0h1m-13 1h1m13 1h1m0 1h1m-1 1h1m-1 1h1m-17 1h1m0 1h1m12 0h1m-13 1h1m9 0h1"/><path stroke="#7bfaab" d="M57 169h1m-7 1h1m10 1h1m-15 1h1m-2 2h1m15 1h1m-5 3h1"/><path stroke="#81fe87" d="M56 169h1m-5 1h1m0 0h1m4 0h1m0 0h1m-12 5h1m0 1h1m12 0h1m-2 1h1m-11 1h1m6 0h1"/><path stroke="#88ff71" d="M54 170h1m0 0h1m1 0h1m-8 1h1m10 0h1m0 1h1m-15 1h1m-1 1h1m3 4h1m4 0h1"/><path stroke="#90ff5d" d="M49 172h1m-1 1h1m13 0h1m-1 1h1m-3 2h1m-12 1h1m9 0h1m-8 1h1m1 0h1m0 0h1"/><path stroke="#97ff4a" d="M56 170h1m-6 1h1m0 0h1m6 0h1m0 0h1m-11 1h1m10 0h1m0 1h1m-14 2h1m12 0h1m-13 1h1m3 2h1"/><path stroke="#9fff36" d="M49 174h1m1 3h1"/><path stroke="#acff2b" d="M53 171h1m2 0h1m3 1h1m0 1h1m0 1h1m-2 1h1m-3 2h1"/><path stroke="#bbff21" d="M54 171h1m3 0h1m-9 2h1m10 1h1"/><path stroke="#c9ff18" d="M55 171h1m1 0h1m-7 1h1m7 0h1m-10 3h1m9 0h1m-1 1h1m-9 1h1m4 0h1m0 0h1"/><path stroke="#d8ff0f" d="M52 172h1m7 1h1m-11 1h1m9 0h1m-10 2h1m7 0h1m-7 1h1m2 0h1"/><path stroke="#e7ff06" d="M54 177h1m0 0h1"/><path stroke="#f3ed00" d="M53 172h1m0 0h1m0 0h1m0 0h1m1 0h1m-8 2h1m-1 1h1m0 1h1"/><path stroke="#fac100" d="M57 172h1m-7 1h1m7 0h1m-1 1h1m-1 1h1m-7 1h1m2 0h1m0 0h1m0 0h1"/><path stroke="#fd8f00" d="M52 173h1m5 0h1m-1 2h1"/><path stroke="#f54b00" d="M53 173h1m-2 2h1m4 0h1m-4 1h1m0 0h1"/><path stroke="#eb1600" d="M54 173h1m0 0h1m0 0h1m0 0h1m-6 1h1m1 0h1m-2 1h1m1 0h1m0 0h1"/><path stroke="#dc0000" d="M53 174h1m1 0h1m0 0h1m0 0h1m0 0h1m-5 1h1"/></g><line x1="740.3" y1="1050.8" x2="740.3" y2="1395.8" stroke="#000" stroke-width="2.1"/><line x1="606.2" y1="1258" x2="951.7" y2="1258" stroke="#000" stroke-width="2.1"/><rect x="606.2" y="1050.8" width="345.5" height="345" fill="none" stroke="#000" stroke-width="1.55"/><path d="M627 1395.8v9.2M740.3 1395.8v9.2M834.6 1395.8v9.2M917 1395.8v9.2M630.6 1395.8v5.6M635.4 1395.8v5.6M640.3 1395.8v5.6M646.1 1395.8v5.6M651.9 1395.8v5.6M657.9 1395.8v5.6M663.2 1395.8v5.6M668 1395.8v5.6M672.2 1395.8v5.6M696.7 1395.8v5.6M703.3 1395.8v5.6M709.8 1395.8v5.6M715.6 1395.8v5.6M721.4 1395.8v5.6M726.2 1395.8v5.6M731 1395.8v5.6M735.5 1395.8v5.6M770.9 1395.8v5.6M788.3 1395.8v5.6M800.5 1395.8v5.6M809.7 1395.8v5.6M816.5 1395.8v5.6M822 1395.8v5.6M827.4 1395.8v5.6M831.5 1395.8v5.6M860.2 1395.8v5.6M874.8 1395.8v5.6M884.9 1395.8v5.6M892.8 1395.8v5.6M899.2 1395.8v5.6M904.6 1395.8v5.6M909.4 1395.8v5.6M913.5 1395.8v5.6M940.8 1395.8v5.6" stroke="#000" stroke-width="1.4" fill="none"/><path d="M627 1395.8v9.2M740.3 1395.8v9.2M834.6 1395.8v9.2M917 1395.8v9.2" stroke="#000" stroke-width="2" fill="none"/><rect x="675.8" y="1395.8" width="16" height="5.2" fill="#000"/><line x1="677.1" y1="1395.8" x2="677.1" y2="1405" stroke="#000" stroke-width="1.8"/><line x1="683.9" y1="1395.8" x2="683.9" y2="1405" stroke="#000" stroke-width="3.2"/><line x1="690.7" y1="1395.8" x2="690.7" y2="1405" stroke="#000" stroke-width="1.8"/><path d="M606.2 1369.3h-5M606.2 1365.7h-5M606.2 1360.1h-5M606.2 1354.5h-5M606.2 1348.9h-5M606.2 1343.3h-5M606.2 1337.7h-5M606.2 1332.7h-5M606.2 1327.1h-5M606.2 1304.2h-5M606.2 1298.1h-5M606.2 1292h-5M606.2 1285.9h-5M606.2 1280.3h-5M606.2 1274.7h-5M606.2 1269.1h-5M606.2 1263.5h-5M606.2 1229.6h-5M606.2 1212.2h-5M606.2 1200h-5M606.2 1190.8h-5M606.2 1184h-5M606.2 1178.5h-5M606.2 1173.1h-5M606.2 1169h-5M606.2 1139.7h-5M606.2 1125.1h-5M606.2 1115h-5M606.2 1107.1h-5M606.2 1100.7h-5M606.2 1095.3h-5M606.2 1090.5h-5M606.2 1086.4h-5M606.2 1058.7h-5" stroke="#000" stroke-width="1.4" fill="none"/><path d="M606.2 1373.8h-9.4M606.2 1260.2h-9.4M606.2 1165.3h-9.4M606.2 1082.5h-9.4" stroke="#000" stroke-width="2" fill="none"/><rect x="601" y="1308.8" width="5.2" height="15.2" fill="#000"/><line x1="606.2" y1="1322.7" x2="596.8" y2="1322.7" stroke="#000" stroke-width="1.8"/><line x1="606.2" y1="1316.4" x2="596.8" y2="1316.4" stroke="#000" stroke-width="3.2"/><line x1="606.2" y1="1310.1" x2="596.8" y2="1310.1" stroke="#000" stroke-width="1.8"/><text transform="translate(622.96,1425.4)" font-size="12.8" fill="#1c1c1c" stroke="#1c1c1c" stroke-width="0.2">−10</text><text transform="translate(645.83,1417.1)" font-size="12.8" fill="#1c1c1c" stroke="#1c1c1c" stroke-width="0.2">3</text><text transform="translate(686.95,1425.4)" font-size="12.8" fill="#1c1c1c" stroke="#1c1c1c" stroke-width="0.2">0</text><text transform="translate(739.74,1425.4)" font-size="12.8" fill="#1c1c1c" stroke="#1c1c1c" stroke-width="0.2">10</text><text transform="translate(755.12,1417.1)" font-size="12.8" fill="#1c1c1c" stroke="#1c1c1c" stroke-width="0.2">3</text><text transform="translate(833.94,1425.4)" font-size="12.8" fill="#1c1c1c" stroke="#1c1c1c" stroke-width="0.2">10</text><text transform="translate(849.52,1417.1)" font-size="12.8" fill="#1c1c1c" stroke="#1c1c1c" stroke-width="0.2">4</text><text transform="translate(916.54,1425.4)" font-size="12.8" fill="#1c1c1c" stroke="#1c1c1c" stroke-width="0.2">10</text><text transform="translate(931.92,1417.1)" font-size="12.8" fill="#1c1c1c" stroke="#1c1c1c" stroke-width="0.2">5</text><text transform="translate(568.1,1091.4)" font-size="12.8" fill="#1c1c1c" stroke="#1c1c1c" stroke-width="0.2">10</text><text transform="translate(583.29,1083)" font-size="12.8" fill="#1c1c1c" stroke="#1c1c1c" stroke-width="0.2">5</text><text transform="translate(568.1,1173.2)" font-size="12.8" fill="#1c1c1c" stroke="#1c1c1c" stroke-width="0.2">10</text><text transform="translate(583.48,1164.8)" font-size="12.8" fill="#1c1c1c" stroke="#1c1c1c" stroke-width="0.2">4</text><text transform="translate(568.1,1267.2)" font-size="12.8" fill="#1c1c1c" stroke="#1c1c1c" stroke-width="0.2">10</text><text transform="translate(583.29,1258.8)" font-size="12.8" fill="#1c1c1c" stroke="#1c1c1c" stroke-width="0.2">3</text><text transform="translate(575.01,1320.22)" font-size="12.8" fill="#1c1c1c" stroke="#1c1c1c" stroke-width="0.2">0</text><text transform="translate(560.62,1381)" font-size="12.8" fill="#1c1c1c" stroke="#1c1c1c" stroke-width="0.2">−10</text><text transform="translate(583.29,1372.6)" font-size="12.8" fill="#1c1c1c" stroke="#1c1c1c" stroke-width="0.2">3</text><text transform="translate(612.09,1076.2)" font-size="15.8" fill="#1c1c1c" stroke="#1c1c1c" stroke-width="0.2">Q1</text><text transform="translate(612.47,1095.2)" font-size="15.8" fill="#1c1c1c" stroke="#1c1c1c" stroke-width="0.2">0</text><text transform="translate(901.1,1076.2)" font-size="15.8" fill="#1c1c1c" stroke="#1c1c1c" stroke-width="0.2">Q2</text><text transform="translate(882.37,1095.2)" font-size="15.8" fill="#1c1c1c" stroke="#1c1c1c" stroke-width="0.2">0.014</text><text transform="translate(612.09,1360.3)" font-size="15.8" fill="#1c1c1c" stroke="#1c1c1c" stroke-width="0.2">Q4</text><text transform="translate(612.39,1378.9)" font-size="15.8" fill="#1c1c1c" stroke="#1c1c1c" stroke-width="0.2">99.9</text><text transform="translate(901.02,1360.3)" font-size="15.8" fill="#1c1c1c" stroke="#1c1c1c" stroke-width="0.2">Q3</text><text transform="translate(891.3,1378.9)" font-size="15.8" fill="#1c1c1c" stroke="#1c1c1c" stroke-width="0.2">0.10</text><text transform="translate(727.44,1456.4) scale(1.0426,1.0000)" font-size="14.5" fill="#1c1c1c" stroke="#1c1c1c" stroke-width="0.2">Comp–FITC–A</text><text transform="translate(535.8,1221.9) rotate(-90) translate(-82.66,0) scale(1.0474,1)" font-size="14.5" fill="#1c1c1c" stroke="#1c1c1c" stroke-width="0.2">Comp–PerCP–Cy5–5–A</text><path d="M180.3 884.6 L180.5 884.2 L181.7 877 L182.9 865 L184 829 L185.5 780.7 L187 708.5 L188.4 612.2 L189.4 578 L190.2 562 L190.8 558 L191.6 561 L192.6 575 L193.6 595 L194.4 612.2 L195.7 660 L197.3 708.5 L199.7 780.7 L202.8 828.8 L204 850 L205.2 864.9 L207 873 L209.3 877 L212 879.5 L216 881 L225 882.2 L240 882 L255 882.3 L262 881.5 L268 882.3 L273 883.2 L275 884.6Z" fill="#999" stroke="#000" stroke-width="1.7" stroke-linejoin="round"/><rect x="109.8" y="540" width="345.5" height="344.6" fill="none" stroke="#000" stroke-width="1.4"/><path d="M130.6 884.6v9.2M243.9 884.6v9.2M338.2 884.6v9.2M420.6 884.6v9.2M134.2 884.6v5.6M139 884.6v5.6M143.9 884.6v5.6M149.7 884.6v5.6M155.5 884.6v5.6M161.5 884.6v5.6M166.8 884.6v5.6M171.6 884.6v5.6M175.8 884.6v5.6M200.3 884.6v5.6M206.9 884.6v5.6M213.4 884.6v5.6M219.2 884.6v5.6M225 884.6v5.6M229.8 884.6v5.6M234.6 884.6v5.6M239.1 884.6v5.6M274.5 884.6v5.6M291.9 884.6v5.6M304.1 884.6v5.6M313.3 884.6v5.6M320.1 884.6v5.6M325.6 884.6v5.6M331 884.6v5.6M335.1 884.6v5.6M363.8 884.6v5.6M378.4 884.6v5.6M388.5 884.6v5.6M396.4 884.6v5.6M402.8 884.6v5.6M408.2 884.6v5.6M413 884.6v5.6M417.1 884.6v5.6M444.4 884.6v5.6" stroke="#000" stroke-width="1.4" fill="none"/><path d="M130.6 884.6v9.2M243.9 884.6v9.2M338.2 884.6v9.2M420.6 884.6v9.2" stroke="#000" stroke-width="2" fill="none"/><rect x="179.4" y="884.6" width="16" height="5.2" fill="#000"/><line x1="180.7" y1="884.6" x2="180.7" y2="893.8" stroke="#000" stroke-width="1.8"/><line x1="187.5" y1="884.6" x2="187.5" y2="893.8" stroke="#000" stroke-width="3.2"/><line x1="194.3" y1="884.6" x2="194.3" y2="893.8" stroke="#000" stroke-width="1.8"/><text transform="translate(126.56,914.2)" font-size="12.8" fill="#1c1c1c" stroke="#1c1c1c" stroke-width="0.2">−10</text><text transform="translate(149.43,905.9)" font-size="12.8" fill="#1c1c1c" stroke="#1c1c1c" stroke-width="0.2">3</text><text transform="translate(190.55,914.2)" font-size="12.8" fill="#1c1c1c" stroke="#1c1c1c" stroke-width="0.2">0</text><text transform="translate(243.34,914.2)" font-size="12.8" fill="#1c1c1c" stroke="#1c1c1c" stroke-width="0.2">10</text><text transform="translate(258.72,905.9)" font-size="12.8" fill="#1c1c1c" stroke="#1c1c1c" stroke-width="0.2">3</text><text transform="translate(337.54,914.2)" font-size="12.8" fill="#1c1c1c" stroke="#1c1c1c" stroke-width="0.2">10</text><text transform="translate(353.12,905.9)" font-size="12.8" fill="#1c1c1c" stroke="#1c1c1c" stroke-width="0.2">4</text><text transform="translate(420.14,914.2)" font-size="12.8" fill="#1c1c1c" stroke="#1c1c1c" stroke-width="0.2">10</text><text transform="translate(435.52,905.9)" font-size="12.8" fill="#1c1c1c" stroke="#1c1c1c" stroke-width="0.2">5</text><path d="M109.8 854.6h-4.4M109.8 826.2h-4.4M109.8 797.8h-4.4M109.8 741h-4.4M109.8 712.6h-4.4M109.8 684.2h-4.4M109.8 627.4h-4.4M109.8 599h-4.4M109.8 570.6h-4.4" stroke="#000" stroke-width="1.3" fill="none"/><path d="M109.8 883h-9.9M109.8 769.4h-9.9M109.8 655.8h-9.9M109.8 542.2h-9.9" stroke="#000" stroke-width="2" fill="none"/><text transform="translate(87.12,883.51)" font-size="12.2" fill="#1c1c1c" stroke="#1c1c1c" stroke-width="0.2">0</text><text transform="translate(68.25,775.61)" font-size="12.2" fill="#1c1c1c" stroke="#1c1c1c" stroke-width="0.2">2.0K</text><text transform="translate(68.25,662.01)" font-size="12.2" fill="#1c1c1c" stroke="#1c1c1c" stroke-width="0.2">4.0K</text><text transform="translate(68.25,551.71)" font-size="12.2" fill="#1c1c1c" stroke="#1c1c1c" stroke-width="0.2">6.0K</text><line x1="219.8" y1="678.5" x2="421.1" y2="678.5" stroke="#000" stroke-width="2.4"/><line x1="219.8" y1="671.5" x2="219.8" y2="685.5" stroke="#000" stroke-width="2.2"/><line x1="421.1" y1="671.5" x2="421.1" y2="685.5" stroke="#000" stroke-width="2.2"/><text transform="translate(307.61,641.1) scale(1.0500,1.0000)" font-size="15" fill="#1c1c1c" stroke="#1c1c1c" stroke-width="0.2">Ret</text><text transform="translate(304.59,660.1) scale(1.0957,1.0000)" font-size="15" fill="#1c1c1c" stroke="#1c1c1c" stroke-width="0.2">4.15</text><text transform="translate(255.65,945.2) scale(1.0309,1.0000)" font-size="14.5" fill="#1c1c1c" stroke="#1c1c1c" stroke-width="0.2">FITC–A</text><text transform="translate(34.2,710.9) rotate(-90) translate(-22.22,0) scale(1.1309,1)" font-size="14.5" fill="#1c1c1c" stroke="#1c1c1c" stroke-width="0.2">Count</text><path d="M682.2 884.6 L682.4 884.2 L683.6 877 L684.8 865 L685.9 829 L687.4 780.7 L688.9 708.5 L690.3 612.2 L691.3 578 L692.1 562 L692.7 558 L693.5 561 L694.5 575 L695.5 595 L696.3 612.2 L697.6 660 L699.2 708.5 L701.6 780.7 L704.7 828.8 L705.9 850 L707.5 868 L710 877.5 L714 880.5 L725 881.4 L740 881.6 L757 881 L765 880 L775 879.5 L785 880 L789 880.5 L795 883 L800 884.6Z" fill="#999" stroke="#000" stroke-width="1.7" stroke-linejoin="round"/><rect x="611.4" y="540.2" width="345.9" height="344.4" fill="none" stroke="#000" stroke-width="1.4"/><path d="M632.2 884.6v9.2M745.5 884.6v9.2M839.8 884.6v9.2M922.2 884.6v9.2M635.8 884.6v5.6M640.6 884.6v5.6M645.5 884.6v5.6M651.3 884.6v5.6M657.1 884.6v5.6M663.1 884.6v5.6M668.4 884.6v5.6M673.2 884.6v5.6M677.4 884.6v5.6M701.9 884.6v5.6M708.5 884.6v5.6M715 884.6v5.6M720.8 884.6v5.6M726.6 884.6v5.6M731.4 884.6v5.6M736.2 884.6v5.6M740.7 884.6v5.6M776.1 884.6v5.6M793.5 884.6v5.6M805.7 884.6v5.6M814.9 884.6v5.6M821.7 884.6v5.6M827.2 884.6v5.6M832.6 884.6v5.6M836.7 884.6v5.6M865.4 884.6v5.6M880 884.6v5.6M890.1 884.6v5.6M898 884.6v5.6M904.4 884.6v5.6M909.8 884.6v5.6M914.6 884.6v5.6M918.7 884.6v5.6M946 884.6v5.6" stroke="#000" stroke-width="1.4" fill="none"/><path d="M632.2 884.6v9.2M745.5 884.6v9.2M839.8 884.6v9.2M922.2 884.6v9.2" stroke="#000" stroke-width="2" fill="none"/><rect x="681" y="884.6" width="16" height="5.2" fill="#000"/><line x1="682.3" y1="884.6" x2="682.3" y2="893.8" stroke="#000" stroke-width="1.8"/><line x1="689.1" y1="884.6" x2="689.1" y2="893.8" stroke="#000" stroke-width="3.2"/><line x1="695.9" y1="884.6" x2="695.9" y2="893.8" stroke="#000" stroke-width="1.8"/><text transform="translate(628.16,914.2)" font-size="12.8" fill="#1c1c1c" stroke="#1c1c1c" stroke-width="0.2">−10</text><text transform="translate(651.03,905.9)" font-size="12.8" fill="#1c1c1c" stroke="#1c1c1c" stroke-width="0.2">3</text><text transform="translate(692.15,914.2)" font-size="12.8" fill="#1c1c1c" stroke="#1c1c1c" stroke-width="0.2">0</text><text transform="translate(744.94,914.2)" font-size="12.8" fill="#1c1c1c" stroke="#1c1c1c" stroke-width="0.2">10</text><text transform="translate(760.32,905.9)" font-size="12.8" fill="#1c1c1c" stroke="#1c1c1c" stroke-width="0.2">3</text><text transform="translate(839.14,914.2)" font-size="12.8" fill="#1c1c1c" stroke="#1c1c1c" stroke-width="0.2">10</text><text transform="translate(854.72,905.9)" font-size="12.8" fill="#1c1c1c" stroke="#1c1c1c" stroke-width="0.2">4</text><text transform="translate(921.74,914.2)" font-size="12.8" fill="#1c1c1c" stroke="#1c1c1c" stroke-width="0.2">10</text><text transform="translate(937.12,905.9)" font-size="12.8" fill="#1c1c1c" stroke="#1c1c1c" stroke-width="0.2">5</text><path d="M611.4 868.83h-4.4M611.4 854.37h-4.4M611.4 839.9h-4.4M611.4 810.97h-4.4M611.4 796.51h-4.4M611.4 782.04h-4.4M611.4 753.12h-4.4M611.4 738.65h-4.4M611.4 724.18h-4.4M611.4 695.25h-4.4M611.4 680.79h-4.4M611.4 666.32h-4.4M611.4 637.39h-4.4M611.4 622.93h-4.4M611.4 608.46h-4.4M611.4 579.53h-4.4M611.4 565.07h-4.4M611.4 550.61h-4.4" stroke="#000" stroke-width="1.3" fill="none"/><path d="M611.4 883.3h-9.9M611.4 825.44h-9.9M611.4 767.58h-9.9M611.4 709.72h-9.9M611.4 651.86h-9.9M611.4 594h-9.9" stroke="#000" stroke-width="2" fill="none"/><text transform="translate(588.72,883.81)" font-size="12.2" fill="#1c1c1c" stroke="#1c1c1c" stroke-width="0.2">0</text><text transform="translate(569.85,831.65)" font-size="12.2" fill="#1c1c1c" stroke="#1c1c1c" stroke-width="0.2">1.0K</text><text transform="translate(569.85,773.79)" font-size="12.2" fill="#1c1c1c" stroke="#1c1c1c" stroke-width="0.2">2.0K</text><text transform="translate(569.85,715.93)" font-size="12.2" fill="#1c1c1c" stroke="#1c1c1c" stroke-width="0.2">3.0K</text><text transform="translate(569.85,658.07)" font-size="12.2" fill="#1c1c1c" stroke="#1c1c1c" stroke-width="0.2">4.0K</text><text transform="translate(569.85,600.21)" font-size="12.2" fill="#1c1c1c" stroke="#1c1c1c" stroke-width="0.2">5.0K</text><line x1="721.8" y1="678.5" x2="923.1" y2="678.5" stroke="#000" stroke-width="2.4"/><line x1="721.8" y1="671.5" x2="721.8" y2="685.5" stroke="#000" stroke-width="2.2"/><line x1="923.1" y1="671.5" x2="923.1" y2="685.5" stroke="#000" stroke-width="2.2"/><text transform="translate(809.61,641.1) scale(1.0500,1.0000)" font-size="15" fill="#1c1c1c" stroke="#1c1c1c" stroke-width="0.2">Ret</text><text transform="translate(806.25,660.1) scale(1.1105,1.0000)" font-size="15" fill="#1c1c1c" stroke="#1c1c1c" stroke-width="0.2">9.16</text><text transform="translate(757.35,945.2) scale(1.0309,1.0000)" font-size="14.5" fill="#1c1c1c" stroke="#1c1c1c" stroke-width="0.2">FITC–A</text><text transform="translate(535.6,710.9) rotate(-90) translate(-22.22,0) scale(1.1309,1)" font-size="14.5" fill="#1c1c1c" stroke="#1c1c1c" stroke-width="0.2">Count</text><line x1="1116.9" y1="72.5" x2="1116.9" y2="413.6" stroke="#000" stroke-width="3"/><line x1="1102.3" y1="412.1" x2="1343.5" y2="412.1" stroke="#000" stroke-width="3"/><line x1="1102.3" y1="412.1" x2="1116.9" y2="412.1" stroke="#000" stroke-width="3"/><text transform="translate(1082.81,421.43) scale(1.0000,1.0400)" font-size="26" font-weight="bold" fill="#000">0</text><line x1="1102.3" y1="327.2" x2="1116.9" y2="327.2" stroke="#000" stroke-width="3"/><text transform="translate(1082.42,336.39) scale(1.0000,1.0400)" font-size="26" font-weight="bold" fill="#000">5</text><line x1="1102.3" y1="242.3" x2="1116.9" y2="242.3" stroke="#000" stroke-width="3"/><text transform="translate(1068.38,251.63) scale(1.0000,1.0400)" font-size="26" font-weight="bold" fill="#000">10</text><line x1="1102.3" y1="157.4" x2="1116.9" y2="157.4" stroke="#000" stroke-width="3"/><text transform="translate(1067.99,166.59) scale(1.0000,1.0400)" font-size="26" font-weight="bold" fill="#000">15</text><line x1="1102.3" y1="72.5" x2="1116.9" y2="72.5" stroke="#000" stroke-width="3"/><text transform="translate(1068.38,81.83) scale(1.0000,1.0400)" font-size="26" font-weight="bold" fill="#000">20</text><rect x="1152.1" y="301.2" width="59.1" height="110.9" fill="#808080" stroke="#000" stroke-width="4.6"/><line x1="1181.3" y1="412.1" x2="1181.3" y2="426.4" stroke="#000" stroke-width="3"/><rect x="1249.4" y="230.4" width="59.3" height="181.7" fill="#a1a1a1" stroke="#000" stroke-width="4.6"/><line x1="1278.5" y1="412.1" x2="1278.5" y2="426.4" stroke="#000" stroke-width="3"/><circle cx="1181.7" cy="260.4" r="5" fill="#000"/><circle cx="1171.4" cy="273.3" r="5" fill="#000"/><circle cx="1191.9" cy="282.8" r="5" fill="#000"/><circle cx="1181.7" cy="315.3" r="5" fill="#000"/><circle cx="1191.9" cy="326" r="5" fill="#000"/><circle cx="1171.4" cy="335.5" r="5" fill="#000"/><circle cx="1258.4" cy="166.3" r="5" fill="#000"/><circle cx="1278.8" cy="177.2" r="5" fill="#000"/><circle cx="1299.6" cy="170.5" r="5" fill="#000"/><circle cx="1258.6" cy="289.8" r="5" fill="#000"/><circle cx="1278.9" cy="281.3" r="5" fill="#000"/><circle cx="1299.5" cy="283.7" r="5" fill="#000"/><line x1="1180.4" y1="125.9" x2="1280.4" y2="125.9" stroke="#000" stroke-width="3"/><text transform="translate(1222.81,128.22) scale(0.9972,1.0000)" font-size="38" font-weight="bold" fill="#000">*</text><text transform="translate(1137.57,455.3) scale(0.9912,1.0000)" font-size="26" font-weight="bold" fill="#000">control</text><text transform="translate(1241.16,455.3) scale(0.9980,1.0000)" font-size="26" font-weight="bold" fill="#000">HAPC</text><text transform="translate(1174.1,29.3) scale(0.9951,1.0800)" font-size="32.5" font-weight="bold" fill="#000">BM-Ret</text><text transform="translate(1049.5,281.95) rotate(-90) translate(-126.03,0) scale(0.9963,1)" font-size="27.5" font-weight="bold" fill="#000">BM-Ret Percentage</text><path d="M1028 101.2Q1040.35 91.2 1052.7 101.2" fill="none" stroke="#000" stroke-width="2.4"/><path d="M1028 131.2Q1040.35 142.2 1052.7 131.2" fill="none" stroke="#000" stroke-width="2.4"/><text transform="translate(1051.39,129.1) rotate(-90) scale(0.2786,0.3106)" font-size="100" font-weight="bold" fill="#000">%</text><line x1="1137.2" y1="587.9" x2="1137.2" y2="913" stroke="#000" stroke-width="3"/><line x1="1123.3" y1="911.5" x2="1352" y2="911.5" stroke="#000" stroke-width="3"/><line x1="1123.3" y1="911.5" x2="1137.2" y2="911.5" stroke="#000" stroke-width="3"/><text transform="translate(1104.83,920.12)" font-size="25" font-weight="bold" fill="#000">0</text><line x1="1123.3" y1="830.6" x2="1137.2" y2="830.6" stroke="#000" stroke-width="3"/><text transform="translate(1077.08,839.23)" font-size="25" font-weight="bold" fill="#000">500</text><line x1="1123.3" y1="749.7" x2="1137.2" y2="749.7" stroke="#000" stroke-width="3"/><text transform="translate(1063.08,758.33)" font-size="25" font-weight="bold" fill="#000">1000</text><line x1="1123.3" y1="668.8" x2="1137.2" y2="668.8" stroke="#000" stroke-width="3"/><text transform="translate(1063.08,677.42)" font-size="25" font-weight="bold" fill="#000">1500</text><line x1="1123.3" y1="587.9" x2="1137.2" y2="587.9" stroke="#000" stroke-width="3"/><text transform="translate(1063.08,596.52)" font-size="25" font-weight="bold" fill="#000">2000</text><rect x="1171.7" y="719.1" width="54.2" height="192.4" fill="#808080" stroke="#000" stroke-width="4.6"/><line x1="1198.1" y1="911.5" x2="1198.1" y2="926.5" stroke="#000" stroke-width="3"/><rect x="1264.1" y="663.7" width="54.5" height="247.8" fill="#a1a1a1" stroke="#000" stroke-width="4.6"/><line x1="1290.5" y1="911.5" x2="1290.5" y2="926.5" stroke="#000" stroke-width="3"/><circle cx="1178.8" cy="713.6" r="5" fill="#000"/><circle cx="1198.1" cy="703.6" r="5" fill="#000"/><circle cx="1217.5" cy="706" r="5" fill="#000"/><circle cx="1178.8" cy="730.6" r="5" fill="#000"/><circle cx="1198.1" cy="720.6" r="5" fill="#000"/><circle cx="1217.5" cy="722" r="5" fill="#000"/><circle cx="1290.8" cy="630.7" r="5" fill="#000"/><circle cx="1290.8" cy="647.6" r="5" fill="#000"/><circle cx="1281.8" cy="662.8" r="5" fill="#000"/><circle cx="1300.8" cy="662.8" r="5" fill="#000"/><circle cx="1281.8" cy="678" r="5" fill="#000"/><circle cx="1300.8" cy="672.5" r="5" fill="#000"/><line x1="1197.8" y1="592.3" x2="1292.2" y2="592.3" stroke="#000" stroke-width="3"/><text transform="translate(1213.55,598.4) scale(1.0178,1.0000)" font-size="40" font-weight="bold" fill="#000">****</text><text transform="translate(1156.36,952.4) scale(0.9930,1.0000)" font-size="25" font-weight="bold" fill="#000">control</text><text transform="translate(1254.98,952.4) scale(0.9985,1.0000)" font-size="25" font-weight="bold" fill="#000">HAPC</text><text transform="translate(1093.01,536.3) scale(0.9893,1.0000)" font-size="31" font-weight="bold" fill="#000">Peripheral Blood Ret</text><text transform="translate(1047.8,748.9) rotate(-90) translate(-213.08,0) scale(0.9980,1)" font-size="30.5" font-weight="bold" fill="#000">Fluorescence intensity of Ret</text><line x1="1122.4" y1="1090.8" x2="1122.4" y2="1427.4" stroke="#000" stroke-width="3"/><line x1="1107.9" y1="1425.9" x2="1344.7" y2="1425.9" stroke="#000" stroke-width="3"/><line x1="1107.9" y1="1425.9" x2="1122.4" y2="1425.9" stroke="#000" stroke-width="3"/><text transform="translate(1067.24,1435.44) scale(1.0000,1.0800)" font-size="25.6" font-weight="bold" fill="#000">0.0</text><line x1="1107.9" y1="1342.12" x2="1122.4" y2="1342.12" stroke="#000" stroke-width="3"/><text transform="translate(1066.86,1351.66) scale(1.0000,1.0800)" font-size="25.6" font-weight="bold" fill="#000">0.5</text><line x1="1107.9" y1="1258.35" x2="1122.4" y2="1258.35" stroke="#000" stroke-width="3"/><text transform="translate(1067.24,1267.89) scale(1.0000,1.0800)" font-size="25.6" font-weight="bold" fill="#000">1.0</text><line x1="1107.9" y1="1174.58" x2="1122.4" y2="1174.58" stroke="#000" stroke-width="3"/><text transform="translate(1066.86,1183.98) scale(1.0000,1.0800)" font-size="25.6" font-weight="bold" fill="#000">1.5</text><line x1="1107.9" y1="1090.8" x2="1122.4" y2="1090.8" stroke="#000" stroke-width="3"/><text transform="translate(1067.24,1100.34) scale(1.0000,1.0800)" font-size="25.6" font-weight="bold" fill="#000">2.0</text><rect x="1158.6" y="1252.8" width="55.5" height="173.1" fill="#808080" stroke="#000" stroke-width="4.6"/><line x1="1185.2" y1="1425.9" x2="1185.2" y2="1440" stroke="#000" stroke-width="3"/><rect x="1253" y="1396.3" width="56.5" height="29.6" fill="#a1a1a1" stroke="#000" stroke-width="4.6"/><line x1="1280.6" y1="1425.9" x2="1280.6" y2="1440" stroke="#000" stroke-width="3"/><circle cx="1185.9" cy="1184.1" r="5" fill="#000"/><circle cx="1185.9" cy="1211.4" r="5" fill="#000"/><circle cx="1195.7" cy="1253.2" r="5" fill="#000"/><circle cx="1176" cy="1259.1" r="5" fill="#000"/><circle cx="1176" cy="1295.9" r="5" fill="#000"/><circle cx="1195.7" cy="1292.6" r="5" fill="#000"/><circle cx="1281.3" cy="1367.3" r="5" fill="#000"/><circle cx="1281.3" cy="1380.5" r="5" fill="#000"/><circle cx="1271.4" cy="1396.9" r="5" fill="#000"/><circle cx="1291.1" cy="1396.9" r="5" fill="#000"/><circle cx="1271.4" cy="1408.8" r="5" fill="#000"/><circle cx="1291.1" cy="1408.8" r="5" fill="#000"/><line x1="1184.2" y1="1143.6" x2="1282.2" y2="1143.6" stroke="#000" stroke-width="3"/><text transform="translate(1200.44,1149.2) scale(1.0631,1.0000)" font-size="40" font-weight="bold" fill="#000">****</text><text transform="translate(1141.97,1469) scale(0.9865,1.0000)" font-size="26" font-weight="bold" fill="#000">control</text><text transform="translate(1244.36,1469) scale(0.9686,1.0000)" font-size="26" font-weight="bold" fill="#000">HAPC</text><text transform="translate(1117.13,1047.9) scale(0.9953,1.0350)" font-size="32" font-weight="bold" fill="#000">RBC Apoptosis</text><text transform="translate(1049.3,1298.85) rotate(-90) translate(-173.41,0) scale(0.9845,1)" font-size="27.5" font-weight="bold" fill="#000">RBC apoptosis percentage</text><path d="M1027.8 1068.6Q1039.9 1060 1052 1068.6" fill="none" stroke="#000" stroke-width="2.4"/><path d="M1027.8 1102.2Q1039.9 1112 1052 1102.2" fill="none" stroke="#000" stroke-width="2.4"/><text transform="translate(1050.11,1098.32) rotate(-90) scale(0.2869,0.2936)" font-size="100" font-weight="bold" fill="#000">%</text><text transform="translate(1.92,32.4) scale(0.4328,0.4362)" font-size="100" font-weight="bold" fill="#000">A</text><text transform="translate(502.11,32) scale(0.4131,0.4312)" font-size="100" font-weight="bold" fill="#000">B</text><text transform="translate(1018.88,33.31) scale(0.4046,0.4430)" font-size="100" font-weight="bold" fill="#000">C</text><text transform="translate(0.26,493.6) scale(0.4065,0.4348)" font-size="100" font-weight="bold" fill="#000">D</text><text transform="translate(501.91,493.4) scale(0.3982,0.4319)" font-size="100" font-weight="bold" fill="#000">E</text><text transform="translate(1018.29,493.75) scale(0.4020,0.4348)" font-size="100" font-weight="bold" fill="#000">F</text><text transform="translate(0.83,1023.46) scale(0.4178,0.4352)" font-size="100" font-weight="bold" fill="#000">G</text><text transform="translate(501.32,1023.4) scale(0.4271,0.4319)" font-size="100" font-weight="bold" fill="#000">H</text><text transform="translate(1018.89,1023.4) scale(0.3862,0.4319)" font-size="100" font-weight="bold" fill="#000">I</text></svg></body></html>
